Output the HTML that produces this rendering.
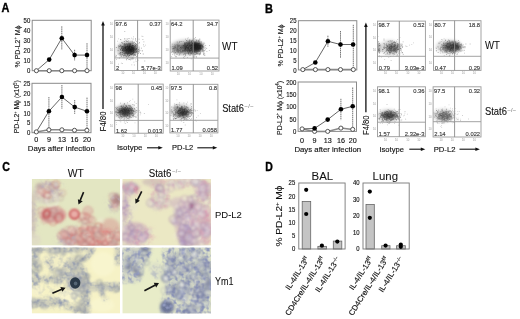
<!DOCTYPE html>
<html><head><meta charset="utf-8"><style>
html,body{margin:0;padding:0;background:#fff;width:520px;height:319px;overflow:hidden}
svg{display:block;filter:blur(0.35px)}
text{font-family:"Liberation Sans",sans-serif}
</style></head><body>
<svg width="520" height="319" viewBox="0 0 520 319" font-family="Liberation Sans, sans-serif">
<rect width="520" height="319" fill="#fff"/>
<clipPath id="m1"><rect x="31.7" y="178.9" width="88.3" height="66.69999999999999"/></clipPath><filter id="fm1" x="-20%" y="-20%" width="140%" height="140%"><feGaussianBlur stdDeviation="1.6"/></filter><filter id="gm1" x="-20%" y="-20%" width="140%" height="140%"><feGaussianBlur stdDeviation="0.85"/></filter><g clip-path="url(#m1)"><rect x="31.7" y="178.9" width="88.3" height="66.69999999999999" fill="#e3e6c2"/><g filter="url(#fm1)"><ellipse cx="40" cy="186" rx="4" ry="3" fill="#987078" fill-opacity="0.6"/><ellipse cx="53" cy="188" rx="6" ry="5" fill="#b09098" fill-opacity="0.5"/><ellipse cx="46" cy="193" rx="14" ry="11" fill="#d0c4c0" fill-opacity="0.5"/><ellipse cx="33" cy="215" rx="3" ry="22" fill="#c4acb0" fill-opacity="0.5"/><ellipse cx="53" cy="215" rx="13" ry="8" fill="#d4848a" fill-opacity="0.75"/><ellipse cx="74.4" cy="214.2" rx="5" ry="5" fill="#e0a0a0" fill-opacity="0.8"/><ellipse cx="88" cy="211" rx="5" ry="4.5" fill="#dcb0a8" fill-opacity="0.5"/><ellipse cx="116" cy="200" rx="5" ry="6.5" fill="#a07078" fill-opacity="0.8"/><ellipse cx="92" cy="237" rx="30" ry="10" fill="#d8a096" fill-opacity="0.75"/><ellipse cx="68" cy="238" rx="9" ry="8" fill="#c0a4b0" fill-opacity="0.7"/><ellipse cx="110" cy="227" rx="10" ry="9" fill="#d8a49a" fill-opacity="0.6"/><ellipse cx="100" cy="245" rx="20" ry="4" fill="#cc8a84" fill-opacity="0.8"/><ellipse cx="86" cy="219" rx="8" ry="5" fill="#dca8a0" fill-opacity="0.5"/><ellipse cx="86.9" cy="234.9" rx="3.5" ry="3.5" fill="#f4f0e0" fill-opacity="0.9"/><ellipse cx="101" cy="221" rx="3" ry="3" fill="#ece8d0" fill-opacity="0.7"/><ellipse cx="75" cy="229" rx="2.5" ry="2.5" fill="#f0ece0" fill-opacity="0.6"/><ellipse cx="35" cy="240" rx="6" ry="6" fill="#dcd0c8" fill-opacity="0.4"/><ellipse cx="70" cy="233" rx="3" ry="3" fill="#ece8d0" fill-opacity="0.6"/><ellipse cx="97" cy="241" rx="3" ry="2.5" fill="#ece8d0" fill-opacity="0.6"/><ellipse cx="108" cy="237" rx="3" ry="3" fill="#e4ecd0" fill-opacity="0.6"/><ellipse cx="116" cy="232" rx="2.5" ry="2.5" fill="#e4ecd0" fill-opacity="0.6"/></g><filter id="tm10" x="0" y="0" width="100%" height="100%" filterUnits="userSpaceOnUse"><feGaussianBlur in="SourceGraphic" stdDeviation="2.5" result="m"/><feTurbulence type="fractalNoise" baseFrequency="0.22" numOctaves="2" seed="11" result="n"/><feColorMatrix in="n" type="matrix" values="0 0 0 0 0.502 0 0 0 0 0.439 0 0 0 0 0.502 2.4 0 0 0 -0.95" result="c"/><feComposite in="c" in2="m" operator="in"/></filter><g filter="url(#tm10)"><ellipse cx="50" cy="190" rx="13" ry="10" fill="#000" fill-opacity="1"/><ellipse cx="114" cy="203" rx="7" ry="9" fill="#000" fill-opacity="1"/><ellipse cx="34" cy="215" rx="3" ry="22" fill="#000" fill-opacity="0.7"/><ellipse cx="66" cy="238" rx="9" ry="9" fill="#000" fill-opacity="1"/></g><filter id="tm11" x="0" y="0" width="100%" height="100%" filterUnits="userSpaceOnUse"><feGaussianBlur in="SourceGraphic" stdDeviation="2.5" result="m"/><feTurbulence type="fractalNoise" baseFrequency="0.2" numOctaves="2" seed="12" result="n"/><feColorMatrix in="n" type="matrix" values="0 0 0 0 0.753 0 0 0 0 0.267 0 0 0 0 0.243 2.4 0 0 0 -0.98" result="c"/><feComposite in="c" in2="m" operator="in"/></filter><g filter="url(#tm11)"><ellipse cx="52" cy="215" rx="12" ry="7" fill="#000" fill-opacity="1"/><ellipse cx="92" cy="237" rx="30" ry="10" fill="#000" fill-opacity="1"/><ellipse cx="86" cy="219" rx="7" ry="4" fill="#000" fill-opacity="0.7"/></g><g filter="url(#gm1)"><circle cx="51.1" cy="215.5" r="3.3" fill="#f4e4d8" fill-opacity="0.22" stroke="#b86868" stroke-width="0.8" stroke-opacity="0.37"/><circle cx="88.6" cy="239.0" r="3.5" fill="#f4e4d8" fill-opacity="0.13" stroke="#a08888" stroke-width="0.7" stroke-opacity="0.53"/><circle cx="84.8" cy="242.8" r="3.6" fill="#f0d4c8" fill-opacity="0.18" stroke="#a08888" stroke-width="0.9" stroke-opacity="0.58"/><circle cx="57.1" cy="212.8" r="2.8" fill="#f0d4c8" fill-opacity="0.22" stroke="#b86868" stroke-width="1.0" stroke-opacity="0.58"/><circle cx="109.9" cy="246.0" r="3.2" fill="#f4e4d8" fill-opacity="0.23" stroke="#a08888" stroke-width="0.8" stroke-opacity="0.34"/><circle cx="85.8" cy="231.3" r="3.3" fill="#f0d4c8" fill-opacity="0.20" stroke="#c04848" stroke-width="0.9" stroke-opacity="0.32"/><circle cx="113.3" cy="203.4" r="3.1" fill="#f4e4d8" fill-opacity="0.22" stroke="#a08888" stroke-width="0.8" stroke-opacity="0.49"/><circle cx="96.2" cy="244.0" r="2.7" fill="#f0d4c8" fill-opacity="0.21" stroke="#c04848" stroke-width="1.1" stroke-opacity="0.60"/><circle cx="56.9" cy="219.6" r="2.5" fill="#f0d4c8" fill-opacity="0.27" stroke="#b86868" stroke-width="0.9" stroke-opacity="0.41"/><circle cx="82.4" cy="229.3" r="2.6" fill="#f0d4c8" fill-opacity="0.15" stroke="#c04848" stroke-width="1.0" stroke-opacity="0.49"/><circle cx="82.9" cy="238.7" r="3.7" fill="#f4e4d8" fill-opacity="0.26" stroke="#b86868" stroke-width="1.0" stroke-opacity="0.43"/><circle cx="77.6" cy="237.7" r="3.3" fill="#f0d4c8" fill-opacity="0.18" stroke="#b86868" stroke-width="0.7" stroke-opacity="0.42"/><circle cx="71.8" cy="230.7" r="3.9" fill="#f0d4c8" fill-opacity="0.28" stroke="#c04848" stroke-width="1.1" stroke-opacity="0.59"/><circle cx="40.0" cy="193.7" r="3.6" fill="#f4e4d8" fill-opacity="0.28" stroke="#b86868" stroke-width="1.0" stroke-opacity="0.30"/><circle cx="73.7" cy="232.8" r="2.6" fill="#f4e4d8" fill-opacity="0.13" stroke="#b86868" stroke-width="1.2" stroke-opacity="0.54"/><circle cx="88.0" cy="238.6" r="2.7" fill="#f0d4c8" fill-opacity="0.22" stroke="#a08888" stroke-width="0.9" stroke-opacity="0.44"/><circle cx="120.6" cy="238.0" r="3.1" fill="#f0d4c8" fill-opacity="0.13" stroke="#c04848" stroke-width="0.9" stroke-opacity="0.49"/><circle cx="46.7" cy="199.8" r="3.2" fill="#f0d4c8" fill-opacity="0.26" stroke="#a08888" stroke-width="0.8" stroke-opacity="0.41"/><circle cx="85.7" cy="232.8" r="3.6" fill="#f0d4c8" fill-opacity="0.11" stroke="#a08888" stroke-width="0.9" stroke-opacity="0.51"/><circle cx="68.9" cy="239.9" r="2.9" fill="#f0d4c8" fill-opacity="0.12" stroke="#a08888" stroke-width="0.8" stroke-opacity="0.54"/><circle cx="91.2" cy="240.4" r="3.4" fill="#f0d4c8" fill-opacity="0.21" stroke="#c04848" stroke-width="1.1" stroke-opacity="0.51"/><circle cx="64.1" cy="235.5" r="3.7" fill="#f4e4d8" fill-opacity="0.27" stroke="#a08888" stroke-width="0.9" stroke-opacity="0.51"/><circle cx="55.5" cy="197.7" r="4.0" fill="#f4e4d8" fill-opacity="0.12" stroke="#a08888" stroke-width="0.7" stroke-opacity="0.47"/><circle cx="80.6" cy="239.1" r="2.3" fill="#f4e4d8" fill-opacity="0.23" stroke="#b86868" stroke-width="1.0" stroke-opacity="0.53"/><circle cx="67.6" cy="230.2" r="3.4" fill="#f0d4c8" fill-opacity="0.13" stroke="#b86868" stroke-width="1.1" stroke-opacity="0.34"/><circle cx="46.3" cy="195.3" r="3.3" fill="#f0d4c8" fill-opacity="0.29" stroke="#a08888" stroke-width="1.0" stroke-opacity="0.53"/><circle cx="92.0" cy="238.1" r="3.3" fill="#f0d4c8" fill-opacity="0.28" stroke="#b86868" stroke-width="0.7" stroke-opacity="0.44"/><circle cx="107.4" cy="235.6" r="3.1" fill="#f4e4d8" fill-opacity="0.27" stroke="#b86868" stroke-width="1.1" stroke-opacity="0.56"/><circle cx="89.5" cy="229.9" r="2.4" fill="#f0d4c8" fill-opacity="0.12" stroke="#b86868" stroke-width="0.7" stroke-opacity="0.43"/><circle cx="52.4" cy="214.3" r="3.4" fill="#f0d4c8" fill-opacity="0.25" stroke="#b86868" stroke-width="1.0" stroke-opacity="0.50"/><circle cx="117.7" cy="235.3" r="3.9" fill="#f0d4c8" fill-opacity="0.23" stroke="#a08888" stroke-width="1.0" stroke-opacity="0.50"/><circle cx="81.5" cy="242.8" r="3.4" fill="#f0d4c8" fill-opacity="0.21" stroke="#a08888" stroke-width="0.8" stroke-opacity="0.44"/><circle cx="102.5" cy="227.2" r="2.5" fill="#f0d4c8" fill-opacity="0.17" stroke="#b86868" stroke-width="0.8" stroke-opacity="0.32"/><circle cx="41.6" cy="210.7" r="3.5" fill="#f0d4c8" fill-opacity="0.28" stroke="#b86868" stroke-width="0.9" stroke-opacity="0.54"/><circle cx="81.9" cy="242.1" r="3.5" fill="#f0d4c8" fill-opacity="0.23" stroke="#b86868" stroke-width="1.1" stroke-opacity="0.52"/><circle cx="112.7" cy="244.9" r="3.2" fill="#f0d4c8" fill-opacity="0.23" stroke="#a08888" stroke-width="1.0" stroke-opacity="0.39"/><circle cx="85.4" cy="228.7" r="3.6" fill="#f4e4d8" fill-opacity="0.20" stroke="#a08888" stroke-width="1.0" stroke-opacity="0.36"/><circle cx="105.3" cy="243.2" r="2.4" fill="#f0d4c8" fill-opacity="0.29" stroke="#c04848" stroke-width="0.8" stroke-opacity="0.54"/><circle cx="62.6" cy="192.9" r="3.2" fill="#f0d4c8" fill-opacity="0.16" stroke="#b86868" stroke-width="1.0" stroke-opacity="0.34"/><circle cx="104.8" cy="243.6" r="3.0" fill="#f4e4d8" fill-opacity="0.20" stroke="#c04848" stroke-width="1.1" stroke-opacity="0.42"/><circle cx="48.4" cy="211.5" r="3.0" fill="#f0d4c8" fill-opacity="0.19" stroke="#b86868" stroke-width="1.1" stroke-opacity="0.52"/><circle cx="78.6" cy="219.3" r="2.2" fill="#f4e4d8" fill-opacity="0.15" stroke="#b86868" stroke-width="0.8" stroke-opacity="0.44"/><circle cx="47.1" cy="191.1" r="2.9" fill="#f4e4d8" fill-opacity="0.23" stroke="#c04848" stroke-width="0.8" stroke-opacity="0.35"/><circle cx="44.2" cy="221.2" r="2.4" fill="#f4e4d8" fill-opacity="0.26" stroke="#b86868" stroke-width="0.8" stroke-opacity="0.54"/><circle cx="72.6" cy="243.7" r="2.6" fill="#f0d4c8" fill-opacity="0.11" stroke="#b86868" stroke-width="1.0" stroke-opacity="0.40"/><circle cx="90.4" cy="241.4" r="4.0" fill="#f0d4c8" fill-opacity="0.17" stroke="#b86868" stroke-width="1.2" stroke-opacity="0.58"/><circle cx="85.9" cy="244.7" r="2.7" fill="#f0d4c8" fill-opacity="0.12" stroke="#b86868" stroke-width="1.0" stroke-opacity="0.46"/><circle cx="107.7" cy="238.7" r="3.9" fill="#f0d4c8" fill-opacity="0.28" stroke="#b86868" stroke-width="1.1" stroke-opacity="0.43"/><circle cx="61.2" cy="235.6" r="3.6" fill="#f0d4c8" fill-opacity="0.29" stroke="#c04848" stroke-width="0.8" stroke-opacity="0.51"/><circle cx="89.3" cy="239.8" r="3.0" fill="#f0d4c8" fill-opacity="0.30" stroke="#c04848" stroke-width="0.7" stroke-opacity="0.42"/><circle cx="49.5" cy="216.8" r="3.6" fill="#f0d4c8" fill-opacity="0.26" stroke="#a08888" stroke-width="1.1" stroke-opacity="0.44"/><circle cx="91.7" cy="226.8" r="3.4" fill="#f4e4d8" fill-opacity="0.16" stroke="#a08888" stroke-width="0.9" stroke-opacity="0.41"/><circle cx="63.1" cy="232.9" r="3.1" fill="#f4e4d8" fill-opacity="0.17" stroke="#c04848" stroke-width="0.9" stroke-opacity="0.43"/><circle cx="86.4" cy="243.6" r="3.0" fill="#f4e4d8" fill-opacity="0.28" stroke="#b86868" stroke-width="0.9" stroke-opacity="0.53"/><circle cx="56.5" cy="213.7" r="2.3" fill="#f4e4d8" fill-opacity="0.16" stroke="#b86868" stroke-width="0.7" stroke-opacity="0.44"/><circle cx="114.4" cy="208.2" r="3.1" fill="#f0d4c8" fill-opacity="0.30" stroke="#a08888" stroke-width="0.9" stroke-opacity="0.35"/><circle cx="58.1" cy="209.6" r="3.2" fill="#f0d4c8" fill-opacity="0.29" stroke="#b86868" stroke-width="0.8" stroke-opacity="0.44"/><circle cx="112.3" cy="234.6" r="2.6" fill="#f4e4d8" fill-opacity="0.10" stroke="#a08888" stroke-width="1.0" stroke-opacity="0.46"/><circle cx="102.8" cy="247.1" r="2.5" fill="#f4e4d8" fill-opacity="0.16" stroke="#b86868" stroke-width="1.1" stroke-opacity="0.48"/><circle cx="75.7" cy="228.5" r="2.3" fill="#f4e4d8" fill-opacity="0.23" stroke="#a08888" stroke-width="0.8" stroke-opacity="0.53"/><circle cx="81.9" cy="245.2" r="3.7" fill="#f0d4c8" fill-opacity="0.20" stroke="#b86868" stroke-width="1.0" stroke-opacity="0.38"/><circle cx="89.3" cy="241.1" r="3.0" fill="#f0d4c8" fill-opacity="0.17" stroke="#a08888" stroke-width="0.8" stroke-opacity="0.35"/><circle cx="58.4" cy="213.8" r="3.7" fill="#f0d4c8" fill-opacity="0.29" stroke="#a08888" stroke-width="0.8" stroke-opacity="0.39"/><circle cx="99.7" cy="236.0" r="2.8" fill="#f0d4c8" fill-opacity="0.14" stroke="#b86868" stroke-width="1.2" stroke-opacity="0.42"/><circle cx="86.3" cy="216.3" r="3.0" fill="#f0d4c8" fill-opacity="0.30" stroke="#c04848" stroke-width="0.9" stroke-opacity="0.59"/><circle cx="98.2" cy="226.7" r="3.3" fill="#f4e4d8" fill-opacity="0.23" stroke="#c04848" stroke-width="1.2" stroke-opacity="0.59"/><circle cx="56.0" cy="216.6" r="3.1" fill="#f4e4d8" fill-opacity="0.13" stroke="#a08888" stroke-width="0.8" stroke-opacity="0.60"/><circle cx="55.2" cy="185.4" r="2.4" fill="#f0d4c8" fill-opacity="0.29" stroke="#a08888" stroke-width="0.7" stroke-opacity="0.36"/><circle cx="84.7" cy="243.7" r="2.5" fill="#f4e4d8" fill-opacity="0.16" stroke="#c04848" stroke-width="0.8" stroke-opacity="0.48"/><circle cx="45.5" cy="217.6" r="2.4" fill="#f0d4c8" fill-opacity="0.30" stroke="#a08888" stroke-width="0.9" stroke-opacity="0.51"/><circle cx="54.6" cy="209.6" r="2.8" fill="#f4e4d8" fill-opacity="0.16" stroke="#a08888" stroke-width="1.0" stroke-opacity="0.49"/><circle cx="84.4" cy="227.0" r="3.5" fill="#f0d4c8" fill-opacity="0.27" stroke="#b86868" stroke-width="0.8" stroke-opacity="0.59"/><circle cx="68.8" cy="237.5" r="2.3" fill="#f0d4c8" fill-opacity="0.18" stroke="#c04848" stroke-width="0.9" stroke-opacity="0.36"/><circle cx="80.4" cy="240.2" r="3.8" fill="#f0d4c8" fill-opacity="0.10" stroke="#b86868" stroke-width="1.0" stroke-opacity="0.42"/><circle cx="42.5" cy="191.9" r="3.3" fill="#f4e4d8" fill-opacity="0.28" stroke="#c04848" stroke-width="0.9" stroke-opacity="0.38"/><circle cx="98.2" cy="236.1" r="3.8" fill="#f0d4c8" fill-opacity="0.17" stroke="#a08888" stroke-width="0.8" stroke-opacity="0.56"/><circle cx="112.7" cy="196.7" r="3.7" fill="#f4e4d8" fill-opacity="0.19" stroke="#b86868" stroke-width="0.9" stroke-opacity="0.45"/><circle cx="84.0" cy="244.9" r="2.7" fill="#f4e4d8" fill-opacity="0.11" stroke="#a08888" stroke-width="1.2" stroke-opacity="0.32"/><circle cx="68.5" cy="240.9" r="2.8" fill="#f0d4c8" fill-opacity="0.28" stroke="#c04848" stroke-width="1.1" stroke-opacity="0.36"/><circle cx="41.2" cy="214.5" r="2.8" fill="#f4e4d8" fill-opacity="0.19" stroke="#a08888" stroke-width="0.9" stroke-opacity="0.39"/><circle cx="114.9" cy="204.8" r="2.5" fill="#f4e4d8" fill-opacity="0.17" stroke="#c04848" stroke-width="0.9" stroke-opacity="0.56"/><circle cx="45.5" cy="194.1" r="3.4" fill="#f0d4c8" fill-opacity="0.25" stroke="#c04848" stroke-width="0.8" stroke-opacity="0.43"/><circle cx="92.0" cy="220.2" r="3.6" fill="#f0d4c8" fill-opacity="0.22" stroke="#b86868" stroke-width="1.0" stroke-opacity="0.49"/><circle cx="102.9" cy="238.4" r="3.2" fill="#f0d4c8" fill-opacity="0.20" stroke="#b86868" stroke-width="1.0" stroke-opacity="0.37"/><circle cx="79.6" cy="238.7" r="3.1" fill="#f0d4c8" fill-opacity="0.26" stroke="#c04848" stroke-width="1.0" stroke-opacity="0.51"/><circle cx="115.8" cy="206.6" r="3.6" fill="#f0d4c8" fill-opacity="0.20" stroke="#a08888" stroke-width="0.8" stroke-opacity="0.39"/><circle cx="72.6" cy="241.9" r="2.9" fill="#f4e4d8" fill-opacity="0.22" stroke="#a08888" stroke-width="0.8" stroke-opacity="0.45"/><circle cx="115.8" cy="239.0" r="2.9" fill="#f4e4d8" fill-opacity="0.20" stroke="#a08888" stroke-width="0.9" stroke-opacity="0.58"/><circle cx="46.2" cy="217.4" r="2.6" fill="#f4e4d8" fill-opacity="0.15" stroke="#b86868" stroke-width="1.1" stroke-opacity="0.52"/><circle cx="95.0" cy="230.5" r="3.0" fill="#f4e4d8" fill-opacity="0.17" stroke="#c04848" stroke-width="0.8" stroke-opacity="0.50"/><circle cx="54.1" cy="212.9" r="3.8" fill="#f0d4c8" fill-opacity="0.20" stroke="#a08888" stroke-width="1.0" stroke-opacity="0.59"/><circle cx="52.9" cy="221.6" r="3.9" fill="#f0d4c8" fill-opacity="0.14" stroke="#c04848" stroke-width="0.8" stroke-opacity="0.59"/><circle cx="55.9" cy="184.4" r="3.7" fill="#f4e4d8" fill-opacity="0.15" stroke="#c04848" stroke-width="1.0" stroke-opacity="0.57"/><circle cx="65.3" cy="234.5" r="3.4" fill="#f0d4c8" fill-opacity="0.23" stroke="#b86868" stroke-width="0.9" stroke-opacity="0.54"/><circle cx="82.7" cy="215.6" r="2.7" fill="#f4e4d8" fill-opacity="0.18" stroke="#a08888" stroke-width="0.9" stroke-opacity="0.36"/><circle cx="91.2" cy="229.4" r="3.0" fill="#f0d4c8" fill-opacity="0.26" stroke="#c04848" stroke-width="1.1" stroke-opacity="0.45"/><circle cx="83.6" cy="221.2" r="2.4" fill="#f4e4d8" fill-opacity="0.15" stroke="#a08888" stroke-width="1.2" stroke-opacity="0.34"/><circle cx="95.5" cy="239.1" r="2.3" fill="#f0d4c8" fill-opacity="0.16" stroke="#b86868" stroke-width="0.9" stroke-opacity="0.53"/><circle cx="99.3" cy="228.4" r="2.5" fill="#f0d4c8" fill-opacity="0.20" stroke="#a08888" stroke-width="0.7" stroke-opacity="0.32"/><circle cx="92.5" cy="243.2" r="3.5" fill="#f0d4c8" fill-opacity="0.19" stroke="#b86868" stroke-width="1.0" stroke-opacity="0.31"/><circle cx="53.0" cy="210.3" r="2.8" fill="#f0d4c8" fill-opacity="0.25" stroke="#b86868" stroke-width="0.9" stroke-opacity="0.36"/><circle cx="51.3" cy="218.4" r="2.6" fill="#f4e4d8" fill-opacity="0.16" stroke="#a08888" stroke-width="0.8" stroke-opacity="0.45"/><circle cx="97.8" cy="230.5" r="3.5" fill="#f0d4c8" fill-opacity="0.21" stroke="#c04848" stroke-width="0.8" stroke-opacity="0.36"/><circle cx="89.6" cy="227.9" r="2.5" fill="#f4e4d8" fill-opacity="0.30" stroke="#c04848" stroke-width="0.9" stroke-opacity="0.45"/><circle cx="40.1" cy="190.3" r="2.9" fill="#f4e4d8" fill-opacity="0.27" stroke="#b86868" stroke-width="0.8" stroke-opacity="0.57"/><circle cx="60.1" cy="197.9" r="3.2" fill="#f0d4c8" fill-opacity="0.10" stroke="#a08888" stroke-width="0.8" stroke-opacity="0.55"/><circle cx="116.8" cy="230.6" r="2.3" fill="#f0d4c8" fill-opacity="0.17" stroke="#b86868" stroke-width="0.8" stroke-opacity="0.59"/><circle cx="114.1" cy="242.4" r="2.4" fill="#f0d4c8" fill-opacity="0.15" stroke="#a08888" stroke-width="1.2" stroke-opacity="0.38"/><circle cx="90.4" cy="219.0" r="2.4" fill="#f4e4d8" fill-opacity="0.10" stroke="#b86868" stroke-width="0.9" stroke-opacity="0.35"/><circle cx="58.6" cy="215.4" r="2.8" fill="#f0d4c8" fill-opacity="0.10" stroke="#b86868" stroke-width="1.1" stroke-opacity="0.43"/><circle cx="77.3" cy="237.4" r="2.9" fill="#f0d4c8" fill-opacity="0.25" stroke="#a08888" stroke-width="0.9" stroke-opacity="0.47"/><circle cx="50.7" cy="214.5" r="2.5" fill="#f0d4c8" fill-opacity="0.16" stroke="#b86868" stroke-width="1.0" stroke-opacity="0.55"/><circle cx="71.3" cy="230.0" r="4.0" fill="#f0d4c8" fill-opacity="0.28" stroke="#a08888" stroke-width="1.1" stroke-opacity="0.33"/><circle cx="47.7" cy="183.5" r="2.8" fill="#f4e4d8" fill-opacity="0.11" stroke="#b86868" stroke-width="0.7" stroke-opacity="0.45"/><circle cx="95.2" cy="230.0" r="3.6" fill="#f4e4d8" fill-opacity="0.27" stroke="#a08888" stroke-width="1.0" stroke-opacity="0.59"/><circle cx="49.2" cy="218.6" r="3.7" fill="#f0d4c8" fill-opacity="0.20" stroke="#b86868" stroke-width="1.0" stroke-opacity="0.34"/><circle cx="97.4" cy="234.1" r="2.7" fill="#f4e4d8" fill-opacity="0.25" stroke="#a08888" stroke-width="1.1" stroke-opacity="0.43"/><circle cx="85.4" cy="220.8" r="3.1" fill="#f0d4c8" fill-opacity="0.26" stroke="#a08888" stroke-width="0.8" stroke-opacity="0.54"/><circle cx="47.8" cy="195.0" r="3.2" fill="#f0d4c8" fill-opacity="0.10" stroke="#c04848" stroke-width="1.2" stroke-opacity="0.49"/><circle cx="46.8" cy="213.5" r="2.8" fill="#f0d4c8" fill-opacity="0.20" stroke="#c04848" stroke-width="1.2" stroke-opacity="0.49"/><circle cx="82.5" cy="216.6" r="3.6" fill="#f0d4c8" fill-opacity="0.22" stroke="#c04848" stroke-width="0.9" stroke-opacity="0.50"/><circle cx="89.7" cy="232.1" r="3.9" fill="#f0d4c8" fill-opacity="0.16" stroke="#c04848" stroke-width="0.7" stroke-opacity="0.59"/><circle cx="85.1" cy="246.3" r="3.9" fill="#f0d4c8" fill-opacity="0.17" stroke="#b86868" stroke-width="0.8" stroke-opacity="0.35"/><circle cx="51.8" cy="187.3" r="2.4" fill="#f0d4c8" fill-opacity="0.30" stroke="#a08888" stroke-width="1.0" stroke-opacity="0.56"/><circle cx="82.9" cy="235.9" r="2.7" fill="#f0d4c8" fill-opacity="0.23" stroke="#b86868" stroke-width="0.8" stroke-opacity="0.40"/><circle cx="59.1" cy="219.7" r="3.5" fill="#f4e4d8" fill-opacity="0.25" stroke="#b86868" stroke-width="1.0" stroke-opacity="0.36"/><circle cx="99.6" cy="247.3" r="3.2" fill="#f4e4d8" fill-opacity="0.23" stroke="#a08888" stroke-width="0.9" stroke-opacity="0.55"/><circle cx="118.7" cy="236.1" r="3.9" fill="#f0d4c8" fill-opacity="0.22" stroke="#c04848" stroke-width="1.1" stroke-opacity="0.34"/><circle cx="84.0" cy="232.9" r="2.5" fill="#f0d4c8" fill-opacity="0.10" stroke="#a08888" stroke-width="1.0" stroke-opacity="0.56"/><circle cx="92.8" cy="242.2" r="2.3" fill="#f4e4d8" fill-opacity="0.29" stroke="#c04848" stroke-width="0.8" stroke-opacity="0.49"/><circle cx="46.5" cy="214.2" r="3.8" fill="none" stroke="#c04048" stroke-width="1.5" opacity="0.75"/><circle cx="58.9" cy="217.3" r="4" fill="none" stroke="#c84850" stroke-width="1.3" opacity="0.65"/><circle cx="74.4" cy="214.2" r="4.4" fill="#eaaea8" stroke="#c83840" stroke-width="1.6" opacity="0.95"/><circle cx="88" cy="211" r="4.5" fill="none" stroke="#d08080" stroke-width="1.0" opacity="0.5"/><circle cx="52" cy="200" r="6" fill="none" stroke="#f4f0e8" stroke-width="1.2" opacity="0.6"/></g></g><line x1="83.6" y1="192.1" x2="80.07" y2="200.61" stroke="#151515" stroke-width="1.6"/><path d="M78.50 204.40 L77.86 199.15 L82.66 201.15 Z" fill="#151515"/><clipPath id="m2"><rect x="122.3" y="178.9" width="88.7" height="66.69999999999999"/></clipPath><filter id="fm2" x="-20%" y="-20%" width="140%" height="140%"><feGaussianBlur stdDeviation="1.6"/></filter><filter id="gm2" x="-20%" y="-20%" width="140%" height="140%"><feGaussianBlur stdDeviation="0.85"/></filter><g clip-path="url(#m2)"><rect x="122.3" y="178.9" width="88.7" height="66.69999999999999" fill="#ebe8c4"/><g filter="url(#fm2)"><ellipse cx="130" cy="188" rx="9" ry="6" fill="#a888b0" fill-opacity="0.6"/><ellipse cx="135.5" cy="188.7" rx="2" ry="2" fill="#c03050" fill-opacity="0.9"/><ellipse cx="125" cy="208" rx="4" ry="14" fill="#b898b8" fill-opacity="0.5"/><ellipse cx="135" cy="234" rx="14" ry="12" fill="#c4a0b8" fill-opacity="0.55"/><ellipse cx="153" cy="182" rx="11" ry="4" fill="#c0a8b0" fill-opacity="0.5"/><ellipse cx="185" cy="183" rx="22" ry="4" fill="#d0c0c4" fill-opacity="0.4"/><ellipse cx="160" cy="200" rx="10" ry="10" fill="#c8b4bc" fill-opacity="0.4"/><ellipse cx="192" cy="224" rx="17" ry="24" fill="#c8a4b8" fill-opacity="0.5"/><ellipse cx="186" cy="236" rx="7" ry="12" fill="#9880b0" fill-opacity="0.55"/><ellipse cx="206" cy="225" rx="6" ry="20" fill="#d0a0b4" fill-opacity="0.55"/><ellipse cx="204" cy="190" rx="7" ry="10" fill="#c098b0" fill-opacity="0.55"/><ellipse cx="191.4" cy="205.9" rx="3" ry="3" fill="#803068" fill-opacity="0.9"/><ellipse cx="178" cy="203" rx="8" ry="6" fill="#c8a8c0" fill-opacity="0.45"/><ellipse cx="200" cy="238" rx="3.5" ry="3.5" fill="#f0ecd8" fill-opacity="0.6"/><ellipse cx="181" cy="213" rx="3" ry="3" fill="#f0ecd8" fill-opacity="0.5"/><ellipse cx="203" cy="210" rx="3.5" ry="3" fill="#f0ecd8" fill-opacity="0.5"/><ellipse cx="196" cy="197" rx="3" ry="3" fill="#f0ecd8" fill-opacity="0.4"/><ellipse cx="176" cy="236" rx="3" ry="3" fill="#f0ecd8" fill-opacity="0.4"/><ellipse cx="134" cy="205" rx="4" ry="6" fill="#e8e4d0" fill-opacity="0.5"/></g><filter id="tm20" x="0" y="0" width="100%" height="100%" filterUnits="userSpaceOnUse"><feGaussianBlur in="SourceGraphic" stdDeviation="2.5" result="m"/><feTurbulence type="fractalNoise" baseFrequency="0.2" numOctaves="2" seed="21" result="n"/><feColorMatrix in="n" type="matrix" values="0 0 0 0 0.416 0 0 0 0 0.290 0 0 0 0 0.533 2.4 0 0 0 -1.0" result="c"/><feComposite in="c" in2="m" operator="in"/></filter><g filter="url(#tm20)"><ellipse cx="126" cy="212" rx="5" ry="16" fill="#000" fill-opacity="0.8"/><ellipse cx="186" cy="232" rx="8" ry="16" fill="#000" fill-opacity="1"/><ellipse cx="190" cy="212" rx="7" ry="8" fill="#000" fill-opacity="0.7"/><ellipse cx="135" cy="236" rx="12" ry="9" fill="#000" fill-opacity="0.6"/></g><filter id="tm21" x="0" y="0" width="100%" height="100%" filterUnits="userSpaceOnUse"><feGaussianBlur in="SourceGraphic" stdDeviation="2.5" result="m"/><feTurbulence type="fractalNoise" baseFrequency="0.2" numOctaves="2" seed="22" result="n"/><feColorMatrix in="n" type="matrix" values="0 0 0 0 0.722 0 0 0 0 0.345 0 0 0 0 0.439 2.4 0 0 0 -0.98" result="c"/><feComposite in="c" in2="m" operator="in"/></filter><g filter="url(#tm21)"><ellipse cx="130" cy="189" rx="10" ry="7" fill="#000" fill-opacity="1"/><ellipse cx="204" cy="192" rx="8" ry="12" fill="#000" fill-opacity="1"/><ellipse cx="206" cy="225" rx="6" ry="20" fill="#000" fill-opacity="1"/><ellipse cx="178" cy="183" rx="30" ry="5" fill="#000" fill-opacity="0.6"/><ellipse cx="160" cy="198" rx="11" ry="11" fill="#000" fill-opacity="0.6"/><ellipse cx="140" cy="236" rx="14" ry="10" fill="#000" fill-opacity="0.8"/><ellipse cx="196" cy="222" rx="12" ry="18" fill="#000" fill-opacity="0.6"/></g><g filter="url(#gm2)"><circle cx="156.8" cy="187.2" r="2.9" fill="#e8d8e0" fill-opacity="0.26" stroke="#8a6aa0" stroke-width="0.8" stroke-opacity="0.33"/><circle cx="197.8" cy="234.5" r="2.5" fill="#e8d8e0" fill-opacity="0.16" stroke="#9080a8" stroke-width="1.2" stroke-opacity="0.41"/><circle cx="151.3" cy="204.1" r="2.6" fill="#e8d8e0" fill-opacity="0.12" stroke="#9080a8" stroke-width="1.1" stroke-opacity="0.20"/><circle cx="148.8" cy="231.5" r="3.0" fill="#e8d8e0" fill-opacity="0.19" stroke="#8a6aa0" stroke-width="0.8" stroke-opacity="0.26"/><circle cx="194.8" cy="181.8" r="4.0" fill="#e8d8e0" fill-opacity="0.24" stroke="#8a6aa0" stroke-width="1.2" stroke-opacity="0.25"/><circle cx="190.0" cy="199.2" r="3.8" fill="#f0e8e8" fill-opacity="0.27" stroke="#9080a8" stroke-width="0.8" stroke-opacity="0.39"/><circle cx="188.9" cy="245.7" r="2.7" fill="#f0e8e8" fill-opacity="0.26" stroke="#a07090" stroke-width="1.1" stroke-opacity="0.42"/><circle cx="204.0" cy="197.1" r="3.3" fill="#f0e8e8" fill-opacity="0.17" stroke="#8a6aa0" stroke-width="0.9" stroke-opacity="0.31"/><circle cx="176.7" cy="215.6" r="2.8" fill="#f0e8e8" fill-opacity="0.12" stroke="#9080a8" stroke-width="0.8" stroke-opacity="0.45"/><circle cx="165.9" cy="191.8" r="3.4" fill="#e8d8e0" fill-opacity="0.27" stroke="#a07090" stroke-width="0.8" stroke-opacity="0.21"/><circle cx="192.4" cy="206.2" r="2.8" fill="#e8d8e0" fill-opacity="0.21" stroke="#9080a8" stroke-width="0.9" stroke-opacity="0.43"/><circle cx="181.2" cy="233.4" r="3.1" fill="#f0e8e8" fill-opacity="0.19" stroke="#9080a8" stroke-width="1.1" stroke-opacity="0.43"/><circle cx="195.0" cy="222.6" r="3.2" fill="#e8d8e0" fill-opacity="0.17" stroke="#a07090" stroke-width="1.2" stroke-opacity="0.22"/><circle cx="182.5" cy="180.3" r="3.3" fill="#e8d8e0" fill-opacity="0.25" stroke="#a07090" stroke-width="0.8" stroke-opacity="0.20"/><circle cx="193.4" cy="239.7" r="3.8" fill="#f0e8e8" fill-opacity="0.13" stroke="#9080a8" stroke-width="0.9" stroke-opacity="0.42"/><circle cx="192.6" cy="210.2" r="2.2" fill="#f0e8e8" fill-opacity="0.24" stroke="#8a6aa0" stroke-width="0.9" stroke-opacity="0.42"/><circle cx="176.9" cy="186.0" r="3.6" fill="#f0e8e8" fill-opacity="0.16" stroke="#a07090" stroke-width="1.1" stroke-opacity="0.22"/><circle cx="193.9" cy="198.5" r="3.1" fill="#e8d8e0" fill-opacity="0.12" stroke="#8a6aa0" stroke-width="1.2" stroke-opacity="0.40"/><circle cx="180.7" cy="184.7" r="3.6" fill="#e8d8e0" fill-opacity="0.21" stroke="#9080a8" stroke-width="0.8" stroke-opacity="0.41"/><circle cx="183.4" cy="220.2" r="3.8" fill="#e8d8e0" fill-opacity="0.26" stroke="#9080a8" stroke-width="0.9" stroke-opacity="0.42"/><circle cx="193.8" cy="220.5" r="2.5" fill="#e8d8e0" fill-opacity="0.30" stroke="#a07090" stroke-width="0.8" stroke-opacity="0.22"/><circle cx="132.9" cy="234.7" r="3.8" fill="#e8d8e0" fill-opacity="0.14" stroke="#a07090" stroke-width="1.0" stroke-opacity="0.42"/><circle cx="150.5" cy="202.9" r="3.8" fill="#f0e8e8" fill-opacity="0.20" stroke="#8a6aa0" stroke-width="1.1" stroke-opacity="0.40"/><circle cx="209.6" cy="187.4" r="3.1" fill="#f0e8e8" fill-opacity="0.25" stroke="#8a6aa0" stroke-width="0.8" stroke-opacity="0.32"/><circle cx="203.2" cy="192.1" r="3.4" fill="#e8d8e0" fill-opacity="0.28" stroke="#8a6aa0" stroke-width="1.1" stroke-opacity="0.38"/><circle cx="120.5" cy="189.3" r="3.4" fill="#e8d8e0" fill-opacity="0.18" stroke="#a07090" stroke-width="1.0" stroke-opacity="0.24"/><circle cx="127.9" cy="194.6" r="3.9" fill="#f0e8e8" fill-opacity="0.13" stroke="#8a6aa0" stroke-width="0.7" stroke-opacity="0.23"/><circle cx="123.7" cy="204.8" r="3.3" fill="#e8d8e0" fill-opacity="0.10" stroke="#8a6aa0" stroke-width="0.8" stroke-opacity="0.22"/><circle cx="203.6" cy="226.9" r="3.4" fill="#f0e8e8" fill-opacity="0.28" stroke="#9080a8" stroke-width="0.7" stroke-opacity="0.29"/><circle cx="167.4" cy="203.2" r="3.8" fill="#e8d8e0" fill-opacity="0.21" stroke="#a07090" stroke-width="1.1" stroke-opacity="0.28"/><circle cx="155.9" cy="206.7" r="3.8" fill="#f0e8e8" fill-opacity="0.16" stroke="#8a6aa0" stroke-width="0.7" stroke-opacity="0.23"/><circle cx="201.6" cy="225.6" r="2.8" fill="#f0e8e8" fill-opacity="0.27" stroke="#9080a8" stroke-width="0.8" stroke-opacity="0.32"/><circle cx="198.1" cy="206.0" r="3.7" fill="#f0e8e8" fill-opacity="0.15" stroke="#9080a8" stroke-width="1.0" stroke-opacity="0.40"/><circle cx="195.8" cy="182.0" r="2.8" fill="#f0e8e8" fill-opacity="0.23" stroke="#9080a8" stroke-width="0.7" stroke-opacity="0.28"/><circle cx="207.2" cy="188.8" r="3.1" fill="#f0e8e8" fill-opacity="0.11" stroke="#9080a8" stroke-width="0.7" stroke-opacity="0.40"/><circle cx="205.3" cy="226.6" r="4.0" fill="#f0e8e8" fill-opacity="0.11" stroke="#8a6aa0" stroke-width="1.0" stroke-opacity="0.36"/><circle cx="122.5" cy="210.7" r="2.8" fill="#e8d8e0" fill-opacity="0.26" stroke="#a07090" stroke-width="1.1" stroke-opacity="0.36"/><circle cx="157.4" cy="188.5" r="2.3" fill="#e8d8e0" fill-opacity="0.21" stroke="#a07090" stroke-width="1.1" stroke-opacity="0.38"/><circle cx="160.7" cy="188.6" r="3.8" fill="#e8d8e0" fill-opacity="0.17" stroke="#a07090" stroke-width="1.2" stroke-opacity="0.43"/><circle cx="183.3" cy="222.5" r="2.8" fill="#f0e8e8" fill-opacity="0.22" stroke="#9080a8" stroke-width="0.8" stroke-opacity="0.43"/><circle cx="182.6" cy="240.6" r="2.4" fill="#e8d8e0" fill-opacity="0.10" stroke="#9080a8" stroke-width="1.2" stroke-opacity="0.24"/><circle cx="142.4" cy="237.2" r="3.9" fill="#e8d8e0" fill-opacity="0.27" stroke="#9080a8" stroke-width="1.0" stroke-opacity="0.43"/><circle cx="126.5" cy="237.5" r="3.5" fill="#f0e8e8" fill-opacity="0.25" stroke="#8a6aa0" stroke-width="1.0" stroke-opacity="0.27"/><circle cx="175.5" cy="221.8" r="3.6" fill="#e8d8e0" fill-opacity="0.30" stroke="#8a6aa0" stroke-width="0.8" stroke-opacity="0.25"/><circle cx="124.7" cy="241.6" r="3.4" fill="#e8d8e0" fill-opacity="0.12" stroke="#8a6aa0" stroke-width="1.1" stroke-opacity="0.30"/><circle cx="176.2" cy="212.0" r="3.0" fill="#e8d8e0" fill-opacity="0.27" stroke="#8a6aa0" stroke-width="0.8" stroke-opacity="0.29"/><circle cx="201.2" cy="244.2" r="2.9" fill="#f0e8e8" fill-opacity="0.29" stroke="#8a6aa0" stroke-width="1.2" stroke-opacity="0.25"/><circle cx="184.6" cy="199.3" r="3.9" fill="#e8d8e0" fill-opacity="0.26" stroke="#a07090" stroke-width="0.8" stroke-opacity="0.45"/><circle cx="206.7" cy="228.0" r="2.8" fill="#f0e8e8" fill-opacity="0.28" stroke="#a07090" stroke-width="0.8" stroke-opacity="0.37"/><circle cx="125.1" cy="236.6" r="2.8" fill="#f0e8e8" fill-opacity="0.24" stroke="#8a6aa0" stroke-width="0.9" stroke-opacity="0.26"/><circle cx="174.7" cy="221.1" r="3.3" fill="#f0e8e8" fill-opacity="0.19" stroke="#a07090" stroke-width="1.0" stroke-opacity="0.29"/><circle cx="188.4" cy="243.4" r="3.4" fill="#e8d8e0" fill-opacity="0.15" stroke="#a07090" stroke-width="1.2" stroke-opacity="0.21"/><circle cx="200.1" cy="211.8" r="2.3" fill="#f0e8e8" fill-opacity="0.30" stroke="#8a6aa0" stroke-width="1.0" stroke-opacity="0.23"/><circle cx="198.7" cy="215.1" r="3.9" fill="#f0e8e8" fill-opacity="0.26" stroke="#9080a8" stroke-width="0.8" stroke-opacity="0.24"/><circle cx="202.9" cy="196.3" r="3.6" fill="#f0e8e8" fill-opacity="0.28" stroke="#a07090" stroke-width="1.2" stroke-opacity="0.21"/><circle cx="206.2" cy="202.1" r="3.4" fill="#e8d8e0" fill-opacity="0.26" stroke="#8a6aa0" stroke-width="0.8" stroke-opacity="0.41"/><circle cx="179.0" cy="213.0" r="3.4" fill="#f0e8e8" fill-opacity="0.13" stroke="#8a6aa0" stroke-width="1.1" stroke-opacity="0.44"/><circle cx="174.2" cy="221.2" r="2.2" fill="#f0e8e8" fill-opacity="0.25" stroke="#9080a8" stroke-width="1.0" stroke-opacity="0.39"/><circle cx="173.6" cy="219.4" r="3.9" fill="#f0e8e8" fill-opacity="0.16" stroke="#a07090" stroke-width="1.2" stroke-opacity="0.41"/><circle cx="186.1" cy="214.7" r="2.7" fill="#f0e8e8" fill-opacity="0.16" stroke="#8a6aa0" stroke-width="1.1" stroke-opacity="0.28"/><circle cx="198.3" cy="188.7" r="4.0" fill="#f0e8e8" fill-opacity="0.20" stroke="#8a6aa0" stroke-width="1.1" stroke-opacity="0.20"/><circle cx="181.3" cy="216.3" r="2.6" fill="#e8d8e0" fill-opacity="0.18" stroke="#9080a8" stroke-width="0.9" stroke-opacity="0.38"/><circle cx="194.2" cy="182.9" r="2.2" fill="#f0e8e8" fill-opacity="0.19" stroke="#9080a8" stroke-width="0.7" stroke-opacity="0.26"/><circle cx="202.5" cy="185.5" r="2.4" fill="#e8d8e0" fill-opacity="0.21" stroke="#a07090" stroke-width="0.9" stroke-opacity="0.34"/><circle cx="171.6" cy="182.5" r="3.0" fill="#f0e8e8" fill-opacity="0.25" stroke="#8a6aa0" stroke-width="0.8" stroke-opacity="0.23"/><circle cx="191.1" cy="240.1" r="3.4" fill="#e8d8e0" fill-opacity="0.28" stroke="#9080a8" stroke-width="0.8" stroke-opacity="0.43"/><circle cx="198.0" cy="227.6" r="3.5" fill="#f0e8e8" fill-opacity="0.22" stroke="#9080a8" stroke-width="0.8" stroke-opacity="0.31"/><circle cx="196.4" cy="225.6" r="3.6" fill="#f0e8e8" fill-opacity="0.28" stroke="#a07090" stroke-width="1.2" stroke-opacity="0.31"/><circle cx="198.8" cy="207.2" r="3.8" fill="#e8d8e0" fill-opacity="0.14" stroke="#a07090" stroke-width="0.9" stroke-opacity="0.27"/><circle cx="187.2" cy="216.9" r="4.0" fill="#f0e8e8" fill-opacity="0.29" stroke="#a07090" stroke-width="1.1" stroke-opacity="0.29"/><circle cx="193.8" cy="241.3" r="3.4" fill="#e8d8e0" fill-opacity="0.22" stroke="#9080a8" stroke-width="0.8" stroke-opacity="0.36"/><circle cx="196.8" cy="232.0" r="3.7" fill="#e8d8e0" fill-opacity="0.21" stroke="#a07090" stroke-width="1.1" stroke-opacity="0.37"/><circle cx="170.9" cy="187.8" r="3.7" fill="#f0e8e8" fill-opacity="0.14" stroke="#8a6aa0" stroke-width="1.0" stroke-opacity="0.28"/><circle cx="181.8" cy="226.7" r="2.7" fill="#f0e8e8" fill-opacity="0.27" stroke="#a07090" stroke-width="1.2" stroke-opacity="0.21"/><circle cx="124.1" cy="229.2" r="3.9" fill="#f0e8e8" fill-opacity="0.27" stroke="#9080a8" stroke-width="1.2" stroke-opacity="0.31"/><circle cx="188.7" cy="213.2" r="3.5" fill="#f0e8e8" fill-opacity="0.13" stroke="#8a6aa0" stroke-width="1.0" stroke-opacity="0.33"/><circle cx="206.9" cy="210.2" r="3.9" fill="#e8d8e0" fill-opacity="0.15" stroke="#9080a8" stroke-width="0.8" stroke-opacity="0.34"/><circle cx="193.7" cy="227.1" r="3.1" fill="#f0e8e8" fill-opacity="0.29" stroke="#8a6aa0" stroke-width="1.0" stroke-opacity="0.30"/><circle cx="203.1" cy="215.2" r="2.8" fill="#f0e8e8" fill-opacity="0.20" stroke="#9080a8" stroke-width="0.7" stroke-opacity="0.33"/><circle cx="145.7" cy="236.0" r="2.5" fill="#e8d8e0" fill-opacity="0.22" stroke="#a07090" stroke-width="1.0" stroke-opacity="0.27"/><circle cx="189.0" cy="219.6" r="3.9" fill="#f0e8e8" fill-opacity="0.27" stroke="#a07090" stroke-width="1.2" stroke-opacity="0.24"/><circle cx="191.7" cy="200.2" r="2.6" fill="#e8d8e0" fill-opacity="0.29" stroke="#a07090" stroke-width="0.8" stroke-opacity="0.24"/><circle cx="197.0" cy="208.6" r="3.8" fill="#f0e8e8" fill-opacity="0.26" stroke="#a07090" stroke-width="0.8" stroke-opacity="0.24"/><circle cx="175.6" cy="223.5" r="3.0" fill="#e8d8e0" fill-opacity="0.17" stroke="#9080a8" stroke-width="0.7" stroke-opacity="0.28"/><circle cx="203.3" cy="225.0" r="2.3" fill="#f0e8e8" fill-opacity="0.23" stroke="#a07090" stroke-width="1.0" stroke-opacity="0.25"/><circle cx="187.0" cy="209.2" r="2.8" fill="#f0e8e8" fill-opacity="0.24" stroke="#8a6aa0" stroke-width="1.1" stroke-opacity="0.34"/><circle cx="193.0" cy="216.0" r="3.7" fill="#e8d8e0" fill-opacity="0.17" stroke="#8a6aa0" stroke-width="0.8" stroke-opacity="0.21"/><circle cx="188.5" cy="206.4" r="2.8" fill="#e8d8e0" fill-opacity="0.18" stroke="#8a6aa0" stroke-width="0.9" stroke-opacity="0.23"/><circle cx="129.0" cy="231.6" r="3.3" fill="#f0e8e8" fill-opacity="0.11" stroke="#9080a8" stroke-width="1.1" stroke-opacity="0.34"/><circle cx="205.0" cy="227.7" r="2.6" fill="#f0e8e8" fill-opacity="0.19" stroke="#a07090" stroke-width="0.9" stroke-opacity="0.45"/><circle cx="195.4" cy="233.3" r="3.9" fill="#f0e8e8" fill-opacity="0.23" stroke="#a07090" stroke-width="1.0" stroke-opacity="0.42"/><circle cx="202.1" cy="194.3" r="2.8" fill="#f0e8e8" fill-opacity="0.19" stroke="#a07090" stroke-width="1.0" stroke-opacity="0.26"/><circle cx="183.1" cy="210.5" r="3.7" fill="#e8d8e0" fill-opacity="0.24" stroke="#8a6aa0" stroke-width="0.9" stroke-opacity="0.33"/><circle cx="180.8" cy="238.4" r="2.7" fill="#e8d8e0" fill-opacity="0.15" stroke="#a07090" stroke-width="1.1" stroke-opacity="0.28"/><circle cx="203.8" cy="233.4" r="3.8" fill="#e8d8e0" fill-opacity="0.19" stroke="#8a6aa0" stroke-width="0.8" stroke-opacity="0.23"/><circle cx="166.2" cy="187.4" r="3.3" fill="#f0e8e8" fill-opacity="0.16" stroke="#a07090" stroke-width="0.9" stroke-opacity="0.44"/><circle cx="126.7" cy="213.0" r="2.5" fill="#e8d8e0" fill-opacity="0.25" stroke="#8a6aa0" stroke-width="0.9" stroke-opacity="0.34"/><circle cx="196.8" cy="223.1" r="3.9" fill="#f0e8e8" fill-opacity="0.24" stroke="#a07090" stroke-width="0.8" stroke-opacity="0.30"/><circle cx="206.7" cy="233.8" r="2.8" fill="#f0e8e8" fill-opacity="0.28" stroke="#9080a8" stroke-width="0.9" stroke-opacity="0.38"/><circle cx="198.4" cy="183.2" r="4.0" fill="#f0e8e8" fill-opacity="0.19" stroke="#9080a8" stroke-width="0.8" stroke-opacity="0.40"/><circle cx="178.6" cy="220.2" r="3.4" fill="#e8d8e0" fill-opacity="0.12" stroke="#8a6aa0" stroke-width="1.2" stroke-opacity="0.35"/><circle cx="200.3" cy="188.8" r="3.8" fill="#f0e8e8" fill-opacity="0.24" stroke="#a07090" stroke-width="0.9" stroke-opacity="0.27"/><circle cx="161.4" cy="194.7" r="3.1" fill="#f0e8e8" fill-opacity="0.24" stroke="#9080a8" stroke-width="1.0" stroke-opacity="0.38"/><circle cx="192.6" cy="234.6" r="3.4" fill="#e8d8e0" fill-opacity="0.18" stroke="#9080a8" stroke-width="0.9" stroke-opacity="0.42"/><circle cx="190.3" cy="199.4" r="2.6" fill="#f0e8e8" fill-opacity="0.18" stroke="#a07090" stroke-width="1.2" stroke-opacity="0.35"/><circle cx="129.2" cy="191.4" r="3.5" fill="#e8d8e0" fill-opacity="0.12" stroke="#8a6aa0" stroke-width="1.0" stroke-opacity="0.38"/><circle cx="183.1" cy="228.5" r="3.8" fill="#e8d8e0" fill-opacity="0.21" stroke="#8a6aa0" stroke-width="1.2" stroke-opacity="0.34"/><circle cx="131.2" cy="227.2" r="2.3" fill="#f0e8e8" fill-opacity="0.18" stroke="#a07090" stroke-width="1.1" stroke-opacity="0.33"/><circle cx="145.1" cy="235.4" r="3.2" fill="#e8d8e0" fill-opacity="0.16" stroke="#8a6aa0" stroke-width="1.2" stroke-opacity="0.32"/><circle cx="182.0" cy="204.7" r="3.5" fill="#e8d8e0" fill-opacity="0.15" stroke="#8a6aa0" stroke-width="1.2" stroke-opacity="0.22"/><circle cx="159.7" cy="187.8" r="3.1" fill="#e8d8e0" fill-opacity="0.13" stroke="#8a6aa0" stroke-width="1.2" stroke-opacity="0.39"/><circle cx="139.1" cy="228.1" r="2.7" fill="#f0e8e8" fill-opacity="0.17" stroke="#8a6aa0" stroke-width="1.1" stroke-opacity="0.30"/><circle cx="132.1" cy="235.2" r="2.4" fill="#f0e8e8" fill-opacity="0.15" stroke="#a07090" stroke-width="0.9" stroke-opacity="0.39"/><circle cx="188.3" cy="237.5" r="3.8" fill="#f0e8e8" fill-opacity="0.27" stroke="#a07090" stroke-width="1.0" stroke-opacity="0.29"/><circle cx="160.4" cy="200.4" r="3.5" fill="#f0e8e8" fill-opacity="0.26" stroke="#8a6aa0" stroke-width="0.7" stroke-opacity="0.32"/><circle cx="176.9" cy="206.5" r="3.1" fill="#f0e8e8" fill-opacity="0.26" stroke="#a07090" stroke-width="0.7" stroke-opacity="0.29"/><circle cx="197.7" cy="193.7" r="2.4" fill="#e8d8e0" fill-opacity="0.25" stroke="#8a6aa0" stroke-width="0.8" stroke-opacity="0.36"/><circle cx="131.6" cy="237.9" r="3.4" fill="#f0e8e8" fill-opacity="0.17" stroke="#8a6aa0" stroke-width="1.0" stroke-opacity="0.34"/><circle cx="179.1" cy="210.0" r="2.6" fill="#e8d8e0" fill-opacity="0.15" stroke="#9080a8" stroke-width="1.2" stroke-opacity="0.34"/><circle cx="206.2" cy="233.2" r="3.9" fill="#f0e8e8" fill-opacity="0.19" stroke="#9080a8" stroke-width="1.0" stroke-opacity="0.30"/><circle cx="200.5" cy="197.5" r="3.1" fill="#e8d8e0" fill-opacity="0.13" stroke="#8a6aa0" stroke-width="0.8" stroke-opacity="0.30"/><circle cx="210.8" cy="195.9" r="2.9" fill="#f0e8e8" fill-opacity="0.11" stroke="#a07090" stroke-width="1.1" stroke-opacity="0.32"/><circle cx="181.7" cy="233.3" r="3.2" fill="#f0e8e8" fill-opacity="0.28" stroke="#a07090" stroke-width="1.2" stroke-opacity="0.37"/><circle cx="193.2" cy="212.5" r="3.9" fill="#e8d8e0" fill-opacity="0.20" stroke="#a07090" stroke-width="1.0" stroke-opacity="0.39"/><circle cx="158.9" cy="187.7" r="2.6" fill="#f0e8e8" fill-opacity="0.17" stroke="#9080a8" stroke-width="1.0" stroke-opacity="0.29"/><circle cx="201.6" cy="214.1" r="3.7" fill="#f0e8e8" fill-opacity="0.22" stroke="#a07090" stroke-width="0.8" stroke-opacity="0.40"/><circle cx="180.0" cy="213.0" r="2.7" fill="#e8d8e0" fill-opacity="0.29" stroke="#8a6aa0" stroke-width="1.1" stroke-opacity="0.40"/><circle cx="195.1" cy="180.5" r="3.9" fill="#f0e8e8" fill-opacity="0.23" stroke="#9080a8" stroke-width="1.1" stroke-opacity="0.34"/><circle cx="131.4" cy="187.8" r="2.7" fill="#f0e8e8" fill-opacity="0.20" stroke="#a07090" stroke-width="0.8" stroke-opacity="0.25"/><circle cx="136.1" cy="235.3" r="3.3" fill="#f0e8e8" fill-opacity="0.10" stroke="#8a6aa0" stroke-width="0.7" stroke-opacity="0.36"/><circle cx="193.2" cy="228.3" r="2.8" fill="#f0e8e8" fill-opacity="0.23" stroke="#9080a8" stroke-width="1.0" stroke-opacity="0.40"/><circle cx="207.9" cy="229.8" r="3.8" fill="#e8d8e0" fill-opacity="0.15" stroke="#8a6aa0" stroke-width="1.0" stroke-opacity="0.39"/><circle cx="187.0" cy="205.1" r="3.6" fill="#f0e8e8" fill-opacity="0.21" stroke="#a07090" stroke-width="1.1" stroke-opacity="0.25"/><circle cx="123.5" cy="237.8" r="2.8" fill="#e8d8e0" fill-opacity="0.16" stroke="#a07090" stroke-width="1.0" stroke-opacity="0.31"/><circle cx="188.1" cy="179.9" r="3.6" fill="#f0e8e8" fill-opacity="0.27" stroke="#a07090" stroke-width="0.9" stroke-opacity="0.33"/><circle cx="202.7" cy="209.4" r="3.0" fill="#f0e8e8" fill-opacity="0.14" stroke="#8a6aa0" stroke-width="0.9" stroke-opacity="0.22"/><circle cx="201.8" cy="185.1" r="3.8" fill="#e8d8e0" fill-opacity="0.20" stroke="#9080a8" stroke-width="1.1" stroke-opacity="0.27"/><circle cx="181.5" cy="243.2" r="2.7" fill="#f0e8e8" fill-opacity="0.24" stroke="#8a6aa0" stroke-width="1.0" stroke-opacity="0.31"/><circle cx="189.5" cy="224.4" r="3.7" fill="#f0e8e8" fill-opacity="0.18" stroke="#8a6aa0" stroke-width="0.8" stroke-opacity="0.24"/><circle cx="207.8" cy="231.8" r="3.4" fill="#f0e8e8" fill-opacity="0.18" stroke="#8a6aa0" stroke-width="0.8" stroke-opacity="0.33"/><circle cx="133.7" cy="233.0" r="3.2" fill="#e8d8e0" fill-opacity="0.11" stroke="#9080a8" stroke-width="1.2" stroke-opacity="0.33"/><circle cx="186.0" cy="228.5" r="3.0" fill="#f0e8e8" fill-opacity="0.15" stroke="#9080a8" stroke-width="0.9" stroke-opacity="0.39"/><circle cx="159.1" cy="204.9" r="3.0" fill="#e8d8e0" fill-opacity="0.21" stroke="#a07090" stroke-width="1.2" stroke-opacity="0.25"/><circle cx="203.1" cy="188.5" r="3.7" fill="#f0e8e8" fill-opacity="0.26" stroke="#8a6aa0" stroke-width="1.1" stroke-opacity="0.38"/><circle cx="131.8" cy="228.6" r="2.8" fill="#e8d8e0" fill-opacity="0.16" stroke="#8a6aa0" stroke-width="1.2" stroke-opacity="0.35"/><circle cx="208.6" cy="227.5" r="4.0" fill="#f0e8e8" fill-opacity="0.21" stroke="#9080a8" stroke-width="0.8" stroke-opacity="0.28"/><circle cx="172.6" cy="219.6" r="3.5" fill="#e8d8e0" fill-opacity="0.21" stroke="#9080a8" stroke-width="1.2" stroke-opacity="0.20"/><circle cx="142.9" cy="238.8" r="3.3" fill="#e8d8e0" fill-opacity="0.29" stroke="#9080a8" stroke-width="0.8" stroke-opacity="0.25"/><circle cx="132.8" cy="187.1" r="3.6" fill="#f0e8e8" fill-opacity="0.25" stroke="#9080a8" stroke-width="0.7" stroke-opacity="0.28"/><circle cx="129.3" cy="224.3" r="2.3" fill="#f0e8e8" fill-opacity="0.11" stroke="#8a6aa0" stroke-width="0.8" stroke-opacity="0.44"/></g></g><line x1="141.7" y1="191.4" x2="137.33" y2="200.13" stroke="#151515" stroke-width="1.6"/><path d="M135.50 203.80 L135.23 198.52 L139.88 200.85 Z" fill="#151515"/><clipPath id="m3"><rect x="31.7" y="247.4" width="88.3" height="66.20000000000002"/></clipPath><filter id="fm3" x="-20%" y="-20%" width="140%" height="140%"><feGaussianBlur stdDeviation="1.6"/></filter><filter id="gm3" x="-20%" y="-20%" width="140%" height="140%"><feGaussianBlur stdDeviation="0.85"/></filter><g clip-path="url(#m3)"><rect x="31.7" y="247.4" width="88.3" height="66.20000000000002" fill="#f6f2c6"/><g filter="url(#fm3)"><path d="M28 249 L92 249" stroke="#a8aab0" stroke-opacity="0.45" stroke-width="5" stroke-linecap="round" stroke-linejoin="round" fill="none"/><path d="M35 250 L35 284" stroke="#a8aab0" stroke-opacity="0.45" stroke-width="7" stroke-linecap="round" stroke-linejoin="round" fill="none"/><path d="M40 279 L60 280 L72 272" stroke="#a8aab0" stroke-opacity="0.45" stroke-width="6" stroke-linecap="round" stroke-linejoin="round" fill="none"/><path d="M60 272 L75 262 L88 256 L92 250" stroke="#a8aab0" stroke-opacity="0.45" stroke-width="5" stroke-linecap="round" stroke-linejoin="round" fill="none"/><path d="M70 262 L82 270 L86 285 L86 316" stroke="#a8aab0" stroke-opacity="0.45" stroke-width="8" stroke-linecap="round" stroke-linejoin="round" fill="none"/><path d="M86 286 L122 287" stroke="#a8aab0" stroke-opacity="0.45" stroke-width="7" stroke-linecap="round" stroke-linejoin="round" fill="none"/><path d="M118 246 L118 262" stroke="#a8aab0" stroke-opacity="0.45" stroke-width="6" stroke-linecap="round" stroke-linejoin="round" fill="none"/><path d="M28 303 L62 302" stroke="#a8aab0" stroke-opacity="0.45" stroke-width="8" stroke-linecap="round" stroke-linejoin="round" fill="none"/><path d="M62 302 L75 310 L86 312" stroke="#a8aab0" stroke-opacity="0.45" stroke-width="5" stroke-linecap="round" stroke-linejoin="round" fill="none"/><path d="M48 262 L52 268" stroke="#a8aab0" stroke-opacity="0.45" stroke-width="5" stroke-linecap="round" stroke-linejoin="round" fill="none"/><path d="M100 290 L106 300" stroke="#a8aab0" stroke-opacity="0.45" stroke-width="4" stroke-linecap="round" stroke-linejoin="round" fill="none"/><ellipse cx="75" cy="283" rx="9" ry="9" fill="#a0a4b0" fill-opacity="0.5"/><ellipse cx="55" cy="262" rx="12" ry="8" fill="#e8e4c8" fill-opacity="0.3"/><ellipse cx="103" cy="264" rx="12" ry="12" fill="#faf6d2" fill-opacity="0.7"/><ellipse cx="68" cy="296" rx="10" ry="6" fill="#faf6d2" fill-opacity="0.8"/><ellipse cx="102" cy="305" rx="12" ry="7" fill="#faf6d2" fill-opacity="0.7"/><ellipse cx="37" cy="290" rx="6" ry="6" fill="#f8f4d0" fill-opacity="0.6"/></g><filter id="tm30" x="0" y="0" width="100%" height="100%" filterUnits="userSpaceOnUse"><feGaussianBlur in="SourceGraphic" stdDeviation="1.6" result="m"/><feTurbulence type="fractalNoise" baseFrequency="0.22" numOctaves="2" seed="31" result="n"/><feColorMatrix in="n" type="matrix" values="0 0 0 0 0.298 0 0 0 0 0.337 0 0 0 0 0.439 2.6 0 0 0 -1.05" result="c"/><feComposite in="c" in2="m" operator="in"/></filter><g filter="url(#tm30)"><path d="M28 249 L92 249" stroke="#000" stroke-opacity="1" stroke-width="5" stroke-linecap="round" stroke-linejoin="round" fill="none"/><path d="M35 250 L35 284" stroke="#000" stroke-opacity="1" stroke-width="7" stroke-linecap="round" stroke-linejoin="round" fill="none"/><path d="M40 279 L60 280 L72 272" stroke="#000" stroke-opacity="1" stroke-width="6" stroke-linecap="round" stroke-linejoin="round" fill="none"/><path d="M60 272 L75 262 L88 256 L92 250" stroke="#000" stroke-opacity="1" stroke-width="5" stroke-linecap="round" stroke-linejoin="round" fill="none"/><path d="M70 262 L82 270 L86 285 L86 316" stroke="#000" stroke-opacity="1" stroke-width="8" stroke-linecap="round" stroke-linejoin="round" fill="none"/><path d="M86 286 L122 287" stroke="#000" stroke-opacity="1" stroke-width="7" stroke-linecap="round" stroke-linejoin="round" fill="none"/><path d="M118 246 L118 262" stroke="#000" stroke-opacity="1" stroke-width="6" stroke-linecap="round" stroke-linejoin="round" fill="none"/><path d="M28 303 L62 302" stroke="#000" stroke-opacity="1" stroke-width="8" stroke-linecap="round" stroke-linejoin="round" fill="none"/><path d="M62 302 L75 310 L86 312" stroke="#000" stroke-opacity="1" stroke-width="5" stroke-linecap="round" stroke-linejoin="round" fill="none"/><path d="M48 262 L52 268" stroke="#000" stroke-opacity="1" stroke-width="5" stroke-linecap="round" stroke-linejoin="round" fill="none"/><path d="M100 290 L106 300" stroke="#000" stroke-opacity="1" stroke-width="4" stroke-linecap="round" stroke-linejoin="round" fill="none"/><ellipse cx="75" cy="283" rx="9" ry="9" fill="#000" fill-opacity="1"/><ellipse cx="55" cy="262" rx="12" ry="8" fill="#000" fill-opacity="0.4"/><ellipse cx="60" cy="290" rx="25" ry="20" fill="#000" fill-opacity="0.25"/></g><g filter="url(#gm3)"><circle cx="80.0" cy="285.8" r="1.9" fill="#e8e8d8" fill-opacity="0.14" stroke="#6a7288" stroke-width="0.8" stroke-opacity="0.45"/><circle cx="56.9" cy="270.5" r="1.8" fill="#f0f0e0" fill-opacity="0.17" stroke="#7a8298" stroke-width="1.0" stroke-opacity="0.40"/><circle cx="77.0" cy="308.9" r="2.2" fill="#e8e8d8" fill-opacity="0.27" stroke="#5a6278" stroke-width="0.9" stroke-opacity="0.49"/><circle cx="74.3" cy="296.4" r="2.4" fill="#e8e8d8" fill-opacity="0.11" stroke="#7a8298" stroke-width="1.0" stroke-opacity="0.46"/><circle cx="71.7" cy="274.9" r="2.9" fill="#f0f0e0" fill-opacity="0.26" stroke="#6a7288" stroke-width="1.1" stroke-opacity="0.28"/><circle cx="42.8" cy="305.4" r="2.2" fill="#f0f0e0" fill-opacity="0.30" stroke="#6a7288" stroke-width="1.2" stroke-opacity="0.42"/><circle cx="39.3" cy="303.8" r="1.9" fill="#e8e8d8" fill-opacity="0.27" stroke="#5a6278" stroke-width="0.7" stroke-opacity="0.32"/><circle cx="80.3" cy="262.5" r="2.2" fill="#e8e8d8" fill-opacity="0.17" stroke="#7a8298" stroke-width="0.9" stroke-opacity="0.48"/><circle cx="45.0" cy="307.0" r="2.1" fill="#e8e8d8" fill-opacity="0.20" stroke="#7a8298" stroke-width="1.2" stroke-opacity="0.30"/><circle cx="80.9" cy="307.0" r="3.0" fill="#f0f0e0" fill-opacity="0.13" stroke="#6a7288" stroke-width="1.0" stroke-opacity="0.30"/><circle cx="80.4" cy="274.4" r="2.5" fill="#f0f0e0" fill-opacity="0.22" stroke="#5a6278" stroke-width="1.1" stroke-opacity="0.34"/><circle cx="80.6" cy="266.2" r="2.3" fill="#e8e8d8" fill-opacity="0.29" stroke="#5a6278" stroke-width="0.9" stroke-opacity="0.45"/><circle cx="82.1" cy="288.8" r="2.5" fill="#e8e8d8" fill-opacity="0.19" stroke="#5a6278" stroke-width="0.9" stroke-opacity="0.37"/><circle cx="84.7" cy="297.9" r="2.0" fill="#f0f0e0" fill-opacity="0.16" stroke="#6a7288" stroke-width="0.9" stroke-opacity="0.32"/><circle cx="86.0" cy="278.7" r="2.4" fill="#f0f0e0" fill-opacity="0.10" stroke="#5a6278" stroke-width="0.9" stroke-opacity="0.38"/><circle cx="78.7" cy="277.9" r="2.6" fill="#f0f0e0" fill-opacity="0.11" stroke="#6a7288" stroke-width="1.0" stroke-opacity="0.42"/><circle cx="104.9" cy="287.4" r="2.9" fill="#e8e8d8" fill-opacity="0.27" stroke="#6a7288" stroke-width="0.9" stroke-opacity="0.42"/><circle cx="102.2" cy="286.4" r="2.3" fill="#e8e8d8" fill-opacity="0.13" stroke="#6a7288" stroke-width="1.0" stroke-opacity="0.47"/><circle cx="53.9" cy="250.6" r="2.9" fill="#e8e8d8" fill-opacity="0.24" stroke="#5a6278" stroke-width="1.2" stroke-opacity="0.43"/><circle cx="33.3" cy="305.2" r="2.5" fill="#f0f0e0" fill-opacity="0.24" stroke="#5a6278" stroke-width="1.2" stroke-opacity="0.43"/><circle cx="46.2" cy="302.3" r="1.9" fill="#f0f0e0" fill-opacity="0.23" stroke="#7a8298" stroke-width="0.7" stroke-opacity="0.26"/><circle cx="81.0" cy="289.2" r="2.4" fill="#e8e8d8" fill-opacity="0.27" stroke="#6a7288" stroke-width="1.0" stroke-opacity="0.28"/><circle cx="61.6" cy="272.3" r="2.8" fill="#e8e8d8" fill-opacity="0.26" stroke="#6a7288" stroke-width="1.2" stroke-opacity="0.34"/><circle cx="59.2" cy="277.7" r="2.5" fill="#f0f0e0" fill-opacity="0.17" stroke="#6a7288" stroke-width="1.1" stroke-opacity="0.37"/><circle cx="58.5" cy="248.7" r="2.2" fill="#f0f0e0" fill-opacity="0.12" stroke="#7a8298" stroke-width="0.9" stroke-opacity="0.36"/><circle cx="82.9" cy="291.8" r="2.9" fill="#e8e8d8" fill-opacity="0.24" stroke="#5a6278" stroke-width="0.9" stroke-opacity="0.32"/><circle cx="34.4" cy="300.7" r="1.7" fill="#e8e8d8" fill-opacity="0.29" stroke="#7a8298" stroke-width="0.7" stroke-opacity="0.47"/><circle cx="33.8" cy="262.0" r="2.2" fill="#f0f0e0" fill-opacity="0.11" stroke="#6a7288" stroke-width="0.9" stroke-opacity="0.41"/><circle cx="87.6" cy="276.3" r="2.2" fill="#e8e8d8" fill-opacity="0.20" stroke="#5a6278" stroke-width="1.1" stroke-opacity="0.48"/><circle cx="49.8" cy="252.8" r="1.7" fill="#e8e8d8" fill-opacity="0.26" stroke="#6a7288" stroke-width="0.8" stroke-opacity="0.38"/><circle cx="54.7" cy="280.0" r="2.6" fill="#e8e8d8" fill-opacity="0.28" stroke="#5a6278" stroke-width="0.7" stroke-opacity="0.44"/><circle cx="33.2" cy="275.3" r="2.7" fill="#f0f0e0" fill-opacity="0.16" stroke="#6a7288" stroke-width="0.8" stroke-opacity="0.32"/><circle cx="34.7" cy="299.5" r="1.6" fill="#f0f0e0" fill-opacity="0.29" stroke="#6a7288" stroke-width="0.9" stroke-opacity="0.31"/><circle cx="75.3" cy="269.6" r="1.9" fill="#e8e8d8" fill-opacity="0.11" stroke="#5a6278" stroke-width="0.9" stroke-opacity="0.44"/><circle cx="73.7" cy="278.3" r="1.7" fill="#f0f0e0" fill-opacity="0.18" stroke="#5a6278" stroke-width="0.8" stroke-opacity="0.40"/><circle cx="86.2" cy="281.5" r="2.4" fill="#e8e8d8" fill-opacity="0.19" stroke="#7a8298" stroke-width="1.2" stroke-opacity="0.42"/><circle cx="84.7" cy="293.5" r="2.0" fill="#f0f0e0" fill-opacity="0.11" stroke="#6a7288" stroke-width="1.0" stroke-opacity="0.47"/><circle cx="116.6" cy="288.1" r="2.3" fill="#f0f0e0" fill-opacity="0.28" stroke="#5a6278" stroke-width="0.9" stroke-opacity="0.45"/><circle cx="99.5" cy="282.5" r="2.5" fill="#e8e8d8" fill-opacity="0.18" stroke="#5a6278" stroke-width="1.1" stroke-opacity="0.47"/><circle cx="52.2" cy="251.6" r="2.7" fill="#f0f0e0" fill-opacity="0.28" stroke="#5a6278" stroke-width="0.7" stroke-opacity="0.35"/><circle cx="82.4" cy="289.6" r="2.4" fill="#e8e8d8" fill-opacity="0.18" stroke="#6a7288" stroke-width="0.9" stroke-opacity="0.40"/><circle cx="51.7" cy="274.6" r="2.8" fill="#e8e8d8" fill-opacity="0.14" stroke="#5a6278" stroke-width="0.8" stroke-opacity="0.32"/><circle cx="81.0" cy="285.1" r="2.1" fill="#f0f0e0" fill-opacity="0.23" stroke="#7a8298" stroke-width="0.9" stroke-opacity="0.27"/><circle cx="77.7" cy="249.7" r="2.3" fill="#e8e8d8" fill-opacity="0.29" stroke="#5a6278" stroke-width="1.1" stroke-opacity="0.40"/><circle cx="39.2" cy="268.6" r="2.7" fill="#e8e8d8" fill-opacity="0.25" stroke="#5a6278" stroke-width="1.1" stroke-opacity="0.48"/><circle cx="38.4" cy="249.1" r="2.1" fill="#e8e8d8" fill-opacity="0.28" stroke="#7a8298" stroke-width="1.1" stroke-opacity="0.31"/><circle cx="37.1" cy="252.3" r="2.9" fill="#f0f0e0" fill-opacity="0.20" stroke="#5a6278" stroke-width="0.8" stroke-opacity="0.50"/><circle cx="80.9" cy="275.6" r="2.8" fill="#f0f0e0" fill-opacity="0.12" stroke="#6a7288" stroke-width="0.8" stroke-opacity="0.27"/><circle cx="85.1" cy="305.0" r="1.6" fill="#f0f0e0" fill-opacity="0.18" stroke="#7a8298" stroke-width="0.9" stroke-opacity="0.40"/><circle cx="30.9" cy="300.0" r="2.8" fill="#e8e8d8" fill-opacity="0.28" stroke="#6a7288" stroke-width="0.7" stroke-opacity="0.45"/><circle cx="63.5" cy="272.8" r="1.8" fill="#e8e8d8" fill-opacity="0.16" stroke="#7a8298" stroke-width="1.0" stroke-opacity="0.44"/><circle cx="75.3" cy="267.3" r="2.3" fill="#f0f0e0" fill-opacity="0.28" stroke="#7a8298" stroke-width="0.7" stroke-opacity="0.30"/><circle cx="64.1" cy="271.0" r="2.4" fill="#f0f0e0" fill-opacity="0.29" stroke="#5a6278" stroke-width="0.8" stroke-opacity="0.39"/><circle cx="74.1" cy="295.4" r="2.7" fill="#e8e8d8" fill-opacity="0.15" stroke="#7a8298" stroke-width="1.0" stroke-opacity="0.45"/><circle cx="32.3" cy="272.2" r="1.6" fill="#e8e8d8" fill-opacity="0.19" stroke="#5a6278" stroke-width="1.0" stroke-opacity="0.48"/><circle cx="34.3" cy="250.7" r="1.8" fill="#e8e8d8" fill-opacity="0.15" stroke="#6a7288" stroke-width="0.9" stroke-opacity="0.29"/><circle cx="31.0" cy="262.6" r="2.7" fill="#e8e8d8" fill-opacity="0.22" stroke="#6a7288" stroke-width="1.2" stroke-opacity="0.46"/><circle cx="62.2" cy="253.3" r="2.6" fill="#e8e8d8" fill-opacity="0.23" stroke="#7a8298" stroke-width="0.7" stroke-opacity="0.40"/><circle cx="86.3" cy="288.6" r="2.9" fill="#f0f0e0" fill-opacity="0.24" stroke="#7a8298" stroke-width="1.0" stroke-opacity="0.27"/><circle cx="48.1" cy="250.8" r="1.7" fill="#e8e8d8" fill-opacity="0.19" stroke="#7a8298" stroke-width="1.0" stroke-opacity="0.29"/><circle cx="82.8" cy="310.3" r="2.0" fill="#e8e8d8" fill-opacity="0.20" stroke="#5a6278" stroke-width="1.0" stroke-opacity="0.42"/><circle cx="38.9" cy="263.1" r="2.8" fill="#e8e8d8" fill-opacity="0.20" stroke="#7a8298" stroke-width="1.0" stroke-opacity="0.49"/><circle cx="39.7" cy="300.0" r="1.7" fill="#e8e8d8" fill-opacity="0.27" stroke="#7a8298" stroke-width="0.8" stroke-opacity="0.44"/><circle cx="79.9" cy="256.8" r="2.7" fill="#f0f0e0" fill-opacity="0.18" stroke="#6a7288" stroke-width="1.1" stroke-opacity="0.33"/><circle cx="34.9" cy="249.4" r="1.7" fill="#e8e8d8" fill-opacity="0.12" stroke="#6a7288" stroke-width="0.7" stroke-opacity="0.36"/><circle cx="59.2" cy="270.5" r="2.1" fill="#f0f0e0" fill-opacity="0.25" stroke="#5a6278" stroke-width="1.0" stroke-opacity="0.27"/><circle cx="64.6" cy="252.7" r="2.2" fill="#e8e8d8" fill-opacity="0.11" stroke="#7a8298" stroke-width="1.2" stroke-opacity="0.28"/><circle cx="80.8" cy="302.0" r="2.0" fill="#f0f0e0" fill-opacity="0.25" stroke="#6a7288" stroke-width="0.9" stroke-opacity="0.35"/><circle cx="79.9" cy="284.5" r="1.6" fill="#e8e8d8" fill-opacity="0.23" stroke="#6a7288" stroke-width="1.1" stroke-opacity="0.38"/><circle cx="85.6" cy="288.1" r="2.0" fill="#e8e8d8" fill-opacity="0.16" stroke="#6a7288" stroke-width="1.2" stroke-opacity="0.28"/><circle cx="73.8" cy="253.0" r="3.0" fill="#f0f0e0" fill-opacity="0.23" stroke="#6a7288" stroke-width="1.0" stroke-opacity="0.35"/><circle cx="76.2" cy="275.8" r="2.6" fill="#e8e8d8" fill-opacity="0.21" stroke="#7a8298" stroke-width="1.1" stroke-opacity="0.36"/><circle cx="53.3" cy="305.1" r="1.7" fill="#f0f0e0" fill-opacity="0.14" stroke="#5a6278" stroke-width="0.8" stroke-opacity="0.36"/><circle cx="73.6" cy="282.1" r="2.7" fill="#e8e8d8" fill-opacity="0.27" stroke="#7a8298" stroke-width="1.0" stroke-opacity="0.48"/><circle cx="79.1" cy="308.5" r="2.2" fill="#f0f0e0" fill-opacity="0.19" stroke="#6a7288" stroke-width="0.8" stroke-opacity="0.47"/><circle cx="78.2" cy="258.9" r="2.8" fill="#e8e8d8" fill-opacity="0.25" stroke="#5a6278" stroke-width="1.2" stroke-opacity="0.45"/><circle cx="79.0" cy="305.1" r="1.7" fill="#e8e8d8" fill-opacity="0.17" stroke="#5a6278" stroke-width="1.0" stroke-opacity="0.30"/><circle cx="82.6" cy="308.4" r="3.0" fill="#e8e8d8" fill-opacity="0.13" stroke="#6a7288" stroke-width="1.0" stroke-opacity="0.49"/><circle cx="58.3" cy="250.3" r="1.8" fill="#e8e8d8" fill-opacity="0.27" stroke="#5a6278" stroke-width="0.9" stroke-opacity="0.42"/><circle cx="115.1" cy="290.3" r="2.3" fill="#e8e8d8" fill-opacity="0.14" stroke="#6a7288" stroke-width="0.8" stroke-opacity="0.32"/><circle cx="56.2" cy="251.3" r="2.9" fill="#f0f0e0" fill-opacity="0.30" stroke="#5a6278" stroke-width="0.9" stroke-opacity="0.28"/><circle cx="78.3" cy="281.5" r="2.3" fill="#e8e8d8" fill-opacity="0.18" stroke="#5a6278" stroke-width="1.0" stroke-opacity="0.35"/><circle cx="71.7" cy="246.7" r="1.9" fill="#e8e8d8" fill-opacity="0.12" stroke="#5a6278" stroke-width="1.0" stroke-opacity="0.44"/><circle cx="57.6" cy="272.7" r="2.9" fill="#f0f0e0" fill-opacity="0.25" stroke="#6a7288" stroke-width="1.1" stroke-opacity="0.46"/><circle cx="114.7" cy="284.6" r="2.4" fill="#e8e8d8" fill-opacity="0.20" stroke="#7a8298" stroke-width="0.8" stroke-opacity="0.36"/><circle cx="40.0" cy="250.2" r="2.1" fill="#e8e8d8" fill-opacity="0.10" stroke="#7a8298" stroke-width="1.1" stroke-opacity="0.40"/><circle cx="59.1" cy="272.8" r="2.5" fill="#e8e8d8" fill-opacity="0.19" stroke="#7a8298" stroke-width="0.7" stroke-opacity="0.40"/><circle cx="36.2" cy="257.9" r="2.4" fill="#f0f0e0" fill-opacity="0.24" stroke="#7a8298" stroke-width="0.9" stroke-opacity="0.37"/><circle cx="77.9" cy="305.0" r="2.4" fill="#f0f0e0" fill-opacity="0.23" stroke="#6a7288" stroke-width="0.9" stroke-opacity="0.46"/><circle cx="109.0" cy="288.1" r="1.9" fill="#f0f0e0" fill-opacity="0.25" stroke="#7a8298" stroke-width="1.2" stroke-opacity="0.26"/><circle cx="75.7" cy="265.7" r="2.0" fill="#f0f0e0" fill-opacity="0.16" stroke="#6a7288" stroke-width="0.7" stroke-opacity="0.34"/><circle cx="94.2" cy="289.5" r="1.9" fill="#e8e8d8" fill-opacity="0.26" stroke="#6a7288" stroke-width="0.9" stroke-opacity="0.31"/><circle cx="74.0" cy="279.4" r="2.5" fill="#e8e8d8" fill-opacity="0.29" stroke="#5a6278" stroke-width="1.1" stroke-opacity="0.49"/><circle cx="76.3" cy="292.2" r="2.6" fill="#e8e8d8" fill-opacity="0.19" stroke="#7a8298" stroke-width="1.0" stroke-opacity="0.29"/><circle cx="82.1" cy="301.1" r="2.0" fill="#f0f0e0" fill-opacity="0.18" stroke="#6a7288" stroke-width="1.0" stroke-opacity="0.43"/><circle cx="102.0" cy="291.5" r="2.7" fill="#f0f0e0" fill-opacity="0.10" stroke="#7a8298" stroke-width="1.0" stroke-opacity="0.42"/><circle cx="78.8" cy="292.6" r="2.8" fill="#f0f0e0" fill-opacity="0.29" stroke="#6a7288" stroke-width="1.0" stroke-opacity="0.46"/><circle cx="101.3" cy="286.8" r="3.0" fill="#f0f0e0" fill-opacity="0.14" stroke="#6a7288" stroke-width="0.8" stroke-opacity="0.32"/><circle cx="73.7" cy="268.1" r="2.1" fill="#f0f0e0" fill-opacity="0.16" stroke="#5a6278" stroke-width="0.8" stroke-opacity="0.32"/><circle cx="38.2" cy="266.1" r="2.9" fill="#f0f0e0" fill-opacity="0.16" stroke="#5a6278" stroke-width="0.7" stroke-opacity="0.47"/><circle cx="57.4" cy="250.4" r="2.3" fill="#e8e8d8" fill-opacity="0.20" stroke="#7a8298" stroke-width="1.2" stroke-opacity="0.37"/><circle cx="57.7" cy="300.5" r="2.2" fill="#f0f0e0" fill-opacity="0.22" stroke="#7a8298" stroke-width="1.2" stroke-opacity="0.41"/><circle cx="78.1" cy="293.0" r="2.3" fill="#e8e8d8" fill-opacity="0.14" stroke="#7a8298" stroke-width="0.7" stroke-opacity="0.28"/><circle cx="74.2" cy="249.4" r="2.8" fill="#e8e8d8" fill-opacity="0.30" stroke="#6a7288" stroke-width="0.7" stroke-opacity="0.47"/><circle cx="84.7" cy="259.5" r="1.7" fill="#e8e8d8" fill-opacity="0.14" stroke="#6a7288" stroke-width="1.2" stroke-opacity="0.49"/><circle cx="62.9" cy="252.7" r="1.7" fill="#e8e8d8" fill-opacity="0.16" stroke="#6a7288" stroke-width="1.1" stroke-opacity="0.48"/><circle cx="32.4" cy="269.5" r="1.8" fill="#f0f0e0" fill-opacity="0.18" stroke="#6a7288" stroke-width="0.9" stroke-opacity="0.32"/><circle cx="99.7" cy="288.8" r="2.6" fill="#e8e8d8" fill-opacity="0.30" stroke="#6a7288" stroke-width="0.8" stroke-opacity="0.28"/><circle cx="86.0" cy="280.7" r="2.6" fill="#e8e8d8" fill-opacity="0.14" stroke="#6a7288" stroke-width="0.9" stroke-opacity="0.45"/><circle cx="116.4" cy="289.3" r="2.7" fill="#f0f0e0" fill-opacity="0.12" stroke="#5a6278" stroke-width="1.0" stroke-opacity="0.43"/></g><ellipse cx="75.2" cy="283" rx="5.2" ry="5.7" fill="#2c3a48"/><ellipse cx="75.6" cy="283.5" rx="1.8" ry="2" fill="#607080" fill-opacity="0.8"/></g><line x1="52.4" y1="293.2" x2="61.82" y2="289.28" stroke="#151515" stroke-width="1.6"/><path d="M65.60 287.70 L62.35 291.87 L60.35 287.07 Z" fill="#151515"/><clipPath id="m4"><rect x="122.3" y="247.4" width="88.7" height="66.20000000000002"/></clipPath><filter id="fm4" x="-20%" y="-20%" width="140%" height="140%"><feGaussianBlur stdDeviation="1.6"/></filter><filter id="gm4" x="-20%" y="-20%" width="140%" height="140%"><feGaussianBlur stdDeviation="0.85"/></filter><g clip-path="url(#m4)"><rect x="122.3" y="247.4" width="88.7" height="66.20000000000002" fill="#e8ecc8"/><g filter="url(#fm4)"><path d="M162 247 L213 246 L213 315 L162 315 L160 302 L167 290 L165 276 L163 262 Z" fill="#b8bcc8" fill-opacity="0.25"/><path d="M120 245 L150 245 L152 252 L144 264 L140 282 L120 283 Z" fill="#a4a8bc" fill-opacity="0.3"/><ellipse cx="128.3" cy="266" rx="3" ry="4" fill="#4a5080" fill-opacity="0.6"/><ellipse cx="135" cy="270" rx="3" ry="3" fill="#4a5080" fill-opacity="0.5"/><ellipse cx="139" cy="274" rx="3" ry="3" fill="#4a5080" fill-opacity="0.5"/><ellipse cx="145" cy="249" rx="5" ry="3" fill="#4a5080" fill-opacity="0.6"/><ellipse cx="167" cy="307" rx="7" ry="7" fill="#4a5488" fill-opacity="0.75"/><ellipse cx="209" cy="284" rx="4" ry="6" fill="#4a5488" fill-opacity="0.5"/><ellipse cx="156" cy="270" rx="6" ry="8" fill="#c8ccc8" fill-opacity="0.35"/><ellipse cx="195" cy="295" rx="4" ry="4" fill="#dcdcd8" fill-opacity="0.45"/><ellipse cx="205" cy="262" rx="4" ry="4" fill="#dcdcd8" fill-opacity="0.45"/><ellipse cx="186" cy="300" rx="3" ry="3" fill="#dcdcd8" fill-opacity="0.4"/><ellipse cx="196" cy="282" rx="3" ry="3" fill="#dcdcd8" fill-opacity="0.4"/></g><filter id="tm40" x="0" y="0" width="100%" height="100%" filterUnits="userSpaceOnUse"><feGaussianBlur in="SourceGraphic" stdDeviation="1.8" result="m"/><feTurbulence type="fractalNoise" baseFrequency="0.21" numOctaves="2" seed="41" result="n"/><feColorMatrix in="n" type="matrix" values="0 0 0 0 0.275 0 0 0 0 0.314 0 0 0 0 0.502 3.2 0 0 0 -1.4" result="c"/><feComposite in="c" in2="m" operator="in"/></filter><g filter="url(#tm40)"><path d="M162 247 L213 246 L213 315 L162 315 L160 302 L167 290 L165 276 L163 262 Z" fill="#000"/><path d="M120 245 L150 245 L152 252 L144 264 L140 282 L120 283 Z" fill="#000"/><ellipse cx="156" cy="270" rx="6" ry="10" fill="#000" fill-opacity="0.4"/></g><g filter="url(#gm4)"><circle cx="194.4" cy="303.7" r="2.3" fill="#e8ecf0" fill-opacity="0.13" stroke="#6a7098" stroke-width="0.9" stroke-opacity="0.53"/><circle cx="188.4" cy="274.3" r="3.0" fill="#e8ecf0" fill-opacity="0.21" stroke="#6a7098" stroke-width="1.1" stroke-opacity="0.38"/><circle cx="195.4" cy="293.9" r="2.4" fill="#e8ecf0" fill-opacity="0.17" stroke="#5a6490" stroke-width="1.1" stroke-opacity="0.43"/><circle cx="128.2" cy="258.6" r="2.3" fill="#e8ecf0" fill-opacity="0.22" stroke="#4a5488" stroke-width="1.1" stroke-opacity="0.57"/><circle cx="179.3" cy="262.1" r="2.4" fill="#e8ecf0" fill-opacity="0.12" stroke="#6a7098" stroke-width="1.0" stroke-opacity="0.34"/><circle cx="182.1" cy="266.9" r="2.7" fill="#e8ecf0" fill-opacity="0.22" stroke="#6a7098" stroke-width="1.0" stroke-opacity="0.36"/><circle cx="172.1" cy="292.9" r="2.5" fill="#dce0e8" fill-opacity="0.16" stroke="#6a7098" stroke-width="1.2" stroke-opacity="0.32"/><circle cx="203.8" cy="292.8" r="2.6" fill="#dce0e8" fill-opacity="0.26" stroke="#6a7098" stroke-width="0.9" stroke-opacity="0.39"/><circle cx="196.6" cy="312.3" r="3.0" fill="#dce0e8" fill-opacity="0.20" stroke="#4a5488" stroke-width="0.7" stroke-opacity="0.46"/><circle cx="176.4" cy="291.8" r="3.1" fill="#dce0e8" fill-opacity="0.16" stroke="#5a6490" stroke-width="0.9" stroke-opacity="0.50"/><circle cx="208.0" cy="265.4" r="2.6" fill="#e8ecf0" fill-opacity="0.14" stroke="#6a7098" stroke-width="1.1" stroke-opacity="0.33"/><circle cx="177.4" cy="274.9" r="3.3" fill="#dce0e8" fill-opacity="0.12" stroke="#4a5488" stroke-width="0.8" stroke-opacity="0.41"/><circle cx="176.7" cy="254.8" r="2.0" fill="#e8ecf0" fill-opacity="0.11" stroke="#5a6490" stroke-width="0.9" stroke-opacity="0.57"/><circle cx="178.9" cy="295.0" r="3.3" fill="#e8ecf0" fill-opacity="0.13" stroke="#6a7098" stroke-width="1.2" stroke-opacity="0.57"/><circle cx="203.9" cy="277.0" r="3.2" fill="#e8ecf0" fill-opacity="0.26" stroke="#4a5488" stroke-width="1.2" stroke-opacity="0.43"/><circle cx="193.0" cy="276.7" r="3.1" fill="#e8ecf0" fill-opacity="0.27" stroke="#5a6490" stroke-width="1.2" stroke-opacity="0.39"/><circle cx="196.6" cy="290.5" r="1.9" fill="#e8ecf0" fill-opacity="0.17" stroke="#4a5488" stroke-width="0.7" stroke-opacity="0.60"/><circle cx="191.8" cy="313.0" r="2.4" fill="#e8ecf0" fill-opacity="0.13" stroke="#6a7098" stroke-width="0.8" stroke-opacity="0.46"/><circle cx="163.2" cy="280.1" r="1.9" fill="#e8ecf0" fill-opacity="0.14" stroke="#6a7098" stroke-width="0.8" stroke-opacity="0.38"/><circle cx="205.5" cy="274.7" r="2.4" fill="#e8ecf0" fill-opacity="0.21" stroke="#4a5488" stroke-width="1.1" stroke-opacity="0.47"/><circle cx="137.1" cy="267.9" r="2.6" fill="#dce0e8" fill-opacity="0.27" stroke="#6a7098" stroke-width="1.0" stroke-opacity="0.50"/><circle cx="187.1" cy="291.0" r="2.5" fill="#e8ecf0" fill-opacity="0.29" stroke="#4a5488" stroke-width="1.0" stroke-opacity="0.34"/><circle cx="180.9" cy="283.4" r="2.9" fill="#e8ecf0" fill-opacity="0.21" stroke="#5a6490" stroke-width="0.8" stroke-opacity="0.47"/><circle cx="206.6" cy="265.6" r="3.1" fill="#e8ecf0" fill-opacity="0.13" stroke="#6a7098" stroke-width="0.9" stroke-opacity="0.59"/><circle cx="185.8" cy="257.2" r="1.9" fill="#dce0e8" fill-opacity="0.23" stroke="#5a6490" stroke-width="0.8" stroke-opacity="0.37"/><circle cx="196.6" cy="291.6" r="3.0" fill="#dce0e8" fill-opacity="0.22" stroke="#5a6490" stroke-width="1.0" stroke-opacity="0.52"/><circle cx="201.8" cy="268.3" r="2.9" fill="#e8ecf0" fill-opacity="0.17" stroke="#6a7098" stroke-width="0.8" stroke-opacity="0.58"/><circle cx="209.1" cy="275.9" r="1.9" fill="#e8ecf0" fill-opacity="0.11" stroke="#5a6490" stroke-width="0.7" stroke-opacity="0.30"/><circle cx="197.7" cy="250.7" r="2.3" fill="#e8ecf0" fill-opacity="0.13" stroke="#6a7098" stroke-width="0.8" stroke-opacity="0.59"/><circle cx="172.7" cy="289.7" r="2.3" fill="#e8ecf0" fill-opacity="0.16" stroke="#4a5488" stroke-width="0.8" stroke-opacity="0.43"/><circle cx="196.0" cy="281.5" r="2.9" fill="#dce0e8" fill-opacity="0.20" stroke="#6a7098" stroke-width="1.1" stroke-opacity="0.46"/><circle cx="194.6" cy="260.0" r="2.5" fill="#dce0e8" fill-opacity="0.27" stroke="#4a5488" stroke-width="0.9" stroke-opacity="0.38"/><circle cx="168.6" cy="300.5" r="2.5" fill="#dce0e8" fill-opacity="0.27" stroke="#6a7098" stroke-width="0.9" stroke-opacity="0.38"/><circle cx="182.2" cy="314.2" r="1.9" fill="#e8ecf0" fill-opacity="0.26" stroke="#6a7098" stroke-width="0.8" stroke-opacity="0.51"/><circle cx="182.3" cy="253.4" r="2.1" fill="#e8ecf0" fill-opacity="0.14" stroke="#4a5488" stroke-width="0.8" stroke-opacity="0.34"/><circle cx="178.2" cy="296.8" r="3.5" fill="#e8ecf0" fill-opacity="0.21" stroke="#6a7098" stroke-width="0.8" stroke-opacity="0.40"/><circle cx="190.6" cy="248.8" r="2.7" fill="#dce0e8" fill-opacity="0.16" stroke="#4a5488" stroke-width="0.8" stroke-opacity="0.52"/><circle cx="198.7" cy="251.9" r="1.8" fill="#e8ecf0" fill-opacity="0.24" stroke="#5a6490" stroke-width="0.8" stroke-opacity="0.44"/><circle cx="192.7" cy="265.6" r="2.3" fill="#e8ecf0" fill-opacity="0.20" stroke="#4a5488" stroke-width="1.0" stroke-opacity="0.49"/><circle cx="166.2" cy="283.2" r="1.9" fill="#e8ecf0" fill-opacity="0.27" stroke="#6a7098" stroke-width="0.9" stroke-opacity="0.35"/><circle cx="185.8" cy="308.1" r="3.1" fill="#e8ecf0" fill-opacity="0.12" stroke="#5a6490" stroke-width="1.0" stroke-opacity="0.40"/><circle cx="164.5" cy="290.6" r="3.4" fill="#dce0e8" fill-opacity="0.12" stroke="#6a7098" stroke-width="0.7" stroke-opacity="0.43"/><circle cx="174.7" cy="289.1" r="2.3" fill="#e8ecf0" fill-opacity="0.20" stroke="#6a7098" stroke-width="1.0" stroke-opacity="0.46"/><circle cx="168.6" cy="290.6" r="3.2" fill="#dce0e8" fill-opacity="0.12" stroke="#6a7098" stroke-width="0.9" stroke-opacity="0.49"/><circle cx="184.3" cy="269.8" r="3.1" fill="#dce0e8" fill-opacity="0.18" stroke="#6a7098" stroke-width="1.1" stroke-opacity="0.55"/><circle cx="195.2" cy="276.7" r="2.4" fill="#e8ecf0" fill-opacity="0.28" stroke="#6a7098" stroke-width="1.0" stroke-opacity="0.41"/><circle cx="140.1" cy="265.7" r="3.1" fill="#e8ecf0" fill-opacity="0.12" stroke="#4a5488" stroke-width="1.0" stroke-opacity="0.31"/><circle cx="191.7" cy="308.7" r="3.3" fill="#e8ecf0" fill-opacity="0.22" stroke="#5a6490" stroke-width="1.1" stroke-opacity="0.44"/><circle cx="169.7" cy="260.4" r="2.5" fill="#dce0e8" fill-opacity="0.19" stroke="#6a7098" stroke-width="0.8" stroke-opacity="0.55"/><circle cx="200.2" cy="285.5" r="1.8" fill="#e8ecf0" fill-opacity="0.18" stroke="#6a7098" stroke-width="1.1" stroke-opacity="0.58"/><circle cx="169.0" cy="286.8" r="1.9" fill="#e8ecf0" fill-opacity="0.16" stroke="#6a7098" stroke-width="1.0" stroke-opacity="0.37"/><circle cx="134.5" cy="257.4" r="2.5" fill="#e8ecf0" fill-opacity="0.11" stroke="#6a7098" stroke-width="0.8" stroke-opacity="0.52"/><circle cx="206.7" cy="304.5" r="3.1" fill="#e8ecf0" fill-opacity="0.22" stroke="#5a6490" stroke-width="0.8" stroke-opacity="0.45"/><circle cx="170.7" cy="259.2" r="3.3" fill="#dce0e8" fill-opacity="0.23" stroke="#6a7098" stroke-width="0.9" stroke-opacity="0.40"/><circle cx="202.3" cy="259.0" r="2.1" fill="#e8ecf0" fill-opacity="0.11" stroke="#4a5488" stroke-width="1.1" stroke-opacity="0.38"/><circle cx="203.5" cy="296.7" r="3.1" fill="#e8ecf0" fill-opacity="0.20" stroke="#4a5488" stroke-width="0.9" stroke-opacity="0.57"/><circle cx="179.8" cy="297.3" r="2.9" fill="#e8ecf0" fill-opacity="0.20" stroke="#4a5488" stroke-width="1.0" stroke-opacity="0.47"/><circle cx="202.7" cy="292.4" r="2.8" fill="#dce0e8" fill-opacity="0.12" stroke="#6a7098" stroke-width="1.1" stroke-opacity="0.57"/><circle cx="208.6" cy="292.9" r="3.1" fill="#dce0e8" fill-opacity="0.18" stroke="#6a7098" stroke-width="0.9" stroke-opacity="0.31"/><circle cx="190.9" cy="291.5" r="3.1" fill="#dce0e8" fill-opacity="0.19" stroke="#6a7098" stroke-width="0.9" stroke-opacity="0.39"/><circle cx="175.7" cy="291.8" r="2.7" fill="#e8ecf0" fill-opacity="0.13" stroke="#4a5488" stroke-width="1.0" stroke-opacity="0.44"/><circle cx="206.2" cy="263.9" r="2.0" fill="#dce0e8" fill-opacity="0.12" stroke="#6a7098" stroke-width="1.0" stroke-opacity="0.41"/><circle cx="206.9" cy="286.0" r="3.2" fill="#e8ecf0" fill-opacity="0.11" stroke="#6a7098" stroke-width="1.0" stroke-opacity="0.60"/><circle cx="146.9" cy="262.9" r="2.4" fill="#e8ecf0" fill-opacity="0.13" stroke="#4a5488" stroke-width="1.0" stroke-opacity="0.47"/><circle cx="171.8" cy="270.2" r="2.3" fill="#e8ecf0" fill-opacity="0.18" stroke="#6a7098" stroke-width="1.0" stroke-opacity="0.40"/><circle cx="179.8" cy="271.9" r="2.9" fill="#e8ecf0" fill-opacity="0.11" stroke="#6a7098" stroke-width="0.7" stroke-opacity="0.58"/><circle cx="184.3" cy="251.7" r="3.4" fill="#e8ecf0" fill-opacity="0.20" stroke="#6a7098" stroke-width="0.8" stroke-opacity="0.46"/><circle cx="172.2" cy="268.1" r="2.2" fill="#e8ecf0" fill-opacity="0.29" stroke="#6a7098" stroke-width="0.9" stroke-opacity="0.52"/><circle cx="172.9" cy="264.1" r="2.0" fill="#dce0e8" fill-opacity="0.15" stroke="#5a6490" stroke-width="1.1" stroke-opacity="0.48"/><circle cx="200.8" cy="264.2" r="3.4" fill="#dce0e8" fill-opacity="0.30" stroke="#4a5488" stroke-width="0.8" stroke-opacity="0.42"/><circle cx="196.0" cy="250.3" r="3.3" fill="#e8ecf0" fill-opacity="0.12" stroke="#4a5488" stroke-width="0.8" stroke-opacity="0.30"/><circle cx="140.4" cy="252.0" r="3.0" fill="#dce0e8" fill-opacity="0.23" stroke="#5a6490" stroke-width="0.7" stroke-opacity="0.31"/><circle cx="177.3" cy="275.8" r="2.8" fill="#dce0e8" fill-opacity="0.26" stroke="#5a6490" stroke-width="1.0" stroke-opacity="0.48"/><circle cx="193.5" cy="301.6" r="2.9" fill="#e8ecf0" fill-opacity="0.23" stroke="#5a6490" stroke-width="0.8" stroke-opacity="0.30"/><circle cx="187.7" cy="258.9" r="2.5" fill="#dce0e8" fill-opacity="0.25" stroke="#4a5488" stroke-width="0.8" stroke-opacity="0.54"/><circle cx="144.1" cy="253.2" r="3.0" fill="#e8ecf0" fill-opacity="0.16" stroke="#5a6490" stroke-width="1.2" stroke-opacity="0.60"/><circle cx="133.8" cy="264.4" r="2.2" fill="#dce0e8" fill-opacity="0.21" stroke="#5a6490" stroke-width="1.2" stroke-opacity="0.59"/><circle cx="192.2" cy="312.4" r="2.6" fill="#dce0e8" fill-opacity="0.21" stroke="#5a6490" stroke-width="0.9" stroke-opacity="0.46"/><circle cx="126.3" cy="264.3" r="3.1" fill="#dce0e8" fill-opacity="0.29" stroke="#5a6490" stroke-width="0.9" stroke-opacity="0.40"/><circle cx="136.0" cy="259.7" r="3.3" fill="#e8ecf0" fill-opacity="0.24" stroke="#4a5488" stroke-width="0.8" stroke-opacity="0.35"/><circle cx="201.6" cy="298.2" r="3.6" fill="#e8ecf0" fill-opacity="0.27" stroke="#6a7098" stroke-width="0.8" stroke-opacity="0.58"/><circle cx="171.4" cy="278.5" r="1.9" fill="#dce0e8" fill-opacity="0.10" stroke="#4a5488" stroke-width="0.7" stroke-opacity="0.32"/><circle cx="130.5" cy="251.0" r="2.2" fill="#e8ecf0" fill-opacity="0.20" stroke="#4a5488" stroke-width="0.7" stroke-opacity="0.33"/><circle cx="196.0" cy="299.1" r="3.0" fill="#dce0e8" fill-opacity="0.12" stroke="#4a5488" stroke-width="1.0" stroke-opacity="0.31"/><circle cx="185.4" cy="295.0" r="3.1" fill="#dce0e8" fill-opacity="0.15" stroke="#6a7098" stroke-width="0.8" stroke-opacity="0.48"/><circle cx="200.7" cy="305.7" r="1.9" fill="#e8ecf0" fill-opacity="0.27" stroke="#4a5488" stroke-width="0.8" stroke-opacity="0.34"/><circle cx="202.4" cy="289.2" r="2.8" fill="#dce0e8" fill-opacity="0.23" stroke="#6a7098" stroke-width="1.1" stroke-opacity="0.57"/><circle cx="198.0" cy="290.2" r="2.9" fill="#dce0e8" fill-opacity="0.12" stroke="#5a6490" stroke-width="1.2" stroke-opacity="0.38"/><circle cx="177.6" cy="265.8" r="2.3" fill="#e8ecf0" fill-opacity="0.14" stroke="#5a6490" stroke-width="1.2" stroke-opacity="0.30"/><circle cx="200.6" cy="294.8" r="2.9" fill="#e8ecf0" fill-opacity="0.14" stroke="#4a5488" stroke-width="1.2" stroke-opacity="0.55"/><circle cx="199.6" cy="293.9" r="2.7" fill="#dce0e8" fill-opacity="0.27" stroke="#4a5488" stroke-width="1.0" stroke-opacity="0.52"/><circle cx="198.2" cy="304.6" r="3.4" fill="#dce0e8" fill-opacity="0.29" stroke="#5a6490" stroke-width="1.0" stroke-opacity="0.58"/><circle cx="177.3" cy="307.5" r="2.6" fill="#dce0e8" fill-opacity="0.21" stroke="#6a7098" stroke-width="1.0" stroke-opacity="0.33"/><circle cx="163.9" cy="277.0" r="3.2" fill="#dce0e8" fill-opacity="0.17" stroke="#4a5488" stroke-width="0.8" stroke-opacity="0.36"/><circle cx="171.5" cy="256.7" r="3.6" fill="#e8ecf0" fill-opacity="0.15" stroke="#4a5488" stroke-width="0.9" stroke-opacity="0.51"/><circle cx="199.6" cy="264.7" r="2.0" fill="#e8ecf0" fill-opacity="0.23" stroke="#6a7098" stroke-width="0.9" stroke-opacity="0.57"/><circle cx="180.3" cy="294.0" r="3.0" fill="#dce0e8" fill-opacity="0.24" stroke="#4a5488" stroke-width="1.1" stroke-opacity="0.30"/><circle cx="186.1" cy="312.5" r="2.7" fill="#dce0e8" fill-opacity="0.11" stroke="#5a6490" stroke-width="1.1" stroke-opacity="0.58"/><circle cx="172.5" cy="257.7" r="1.8" fill="#e8ecf0" fill-opacity="0.19" stroke="#4a5488" stroke-width="0.8" stroke-opacity="0.34"/><circle cx="181.4" cy="290.2" r="2.1" fill="#e8ecf0" fill-opacity="0.21" stroke="#4a5488" stroke-width="1.0" stroke-opacity="0.58"/><circle cx="134.4" cy="252.7" r="2.1" fill="#e8ecf0" fill-opacity="0.21" stroke="#6a7098" stroke-width="0.8" stroke-opacity="0.56"/><circle cx="194.4" cy="307.6" r="2.2" fill="#dce0e8" fill-opacity="0.15" stroke="#6a7098" stroke-width="0.8" stroke-opacity="0.34"/><circle cx="203.9" cy="298.2" r="2.0" fill="#dce0e8" fill-opacity="0.15" stroke="#4a5488" stroke-width="1.2" stroke-opacity="0.51"/><circle cx="198.4" cy="275.0" r="3.3" fill="#dce0e8" fill-opacity="0.11" stroke="#6a7098" stroke-width="1.0" stroke-opacity="0.47"/><circle cx="165.0" cy="276.9" r="3.2" fill="#e8ecf0" fill-opacity="0.28" stroke="#5a6490" stroke-width="1.0" stroke-opacity="0.41"/><circle cx="191.3" cy="291.6" r="3.1" fill="#dce0e8" fill-opacity="0.12" stroke="#4a5488" stroke-width="1.1" stroke-opacity="0.44"/><circle cx="139.9" cy="271.8" r="3.6" fill="#dce0e8" fill-opacity="0.10" stroke="#5a6490" stroke-width="1.1" stroke-opacity="0.34"/><circle cx="186.4" cy="286.1" r="2.7" fill="#e8ecf0" fill-opacity="0.13" stroke="#4a5488" stroke-width="1.2" stroke-opacity="0.54"/><circle cx="189.5" cy="258.0" r="3.1" fill="#e8ecf0" fill-opacity="0.19" stroke="#6a7098" stroke-width="0.8" stroke-opacity="0.44"/><circle cx="198.8" cy="273.2" r="2.0" fill="#dce0e8" fill-opacity="0.13" stroke="#5a6490" stroke-width="0.7" stroke-opacity="0.50"/><circle cx="183.7" cy="259.6" r="2.0" fill="#dce0e8" fill-opacity="0.14" stroke="#6a7098" stroke-width="1.1" stroke-opacity="0.33"/><circle cx="195.8" cy="271.1" r="3.3" fill="#dce0e8" fill-opacity="0.20" stroke="#5a6490" stroke-width="0.7" stroke-opacity="0.54"/><circle cx="190.5" cy="250.8" r="2.7" fill="#dce0e8" fill-opacity="0.19" stroke="#4a5488" stroke-width="0.9" stroke-opacity="0.53"/><circle cx="189.7" cy="307.4" r="3.0" fill="#e8ecf0" fill-opacity="0.11" stroke="#6a7098" stroke-width="1.0" stroke-opacity="0.53"/><circle cx="180.6" cy="314.3" r="1.8" fill="#e8ecf0" fill-opacity="0.17" stroke="#6a7098" stroke-width="0.7" stroke-opacity="0.50"/><circle cx="199.6" cy="256.2" r="3.5" fill="#e8ecf0" fill-opacity="0.30" stroke="#4a5488" stroke-width="0.8" stroke-opacity="0.56"/><circle cx="179.1" cy="296.7" r="2.3" fill="#e8ecf0" fill-opacity="0.16" stroke="#5a6490" stroke-width="0.9" stroke-opacity="0.52"/><circle cx="181.3" cy="289.4" r="3.3" fill="#dce0e8" fill-opacity="0.24" stroke="#4a5488" stroke-width="1.0" stroke-opacity="0.33"/><circle cx="167.0" cy="270.1" r="2.3" fill="#e8ecf0" fill-opacity="0.26" stroke="#5a6490" stroke-width="0.9" stroke-opacity="0.59"/><circle cx="181.7" cy="268.7" r="2.8" fill="#dce0e8" fill-opacity="0.24" stroke="#6a7098" stroke-width="0.8" stroke-opacity="0.34"/><circle cx="186.7" cy="284.8" r="2.7" fill="#e8ecf0" fill-opacity="0.29" stroke="#6a7098" stroke-width="0.7" stroke-opacity="0.48"/><circle cx="126.6" cy="269.8" r="2.1" fill="#e8ecf0" fill-opacity="0.17" stroke="#6a7098" stroke-width="1.2" stroke-opacity="0.34"/><circle cx="200.5" cy="304.6" r="2.5" fill="#e8ecf0" fill-opacity="0.19" stroke="#6a7098" stroke-width="1.0" stroke-opacity="0.37"/><circle cx="206.9" cy="264.0" r="2.5" fill="#dce0e8" fill-opacity="0.25" stroke="#4a5488" stroke-width="1.2" stroke-opacity="0.49"/><circle cx="204.9" cy="260.8" r="3.3" fill="#dce0e8" fill-opacity="0.10" stroke="#4a5488" stroke-width="0.9" stroke-opacity="0.33"/><circle cx="204.4" cy="303.4" r="2.8" fill="#e8ecf0" fill-opacity="0.18" stroke="#5a6490" stroke-width="0.7" stroke-opacity="0.57"/><circle cx="167.7" cy="274.0" r="2.6" fill="#dce0e8" fill-opacity="0.16" stroke="#4a5488" stroke-width="0.9" stroke-opacity="0.54"/><circle cx="186.3" cy="268.4" r="2.8" fill="#dce0e8" fill-opacity="0.21" stroke="#6a7098" stroke-width="1.0" stroke-opacity="0.42"/><circle cx="206.1" cy="292.8" r="3.1" fill="#dce0e8" fill-opacity="0.24" stroke="#6a7098" stroke-width="1.0" stroke-opacity="0.52"/><circle cx="198.3" cy="266.2" r="2.6" fill="#dce0e8" fill-opacity="0.27" stroke="#6a7098" stroke-width="1.0" stroke-opacity="0.54"/><circle cx="211.2" cy="269.4" r="2.5" fill="#e8ecf0" fill-opacity="0.17" stroke="#5a6490" stroke-width="0.9" stroke-opacity="0.53"/><circle cx="196.1" cy="313.9" r="2.2" fill="#e8ecf0" fill-opacity="0.15" stroke="#5a6490" stroke-width="0.8" stroke-opacity="0.43"/><circle cx="172.2" cy="268.4" r="1.8" fill="#e8ecf0" fill-opacity="0.30" stroke="#4a5488" stroke-width="1.0" stroke-opacity="0.47"/><circle cx="172.2" cy="260.1" r="2.0" fill="#dce0e8" fill-opacity="0.14" stroke="#5a6490" stroke-width="1.1" stroke-opacity="0.41"/><circle cx="188.3" cy="269.0" r="1.9" fill="#dce0e8" fill-opacity="0.29" stroke="#5a6490" stroke-width="1.0" stroke-opacity="0.59"/><circle cx="188.6" cy="287.5" r="3.4" fill="#e8ecf0" fill-opacity="0.13" stroke="#4a5488" stroke-width="0.7" stroke-opacity="0.47"/><circle cx="198.2" cy="289.8" r="2.9" fill="#e8ecf0" fill-opacity="0.15" stroke="#6a7098" stroke-width="0.9" stroke-opacity="0.42"/><circle cx="183.6" cy="306.0" r="2.7" fill="#dce0e8" fill-opacity="0.22" stroke="#6a7098" stroke-width="0.8" stroke-opacity="0.51"/><circle cx="145.1" cy="257.2" r="2.6" fill="#e8ecf0" fill-opacity="0.23" stroke="#4a5488" stroke-width="1.2" stroke-opacity="0.45"/><circle cx="166.0" cy="268.1" r="3.6" fill="#e8ecf0" fill-opacity="0.22" stroke="#5a6490" stroke-width="1.2" stroke-opacity="0.49"/><circle cx="130.7" cy="259.5" r="2.3" fill="#e8ecf0" fill-opacity="0.14" stroke="#5a6490" stroke-width="0.7" stroke-opacity="0.33"/><circle cx="181.0" cy="258.1" r="3.5" fill="#e8ecf0" fill-opacity="0.22" stroke="#4a5488" stroke-width="0.9" stroke-opacity="0.47"/><circle cx="190.3" cy="267.1" r="3.3" fill="#dce0e8" fill-opacity="0.29" stroke="#4a5488" stroke-width="1.2" stroke-opacity="0.52"/><circle cx="204.7" cy="281.9" r="3.3" fill="#dce0e8" fill-opacity="0.18" stroke="#5a6490" stroke-width="0.9" stroke-opacity="0.47"/><circle cx="208.0" cy="270.7" r="3.1" fill="#e8ecf0" fill-opacity="0.12" stroke="#4a5488" stroke-width="0.8" stroke-opacity="0.37"/><circle cx="185.6" cy="258.1" r="1.9" fill="#dce0e8" fill-opacity="0.22" stroke="#4a5488" stroke-width="1.0" stroke-opacity="0.40"/><circle cx="170.6" cy="288.9" r="2.5" fill="#e8ecf0" fill-opacity="0.25" stroke="#6a7098" stroke-width="0.7" stroke-opacity="0.54"/><circle cx="204.9" cy="286.1" r="2.2" fill="#dce0e8" fill-opacity="0.11" stroke="#4a5488" stroke-width="1.0" stroke-opacity="0.48"/><circle cx="210.1" cy="287.3" r="2.3" fill="#e8ecf0" fill-opacity="0.23" stroke="#5a6490" stroke-width="0.8" stroke-opacity="0.32"/><circle cx="183.6" cy="299.4" r="2.4" fill="#e8ecf0" fill-opacity="0.15" stroke="#5a6490" stroke-width="0.7" stroke-opacity="0.40"/><circle cx="183.9" cy="285.0" r="3.2" fill="#e8ecf0" fill-opacity="0.22" stroke="#4a5488" stroke-width="0.8" stroke-opacity="0.40"/><circle cx="182.1" cy="289.8" r="3.4" fill="#e8ecf0" fill-opacity="0.30" stroke="#4a5488" stroke-width="0.7" stroke-opacity="0.35"/><circle cx="171.1" cy="262.5" r="3.2" fill="#dce0e8" fill-opacity="0.12" stroke="#6a7098" stroke-width="0.9" stroke-opacity="0.51"/><circle cx="186.3" cy="266.3" r="2.3" fill="#e8ecf0" fill-opacity="0.14" stroke="#4a5488" stroke-width="0.9" stroke-opacity="0.45"/><circle cx="175.0" cy="282.6" r="2.1" fill="#e8ecf0" fill-opacity="0.29" stroke="#5a6490" stroke-width="0.8" stroke-opacity="0.47"/><circle cx="186.7" cy="312.7" r="2.2" fill="#dce0e8" fill-opacity="0.21" stroke="#5a6490" stroke-width="1.2" stroke-opacity="0.41"/><circle cx="191.0" cy="310.4" r="2.9" fill="#e8ecf0" fill-opacity="0.23" stroke="#6a7098" stroke-width="1.2" stroke-opacity="0.54"/><circle cx="210.9" cy="276.6" r="1.9" fill="#e8ecf0" fill-opacity="0.22" stroke="#6a7098" stroke-width="0.9" stroke-opacity="0.55"/><circle cx="182.5" cy="293.3" r="3.2" fill="#dce0e8" fill-opacity="0.23" stroke="#5a6490" stroke-width="0.7" stroke-opacity="0.53"/><circle cx="201.1" cy="284.9" r="2.0" fill="#e8ecf0" fill-opacity="0.19" stroke="#6a7098" stroke-width="0.8" stroke-opacity="0.51"/><circle cx="169.2" cy="274.5" r="2.8" fill="#e8ecf0" fill-opacity="0.28" stroke="#5a6490" stroke-width="0.9" stroke-opacity="0.51"/><circle cx="169.2" cy="289.8" r="3.6" fill="#dce0e8" fill-opacity="0.17" stroke="#4a5488" stroke-width="0.8" stroke-opacity="0.48"/><circle cx="194.6" cy="298.9" r="2.5" fill="#dce0e8" fill-opacity="0.29" stroke="#4a5488" stroke-width="0.8" stroke-opacity="0.38"/><circle cx="174.4" cy="286.2" r="2.0" fill="#dce0e8" fill-opacity="0.15" stroke="#4a5488" stroke-width="1.2" stroke-opacity="0.54"/><circle cx="193.4" cy="311.9" r="2.6" fill="#dce0e8" fill-opacity="0.27" stroke="#4a5488" stroke-width="1.1" stroke-opacity="0.31"/><circle cx="177.1" cy="262.1" r="2.1" fill="#e8ecf0" fill-opacity="0.22" stroke="#6a7098" stroke-width="1.1" stroke-opacity="0.53"/><circle cx="184.3" cy="298.6" r="3.2" fill="#e8ecf0" fill-opacity="0.29" stroke="#5a6490" stroke-width="0.8" stroke-opacity="0.51"/><circle cx="182.9" cy="252.4" r="3.5" fill="#e8ecf0" fill-opacity="0.14" stroke="#6a7098" stroke-width="0.8" stroke-opacity="0.51"/><circle cx="170.7" cy="267.9" r="2.3" fill="#e8ecf0" fill-opacity="0.30" stroke="#6a7098" stroke-width="1.1" stroke-opacity="0.32"/><circle cx="205.9" cy="270.3" r="3.1" fill="#dce0e8" fill-opacity="0.22" stroke="#6a7098" stroke-width="0.7" stroke-opacity="0.41"/><circle cx="166" cy="278.5" r="3.3" fill="#e4e6e0" stroke="#4a5488" stroke-width="1.0" opacity="0.8"/><circle cx="181.8" cy="284.8" r="3.3" fill="#e4e6e0" stroke="#4a5488" stroke-width="1.0" opacity="0.8"/><circle cx="174.4" cy="272.2" r="3" fill="#e0e2e0" stroke="#4a5488" stroke-width="0.9" opacity="0.7"/><circle cx="194.4" cy="254.3" r="3.8" fill="#e0e2e0" stroke="#4a5488" stroke-width="0.9" opacity="0.7"/><circle cx="189" cy="278.5" r="3" fill="none" stroke="#4a5488" stroke-width="0.9" opacity="0.6"/><circle cx="203.8" cy="272.2" r="3" fill="none" stroke="#4a5488" stroke-width="0.9" opacity="0.6"/></g></g><line x1="144.4" y1="290.8" x2="155.38" y2="284.93" stroke="#151515" stroke-width="1.6"/><path d="M159.00 283.00 L156.17 287.46 L153.72 282.87 Z" fill="#151515"/>
<g font-weight="bold" font-size="12" fill="#000" stroke="#000" stroke-width="0.35"><text x="1.4" y="12.2" textLength="7.9" lengthAdjust="spacingAndGlyphs">A</text><text x="265" y="12.9" textLength="7.9" lengthAdjust="spacingAndGlyphs">B</text><text x="2.3" y="170.6" textLength="7.7" lengthAdjust="spacingAndGlyphs">C</text><text x="265.3" y="170.9" textLength="7.6" lengthAdjust="spacingAndGlyphs">D</text></g><rect x="32.2" y="20.3" width="59.0" height="50.400000000000006" fill="none" stroke="#8a8a8a" stroke-width="1"/><text x="30.30" y="73.30" font-size="7.4" text-anchor="end" font-weight="normal" fill="#111" stroke="#111" stroke-width="0.14" textLength="3.35" lengthAdjust="spacingAndGlyphs" >0</text><text x="30.30" y="63.22" font-size="7.4" text-anchor="end" font-weight="normal" fill="#111" stroke="#111" stroke-width="0.14" textLength="6.7" lengthAdjust="spacingAndGlyphs" >10</text><text x="30.30" y="53.14" font-size="7.4" text-anchor="end" font-weight="normal" fill="#111" stroke="#111" stroke-width="0.14" textLength="6.7" lengthAdjust="spacingAndGlyphs" >20</text><text x="30.30" y="43.06" font-size="7.4" text-anchor="end" font-weight="normal" fill="#111" stroke="#111" stroke-width="0.14" textLength="6.7" lengthAdjust="spacingAndGlyphs" >30</text><text x="30.30" y="32.98" font-size="7.4" text-anchor="end" font-weight="normal" fill="#111" stroke="#111" stroke-width="0.14" textLength="6.7" lengthAdjust="spacingAndGlyphs" >40</text><text x="30.30" y="22.90" font-size="7.4" text-anchor="end" font-weight="normal" fill="#111" stroke="#111" stroke-width="0.14" textLength="6.7" lengthAdjust="spacingAndGlyphs" >50</text><line x1="61.8" y1="26.3" x2="61.8" y2="49.8" stroke="#666" stroke-width="0.9" stroke-dasharray="1.5,0.6"/><line x1="74.6" y1="49.8" x2="74.6" y2="60.7" stroke="#666" stroke-width="0.9" stroke-dasharray="1.5,0.6"/><line x1="87" y1="43.2" x2="87" y2="70.7" stroke="#666" stroke-width="0.9" stroke-dasharray="1.5,0.6"/><polyline points="36.4,70.7 49.2,70.7 61.8,70.7 74.6,70.7 87,70.7" fill="none" stroke="#888" stroke-width="1.5"/><polyline points="36.4,70.7 49.2,59.6 61.8,38.2 74.6,55.1 87,55.1" fill="none" stroke="#555" stroke-width="0.9"/><circle cx="36.4" cy="70.7" r="2.05" fill="#fff" stroke="#444" stroke-width="0.9"/><circle cx="49.2" cy="70.7" r="2.05" fill="#fff" stroke="#444" stroke-width="0.9"/><circle cx="61.8" cy="70.7" r="2.05" fill="#fff" stroke="#444" stroke-width="0.9"/><circle cx="74.6" cy="70.7" r="2.05" fill="#fff" stroke="#444" stroke-width="0.9"/><circle cx="87" cy="70.7" r="2.05" fill="#fff" stroke="#444" stroke-width="0.9"/><circle cx="49.2" cy="59.6" r="2.3" fill="#000"/><circle cx="61.8" cy="38.2" r="2.3" fill="#000"/><circle cx="74.6" cy="55.1" r="2.3" fill="#000"/><circle cx="87" cy="55.1" r="2.3" fill="#000"/><text transform="translate(19.6,46.5) rotate(-90)" x="0" y="0" font-size="8" text-anchor="middle" fill="#111" stroke="#111" stroke-width="0.1" textLength="42" lengthAdjust="spacingAndGlyphs">% PD-L2<tspan font-size="4.5" dy="-2.5">+</tspan><tspan dy="2.5"> M&#981;</tspan></text><rect x="32" y="83.3" width="59" height="49.39999999999999" fill="none" stroke="#8a8a8a" stroke-width="1"/><text x="30.30" y="135.30" font-size="7.4" text-anchor="end" font-weight="normal" fill="#111" stroke="#111" stroke-width="0.14" textLength="3.35" lengthAdjust="spacingAndGlyphs" >0</text><text x="30.30" y="125.42" font-size="7.4" text-anchor="end" font-weight="normal" fill="#111" stroke="#111" stroke-width="0.14" textLength="3.35" lengthAdjust="spacingAndGlyphs" >5</text><text x="30.30" y="115.54" font-size="7.4" text-anchor="end" font-weight="normal" fill="#111" stroke="#111" stroke-width="0.14" textLength="6.7" lengthAdjust="spacingAndGlyphs" >10</text><text x="30.30" y="105.66" font-size="7.4" text-anchor="end" font-weight="normal" fill="#111" stroke="#111" stroke-width="0.14" textLength="6.7" lengthAdjust="spacingAndGlyphs" >15</text><text x="30.30" y="95.78" font-size="7.4" text-anchor="end" font-weight="normal" fill="#111" stroke="#111" stroke-width="0.14" textLength="6.7" lengthAdjust="spacingAndGlyphs" >20</text><text x="30.30" y="85.90" font-size="7.4" text-anchor="end" font-weight="normal" fill="#111" stroke="#111" stroke-width="0.14" textLength="6.7" lengthAdjust="spacingAndGlyphs" >25</text><line x1="48.9" y1="97" x2="48.9" y2="128.9" stroke="#666" stroke-width="0.9" stroke-dasharray="1.5,0.6"/><line x1="61.9" y1="85" x2="61.9" y2="108.8" stroke="#666" stroke-width="0.9" stroke-dasharray="1.5,0.6"/><line x1="74.7" y1="100" x2="74.7" y2="113.9" stroke="#666" stroke-width="0.9" stroke-dasharray="1.5,0.6"/><line x1="87" y1="97.6" x2="87" y2="131.4" stroke="#666" stroke-width="0.9" stroke-dasharray="1.5,0.6"/><polyline points="36.3,131.9 48.9,129.8 61.9,129.8 74.5,130.3 86.9,130.3" fill="none" stroke="#888" stroke-width="1.5"/><polyline points="36.3,131.9 48.9,111.3 61.9,97 74.7,107.1 87,111.3" fill="none" stroke="#555" stroke-width="0.9"/><circle cx="36.3" cy="131.9" r="2.05" fill="#fff" stroke="#444" stroke-width="0.9"/><circle cx="48.9" cy="129.8" r="2.05" fill="#fff" stroke="#444" stroke-width="0.9"/><circle cx="61.9" cy="129.8" r="2.05" fill="#fff" stroke="#444" stroke-width="0.9"/><circle cx="74.5" cy="130.3" r="2.05" fill="#fff" stroke="#444" stroke-width="0.9"/><circle cx="86.9" cy="130.3" r="2.05" fill="#fff" stroke="#444" stroke-width="0.9"/><circle cx="48.9" cy="111.3" r="2.3" fill="#000"/><circle cx="61.9" cy="97" r="2.3" fill="#000"/><circle cx="74.7" cy="107.1" r="2.3" fill="#000"/><circle cx="87" cy="111.3" r="2.3" fill="#000"/><text x="36.30" y="141.90" font-size="8" text-anchor="middle" font-weight="normal" fill="#111" stroke="#111" stroke-width="0.14" textLength="4.0" lengthAdjust="spacingAndGlyphs" >0</text><text x="48.90" y="141.90" font-size="8" text-anchor="middle" font-weight="normal" fill="#111" stroke="#111" stroke-width="0.14" textLength="4.0" lengthAdjust="spacingAndGlyphs" >9</text><text x="61.90" y="141.90" font-size="8" text-anchor="middle" font-weight="normal" fill="#111" stroke="#111" stroke-width="0.14" textLength="8.0" lengthAdjust="spacingAndGlyphs" >13</text><text x="74.50" y="141.90" font-size="8" text-anchor="middle" font-weight="normal" fill="#111" stroke="#111" stroke-width="0.14" textLength="8.0" lengthAdjust="spacingAndGlyphs" >16</text><text x="86.90" y="141.90" font-size="8" text-anchor="middle" font-weight="normal" fill="#111" stroke="#111" stroke-width="0.14" textLength="8.0" lengthAdjust="spacingAndGlyphs" >20</text><text x="27.80" y="150.90" font-size="8" text-anchor="start" font-weight="normal" fill="#111" stroke="#111" stroke-width="0.14" textLength="67" lengthAdjust="spacingAndGlyphs" >Days after infection</text><text transform="translate(19.4,106.8) rotate(-90)" x="0" y="0" font-size="8" text-anchor="middle" fill="#111" stroke="#111" stroke-width="0.1" textLength="53" lengthAdjust="spacingAndGlyphs">PD-L2<tspan font-size="4.5" dy="-2.5">+</tspan><tspan dy="2.5"> M&#981; (x10</tspan><tspan font-size="4.5" dy="-2.5">5</tspan><tspan dy="2.5">)</tspan></text><rect x="298.4" y="20.7" width="58.400000000000034" height="49.2" fill="none" stroke="#8a8a8a" stroke-width="1"/><text x="296.50" y="72.50" font-size="7.4" text-anchor="end" font-weight="normal" fill="#111" stroke="#111" stroke-width="0.14" textLength="3.35" lengthAdjust="spacingAndGlyphs" >0</text><text x="296.50" y="62.66" font-size="7.4" text-anchor="end" font-weight="normal" fill="#111" stroke="#111" stroke-width="0.14" textLength="3.35" lengthAdjust="spacingAndGlyphs" >5</text><text x="296.50" y="52.82" font-size="7.4" text-anchor="end" font-weight="normal" fill="#111" stroke="#111" stroke-width="0.14" textLength="6.7" lengthAdjust="spacingAndGlyphs" >10</text><text x="296.50" y="42.98" font-size="7.4" text-anchor="end" font-weight="normal" fill="#111" stroke="#111" stroke-width="0.14" textLength="6.7" lengthAdjust="spacingAndGlyphs" >15</text><text x="296.50" y="33.14" font-size="7.4" text-anchor="end" font-weight="normal" fill="#111" stroke="#111" stroke-width="0.14" textLength="6.7" lengthAdjust="spacingAndGlyphs" >20</text><text x="296.50" y="23.30" font-size="7.4" text-anchor="end" font-weight="normal" fill="#111" stroke="#111" stroke-width="0.14" textLength="6.7" lengthAdjust="spacingAndGlyphs" >25</text><line x1="327.9" y1="35.7" x2="327.9" y2="47" stroke="#666" stroke-width="0.9" stroke-dasharray="1.5,0.6"/><line x1="340.5" y1="31" x2="340.5" y2="57.9" stroke="#666" stroke-width="0.9" stroke-dasharray="1.5,0.6"/><line x1="353.3" y1="24.8" x2="353.3" y2="69.6" stroke="#666" stroke-width="0.9" stroke-dasharray="1.5,0.6"/><polyline points="302.8,69.6 315.4,69.6 327.9,69.6 340.5,69.6 353.3,69.6" fill="none" stroke="#888" stroke-width="1.5"/><polyline points="302.8,69.6 315.3,62.5 327.9,41.3 340.5,44.5 353.1,44.5" fill="none" stroke="#555" stroke-width="0.9"/><circle cx="302.8" cy="69.6" r="2.05" fill="#fff" stroke="#444" stroke-width="0.9"/><circle cx="315.4" cy="69.6" r="2.05" fill="#fff" stroke="#444" stroke-width="0.9"/><circle cx="327.9" cy="69.6" r="2.05" fill="#fff" stroke="#444" stroke-width="0.9"/><circle cx="340.5" cy="69.6" r="2.05" fill="#fff" stroke="#444" stroke-width="0.9"/><circle cx="353.3" cy="69.6" r="2.05" fill="#fff" stroke="#444" stroke-width="0.9"/><circle cx="315.3" cy="62.5" r="2.3" fill="#000"/><circle cx="327.9" cy="41.3" r="2.3" fill="#000"/><circle cx="340.5" cy="44.5" r="2.3" fill="#000"/><circle cx="353.1" cy="44.5" r="2.3" fill="#000"/><text transform="translate(283.0,45.5) rotate(-90)" x="0" y="0" font-size="8" text-anchor="middle" fill="#111" stroke="#111" stroke-width="0.1" textLength="42" lengthAdjust="spacingAndGlyphs">% PD-L2<tspan font-size="4.5" dy="-2.5">+</tspan><tspan dy="2.5"> M&#981;</tspan></text><rect x="298.1" y="82" width="58.39999999999998" height="49.400000000000006" fill="none" stroke="#8a8a8a" stroke-width="1"/><text x="296.30" y="134.00" font-size="7.4" text-anchor="end" font-weight="normal" fill="#111" stroke="#111" stroke-width="0.14" textLength="3.35" lengthAdjust="spacingAndGlyphs" >0</text><text x="296.30" y="121.65" font-size="7.4" text-anchor="end" font-weight="normal" fill="#111" stroke="#111" stroke-width="0.14" textLength="6.7" lengthAdjust="spacingAndGlyphs" >50</text><text x="296.30" y="109.30" font-size="7.4" text-anchor="end" font-weight="normal" fill="#111" stroke="#111" stroke-width="0.14" textLength="10.05" lengthAdjust="spacingAndGlyphs" >100</text><text x="296.30" y="96.95" font-size="7.4" text-anchor="end" font-weight="normal" fill="#111" stroke="#111" stroke-width="0.14" textLength="10.05" lengthAdjust="spacingAndGlyphs" >150</text><text x="296.30" y="84.60" font-size="7.4" text-anchor="end" font-weight="normal" fill="#111" stroke="#111" stroke-width="0.14" textLength="10.05" lengthAdjust="spacingAndGlyphs" >200</text><line x1="340.9" y1="98.8" x2="340.9" y2="120.1" stroke="#666" stroke-width="0.9" stroke-dasharray="1.5,0.6"/><line x1="352.7" y1="87.5" x2="352.7" y2="131.4" stroke="#666" stroke-width="0.9" stroke-dasharray="1.5,0.6"/><polyline points="302.1,128.9 314.6,131.4 327.7,131.4 340.9,128.1 352.7,129.4" fill="none" stroke="#888" stroke-width="1.5"/><polyline points="302.1,128.9 314.6,128.4 327.7,119.6 340.9,109.3 352.7,106.3" fill="none" stroke="#555" stroke-width="0.9"/><circle cx="302.1" cy="128.9" r="2.05" fill="#fff" stroke="#444" stroke-width="0.9"/><circle cx="314.6" cy="131.4" r="2.05" fill="#fff" stroke="#444" stroke-width="0.9"/><circle cx="327.7" cy="131.4" r="2.05" fill="#fff" stroke="#444" stroke-width="0.9"/><circle cx="340.9" cy="128.1" r="2.05" fill="#fff" stroke="#444" stroke-width="0.9"/><circle cx="352.7" cy="129.4" r="2.05" fill="#fff" stroke="#444" stroke-width="0.9"/><circle cx="314.6" cy="128.4" r="2.3" fill="#000"/><circle cx="327.7" cy="119.6" r="2.3" fill="#000"/><circle cx="340.9" cy="109.3" r="2.3" fill="#000"/><circle cx="352.7" cy="106.3" r="2.3" fill="#000"/><text x="302.10" y="142.50" font-size="8" text-anchor="middle" font-weight="normal" fill="#111" stroke="#111" stroke-width="0.14" textLength="4.0" lengthAdjust="spacingAndGlyphs" >0</text><text x="314.60" y="142.50" font-size="8" text-anchor="middle" font-weight="normal" fill="#111" stroke="#111" stroke-width="0.14" textLength="4.0" lengthAdjust="spacingAndGlyphs" >9</text><text x="327.70" y="142.50" font-size="8" text-anchor="middle" font-weight="normal" fill="#111" stroke="#111" stroke-width="0.14" textLength="8.0" lengthAdjust="spacingAndGlyphs" >13</text><text x="340.90" y="142.50" font-size="8" text-anchor="middle" font-weight="normal" fill="#111" stroke="#111" stroke-width="0.14" textLength="8.0" lengthAdjust="spacingAndGlyphs" >16</text><text x="352.70" y="142.50" font-size="8" text-anchor="middle" font-weight="normal" fill="#111" stroke="#111" stroke-width="0.14" textLength="8.0" lengthAdjust="spacingAndGlyphs" >20</text><text x="294.40" y="151.80" font-size="8" text-anchor="start" font-weight="normal" fill="#111" stroke="#111" stroke-width="0.14" textLength="66.8" lengthAdjust="spacingAndGlyphs" >Days after infection</text><text transform="translate(281.5,108) rotate(-90)" x="0" y="0" font-size="8" text-anchor="middle" fill="#111" stroke="#111" stroke-width="0.1" textLength="54" lengthAdjust="spacingAndGlyphs">PD-L2<tspan font-size="4.5" dy="-2.5">+</tspan><tspan dy="2.5"> M&#981; (x10</tspan><tspan font-size="4.5" dy="-2.5">4</tspan><tspan dy="2.5">)</tspan></text><defs><filter id="fb" x="-50%" y="-50%" width="200%" height="200%"><feGaussianBlur stdDeviation="1.6"/></filter></defs><g><clipPath id="c107"><rect x="114.7" y="20.3" width="46.999999999999986" height="50.2"/></clipPath><g clip-path="url(#c107)"><g filter="url(#fb)"><ellipse cx="127.5" cy="49.5" rx="11" ry="8.5" fill="#000" fill-opacity="0.22"/><ellipse cx="129" cy="49" rx="7.5" ry="5.5" fill="#000" fill-opacity="0.55"/><ellipse cx="130" cy="48.8" rx="4" ry="3" fill="#000" fill-opacity="0.45"/></g><path d="M128.2 51.0h.8v.8h-.8zM128.4 47.7h.8v.8h-.8zM124.8 48.1h.8v.8h-.8zM135.1 50.7h.8v.8h-.8zM134.7 50.0h.8v.8h-.8zM131.5 49.7h.8v.8h-.8zM121.2 52.4h.8v.8h-.8zM132.0 51.0h.8v.8h-.8zM121.0 42.0h.8v.8h-.8zM125.1 47.1h.8v.8h-.8zM131.0 48.8h.8v.8h-.8zM132.1 46.4h.8v.8h-.8zM131.0 50.6h.8v.8h-.8zM126.2 55.9h.8v.8h-.8zM132.3 53.8h.8v.8h-.8zM126.4 46.0h.8v.8h-.8zM127.8 48.6h.8v.8h-.8zM132.7 50.0h.8v.8h-.8zM127.3 45.2h.8v.8h-.8zM126.9 53.9h.8v.8h-.8zM125.5 50.0h.8v.8h-.8zM131.6 43.0h.8v.8h-.8zM129.7 54.2h.8v.8h-.8zM119.4 47.7h.8v.8h-.8zM129.0 45.7h.8v.8h-.8zM132.0 48.8h.8v.8h-.8zM122.2 52.3h.8v.8h-.8zM132.8 52.8h.8v.8h-.8zM136.7 50.4h.8v.8h-.8zM130.1 43.8h.8v.8h-.8zM132.6 46.6h.8v.8h-.8zM127.2 43.9h.8v.8h-.8zM124.7 46.9h.8v.8h-.8zM135.9 40.9h.8v.8h-.8zM122.2 50.0h.8v.8h-.8zM136.7 51.3h.8v.8h-.8zM120.0 38.9h.8v.8h-.8zM131.3 46.1h.8v.8h-.8zM123.9 52.9h.8v.8h-.8zM135.0 49.6h.8v.8h-.8zM130.7 50.7h.8v.8h-.8zM137.5 51.5h.8v.8h-.8zM132.1 51.2h.8v.8h-.8zM121.7 54.1h.8v.8h-.8zM134.3 51.1h.8v.8h-.8zM119.6 46.5h.8v.8h-.8zM133.7 41.8h.8v.8h-.8zM128.6 53.1h.8v.8h-.8zM122.9 55.4h.8v.8h-.8zM132.3 48.4h.8v.8h-.8zM131.1 51.6h.8v.8h-.8zM130.1 53.6h.8v.8h-.8zM126.2 47.3h.8v.8h-.8zM134.7 49.1h.8v.8h-.8zM125.1 52.8h.8v.8h-.8zM136.8 47.2h.8v.8h-.8zM122.6 48.5h.8v.8h-.8zM128.8 47.8h.8v.8h-.8zM136.5 44.9h.8v.8h-.8zM135.8 43.9h.8v.8h-.8zM125.6 51.5h.8v.8h-.8zM135.1 52.4h.8v.8h-.8zM131.2 49.6h.8v.8h-.8zM130.3 51.3h.8v.8h-.8zM128.6 50.1h.8v.8h-.8zM132.4 49.0h.8v.8h-.8zM133.3 51.3h.8v.8h-.8zM139.6 50.3h.8v.8h-.8zM127.4 47.5h.8v.8h-.8zM129.4 52.7h.8v.8h-.8zM127.8 50.5h.8v.8h-.8zM138.7 38.7h.8v.8h-.8zM123.9 50.0h.8v.8h-.8zM131.5 50.0h.8v.8h-.8zM127.3 51.6h.8v.8h-.8zM130.9 46.9h.8v.8h-.8zM141.7 50.4h.8v.8h-.8zM126.7 48.6h.8v.8h-.8zM128.4 48.7h.8v.8h-.8zM115.9 47.1h.8v.8h-.8zM134.5 44.3h.8v.8h-.8zM129.2 52.8h.8v.8h-.8zM133.8 55.0h.8v.8h-.8zM121.0 47.6h.8v.8h-.8zM127.8 51.5h.8v.8h-.8zM135.0 38.3h.8v.8h-.8zM134.9 43.2h.8v.8h-.8zM132.9 43.0h.8v.8h-.8zM130.4 53.8h.8v.8h-.8zM128.8 49.8h.8v.8h-.8zM133.5 49.6h.8v.8h-.8zM129.1 55.1h.8v.8h-.8zM134.7 47.8h.8v.8h-.8zM143.2 44.4h.8v.8h-.8zM134.1 47.9h.8v.8h-.8zM130.2 51.8h.8v.8h-.8zM130.6 51.6h.8v.8h-.8zM121.9 43.0h.8v.8h-.8zM132.6 45.1h.8v.8h-.8zM124.4 43.1h.8v.8h-.8zM135.8 52.0h.8v.8h-.8zM136.9 45.2h.8v.8h-.8zM129.5 44.4h.8v.8h-.8zM133.3 55.4h.8v.8h-.8zM125.0 55.2h.8v.8h-.8zM134.4 48.3h.8v.8h-.8zM119.6 54.6h.8v.8h-.8zM129.0 46.6h.8v.8h-.8zM131.5 50.6h.8v.8h-.8zM137.0 44.9h.8v.8h-.8zM135.2 54.9h.8v.8h-.8zM136.8 48.3h.8v.8h-.8zM125.8 53.1h.8v.8h-.8zM130.1 49.5h.8v.8h-.8zM136.6 47.9h.8v.8h-.8zM118.0 47.5h.8v.8h-.8zM120.2 52.3h.8v.8h-.8zM131.1 46.6h.8v.8h-.8zM129.5 52.3h.8v.8h-.8zM129.9 54.3h.8v.8h-.8zM129.2 53.2h.8v.8h-.8zM137.0 55.4h.8v.8h-.8zM126.1 52.5h.8v.8h-.8zM120.1 44.7h.8v.8h-.8zM119.7 53.3h.8v.8h-.8zM123.3 48.9h.8v.8h-.8zM128.5 48.9h.8v.8h-.8zM126.5 49.9h.8v.8h-.8zM138.5 49.2h.8v.8h-.8zM132.2 53.0h.8v.8h-.8zM128.5 44.0h.8v.8h-.8zM126.7 53.3h.8v.8h-.8zM121.3 46.6h.8v.8h-.8zM134.5 52.2h.8v.8h-.8zM129.5 52.2h.8v.8h-.8zM130.3 44.3h.8v.8h-.8zM121.7 46.4h.8v.8h-.8zM134.1 46.7h.8v.8h-.8zM125.0 45.9h.8v.8h-.8zM121.8 48.5h.8v.8h-.8zM123.6 50.5h.8v.8h-.8zM117.7 50.3h.8v.8h-.8zM126.3 41.2h.8v.8h-.8zM133.1 47.9h.8v.8h-.8zM118.3 45.5h.8v.8h-.8zM131.0 47.2h.8v.8h-.8zM133.4 52.0h.8v.8h-.8zM132.8 50.3h.8v.8h-.8zM136.2 51.6h.8v.8h-.8zM131.8 40.7h.8v.8h-.8zM134.0 54.2h.8v.8h-.8zM128.0 47.1h.8v.8h-.8zM139.2 42.0h.8v.8h-.8zM131.8 58.7h.8v.8h-.8zM124.9 51.8h.8v.8h-.8zM138.9 48.5h.8v.8h-.8zM132.3 52.6h.8v.8h-.8zM125.0 48.6h.8v.8h-.8zM131.0 52.3h.8v.8h-.8zM129.3 48.2h.8v.8h-.8zM124.4 47.6h.8v.8h-.8zM134.0 49.4h.8v.8h-.8zM125.2 45.6h.8v.8h-.8zM142.8 53.6h.8v.8h-.8zM132.7 38.6h.8v.8h-.8zM132.6 50.9h.8v.8h-.8zM137.9 50.7h.8v.8h-.8zM129.2 51.1h.8v.8h-.8zM119.8 53.1h.8v.8h-.8zM131.1 46.2h.8v.8h-.8zM136.1 56.2h.8v.8h-.8zM122.5 46.3h.8v.8h-.8zM131.0 49.7h.8v.8h-.8zM127.5 45.1h.8v.8h-.8zM140.1 53.1h.8v.8h-.8zM123.5 43.6h.8v.8h-.8zM138.0 53.0h.8v.8h-.8zM138.6 52.2h.8v.8h-.8zM125.1 50.0h.8v.8h-.8zM118.7 46.0h.8v.8h-.8zM129.2 51.1h.8v.8h-.8zM125.9 48.5h.8v.8h-.8zM131.8 50.5h.8v.8h-.8zM132.7 49.8h.8v.8h-.8zM127.9 52.2h.8v.8h-.8zM129.7 45.7h.8v.8h-.8zM126.4 49.0h.8v.8h-.8zM129.0 49.6h.8v.8h-.8zM129.5 49.7h.8v.8h-.8zM128.8 44.0h.8v.8h-.8zM131.6 53.2h.8v.8h-.8zM131.7 48.2h.8v.8h-.8zM131.7 45.1h.8v.8h-.8zM120.0 49.2h.8v.8h-.8zM124.8 52.0h.8v.8h-.8zM124.1 38.5h.8v.8h-.8zM124.3 55.3h.8v.8h-.8zM127.6 43.5h.8v.8h-.8zM125.7 51.1h.8v.8h-.8zM132.0 49.7h.8v.8h-.8zM136.9 51.8h.8v.8h-.8zM129.4 51.4h.8v.8h-.8zM137.8 52.9h.8v.8h-.8zM134.6 44.7h.8v.8h-.8zM128.8 51.9h.8v.8h-.8zM128.0 53.3h.8v.8h-.8zM132.5 52.6h.8v.8h-.8zM128.4 59.2h.8v.8h-.8zM135.7 48.1h.8v.8h-.8zM130.0 59.4h.8v.8h-.8zM127.8 52.5h.8v.8h-.8zM134.4 49.0h.8v.8h-.8zM123.7 49.8h.8v.8h-.8zM131.3 53.5h.8v.8h-.8zM133.4 49.1h.8v.8h-.8zM133.8 51.2h.8v.8h-.8zM130.5 49.2h.8v.8h-.8zM128.3 51.7h.8v.8h-.8zM124.2 46.5h.8v.8h-.8zM129.5 43.1h.8v.8h-.8zM127.3 41.0h.8v.8h-.8zM126.1 51.3h.8v.8h-.8zM132.3 48.8h.8v.8h-.8zM128.3 43.3h.8v.8h-.8zM138.6 51.1h.8v.8h-.8zM135.0 45.5h.8v.8h-.8zM128.6 41.7h.8v.8h-.8zM133.4 52.7h.8v.8h-.8zM120.0 48.8h.8v.8h-.8zM132.7 42.0h.8v.8h-.8zM120.4 44.7h.8v.8h-.8zM126.4 43.4h.8v.8h-.8zM129.7 50.0h.8v.8h-.8zM132.7 51.8h.8v.8h-.8zM137.0 53.7h.8v.8h-.8zM122.9 47.0h.8v.8h-.8zM124.2 44.7h.8v.8h-.8zM129.1 49.0h.8v.8h-.8zM132.0 42.7h.8v.8h-.8zM123.3 48.9h.8v.8h-.8zM128.5 47.8h.8v.8h-.8zM129.2 46.0h.8v.8h-.8zM133.0 50.4h.8v.8h-.8zM129.1 46.3h.8v.8h-.8zM128.6 38.1h.8v.8h-.8zM124.6 49.1h.8v.8h-.8zM122.0 49.8h.8v.8h-.8zM130.2 43.5h.8v.8h-.8zM128.2 47.7h.8v.8h-.8zM131.8 51.4h.8v.8h-.8zM129.3 45.6h.8v.8h-.8zM128.8 48.7h.8v.8h-.8zM133.2 50.2h.8v.8h-.8zM125.9 43.6h.8v.8h-.8zM127.6 46.0h.8v.8h-.8zM123.9 48.5h.8v.8h-.8zM127.0 49.4h.8v.8h-.8zM132.1 47.3h.8v.8h-.8zM141.1 47.7h.8v.8h-.8zM135.0 49.5h.8v.8h-.8zM135.1 39.5h.8v.8h-.8zM125.7 50.0h.8v.8h-.8zM132.5 58.3h.8v.8h-.8zM131.1 54.1h.8v.8h-.8zM133.3 52.8h.8v.8h-.8zM132.1 48.4h.8v.8h-.8zM132.0 44.7h.8v.8h-.8zM135.4 44.9h.8v.8h-.8zM130.7 57.5h.8v.8h-.8zM128.4 49.1h.8v.8h-.8zM135.3 49.1h.8v.8h-.8zM125.5 50.0h.8v.8h-.8zM132.4 51.8h.8v.8h-.8zM125.6 56.0h.8v.8h-.8zM137.8 49.1h.8v.8h-.8zM130.8 47.3h.8v.8h-.8zM136.6 46.2h.8v.8h-.8zM132.9 47.1h.8v.8h-.8zM126.0 51.9h.8v.8h-.8zM136.2 49.0h.8v.8h-.8zM126.1 52.2h.8v.8h-.8zM129.3 50.2h.8v.8h-.8zM137.1 53.5h.8v.8h-.8zM126.9 58.1h.8v.8h-.8zM129.5 52.1h.8v.8h-.8zM126.3 48.8h.8v.8h-.8zM120.8 56.1h.8v.8h-.8zM136.3 44.1h.8v.8h-.8zM122.0 42.5h.8v.8h-.8zM135.4 47.2h.8v.8h-.8zM129.2 47.7h.8v.8h-.8zM128.9 44.6h.8v.8h-.8zM129.6 43.2h.8v.8h-.8zM129.1 50.2h.8v.8h-.8zM131.8 48.1h.8v.8h-.8zM125.0 49.6h.8v.8h-.8zM127.1 55.3h.8v.8h-.8zM133.3 48.5h.8v.8h-.8zM127.1 46.2h.8v.8h-.8zM124.8 47.6h.8v.8h-.8zM131.0 51.1h.8v.8h-.8zM132.3 57.4h.8v.8h-.8zM126.0 49.1h.8v.8h-.8zM143.5 41.5h.8v.8h-.8zM126.9 49.7h.8v.8h-.8zM130.3 50.6h.8v.8h-.8zM128.3 50.5h.8v.8h-.8zM129.8 52.1h.8v.8h-.8zM120.0 45.5h.8v.8h-.8zM129.5 44.9h.8v.8h-.8zM124.3 51.5h.8v.8h-.8zM126.3 51.5h.8v.8h-.8zM133.2 50.2h.8v.8h-.8zM132.0 48.6h.8v.8h-.8zM122.5 48.9h.8v.8h-.8zM131.8 46.9h.8v.8h-.8zM129.0 52.0h.8v.8h-.8zM125.1 51.6h.8v.8h-.8zM138.8 46.8h.8v.8h-.8zM130.2 48.4h.8v.8h-.8zM137.2 50.3h.8v.8h-.8zM134.0 46.2h.8v.8h-.8zM129.4 49.0h.8v.8h-.8zM120.6 54.8h.8v.8h-.8zM134.0 42.0h.8v.8h-.8zM133.2 48.5h.8v.8h-.8zM131.7 50.5h.8v.8h-.8zM122.0 48.2h.8v.8h-.8zM137.0 46.7h.8v.8h-.8zM124.4 43.6h.8v.8h-.8zM123.4 50.3h.8v.8h-.8zM138.0 50.7h.8v.8h-.8zM130.7 57.9h.8v.8h-.8zM126.9 46.3h.8v.8h-.8zM132.1 51.2h.8v.8h-.8zM124.4 44.3h.8v.8h-.8zM131.0 50.0h.8v.8h-.8zM123.0 48.2h.8v.8h-.8zM126.8 50.8h.8v.8h-.8zM128.9 48.7h.8v.8h-.8zM127.7 53.2h.8v.8h-.8zM136.5 47.5h.8v.8h-.8zM133.7 46.0h.8v.8h-.8zM129.9 52.0h.8v.8h-.8zM137.1 47.5h.8v.8h-.8zM129.1 49.8h.8v.8h-.8zM122.0 49.1h.8v.8h-.8zM126.1 50.5h.8v.8h-.8zM123.9 41.1h.8v.8h-.8zM129.7 50.0h.8v.8h-.8z" fill="#000" fill-opacity="0.4"/><path d="M123.2 54.9h.8v.8h-.8zM125.1 46.7h.8v.8h-.8zM130.3 41.4h.8v.8h-.8zM122.3 49.9h.8v.8h-.8zM132.9 49.1h.8v.8h-.8zM129.2 46.4h.8v.8h-.8zM129.1 59.1h.8v.8h-.8zM122.2 63.0h.8v.8h-.8zM122.5 50.1h.8v.8h-.8zM128.2 55.6h.8v.8h-.8zM118.3 38.4h.8v.8h-.8zM131.2 54.4h.8v.8h-.8zM131.4 64.5h.8v.8h-.8zM128.4 51.4h.8v.8h-.8zM133.5 52.0h.8v.8h-.8zM138.6 43.2h.8v.8h-.8zM124.4 31.1h.8v.8h-.8zM132.7 48.0h.8v.8h-.8zM133.5 61.8h.8v.8h-.8zM127.0 48.6h.8v.8h-.8zM123.5 45.4h.8v.8h-.8zM122.6 53.5h.8v.8h-.8zM127.3 50.4h.8v.8h-.8zM125.8 55.0h.8v.8h-.8zM130.5 49.2h.8v.8h-.8zM131.7 49.2h.8v.8h-.8zM118.9 58.0h.8v.8h-.8zM130.3 44.7h.8v.8h-.8zM134.6 51.9h.8v.8h-.8zM116.0 58.9h.8v.8h-.8zM129.3 54.9h.8v.8h-.8zM128.4 49.2h.8v.8h-.8zM116.2 55.3h.8v.8h-.8zM127.2 48.4h.8v.8h-.8zM129.5 50.4h.8v.8h-.8zM131.7 48.0h.8v.8h-.8zM126.7 38.2h.8v.8h-.8zM124.0 53.7h.8v.8h-.8zM136.4 48.0h.8v.8h-.8zM126.2 58.7h.8v.8h-.8zM124.7 54.0h.8v.8h-.8zM138.7 50.2h.8v.8h-.8zM135.6 46.1h.8v.8h-.8zM128.5 49.6h.8v.8h-.8zM127.8 56.2h.8v.8h-.8zM143.7 46.3h.8v.8h-.8zM123.0 52.7h.8v.8h-.8zM119.6 52.7h.8v.8h-.8zM131.0 48.5h.8v.8h-.8zM130.7 41.5h.8v.8h-.8zM132.3 41.5h.8v.8h-.8zM122.1 46.9h.8v.8h-.8zM124.2 54.7h.8v.8h-.8zM127.6 47.8h.8v.8h-.8zM130.8 58.7h.8v.8h-.8zM127.0 52.0h.8v.8h-.8zM135.7 51.5h.8v.8h-.8zM118.0 63.7h.8v.8h-.8zM142.5 39.1h.8v.8h-.8zM126.7 52.3h.8v.8h-.8zM133.8 53.7h.8v.8h-.8zM125.1 44.2h.8v.8h-.8zM127.7 55.7h.8v.8h-.8zM119.4 44.4h.8v.8h-.8zM126.8 39.3h.8v.8h-.8zM125.2 47.6h.8v.8h-.8zM130.2 46.1h.8v.8h-.8zM120.8 47.8h.8v.8h-.8zM126.7 46.3h.8v.8h-.8zM127.1 54.1h.8v.8h-.8zM135.3 59.4h.8v.8h-.8zM121.5 47.7h.8v.8h-.8zM121.9 49.8h.8v.8h-.8zM130.7 42.5h.8v.8h-.8zM130.2 49.9h.8v.8h-.8zM135.4 39.7h.8v.8h-.8zM132.7 51.2h.8v.8h-.8zM130.3 52.4h.8v.8h-.8zM136.1 48.8h.8v.8h-.8zM133.1 47.7h.8v.8h-.8zM132.1 45.5h.8v.8h-.8zM126.2 59.5h.8v.8h-.8zM130.1 49.1h.8v.8h-.8zM119.0 45.7h.8v.8h-.8zM128.4 55.2h.8v.8h-.8zM130.0 52.9h.8v.8h-.8zM126.7 57.4h.8v.8h-.8zM124.3 47.0h.8v.8h-.8zM133.2 50.3h.8v.8h-.8zM125.1 46.8h.8v.8h-.8zM125.2 53.4h.8v.8h-.8zM129.5 43.3h.8v.8h-.8zM130.0 51.0h.8v.8h-.8zM120.0 54.3h.8v.8h-.8zM125.0 48.2h.8v.8h-.8zM132.6 57.3h.8v.8h-.8zM122.2 52.4h.8v.8h-.8zM120.9 62.7h.8v.8h-.8zM123.5 56.6h.8v.8h-.8zM122.5 54.5h.8v.8h-.8zM142.5 36.0h.8v.8h-.8zM124.0 52.8h.8v.8h-.8zM126.3 46.3h.8v.8h-.8zM142.1 50.4h.8v.8h-.8zM115.5 54.7h.8v.8h-.8zM114.9 56.3h.8v.8h-.8zM123.0 50.8h.8v.8h-.8zM135.8 50.6h.8v.8h-.8zM117.3 40.7h.8v.8h-.8zM135.3 54.1h.8v.8h-.8zM121.3 54.7h.8v.8h-.8zM130.5 53.6h.8v.8h-.8zM133.3 54.0h.8v.8h-.8zM133.2 36.5h.8v.8h-.8zM128.2 52.7h.8v.8h-.8zM144.9 44.8h.8v.8h-.8zM124.7 50.2h.8v.8h-.8zM133.2 47.6h.8v.8h-.8zM135.0 45.7h.8v.8h-.8zM128.9 47.1h.8v.8h-.8zM128.1 46.2h.8v.8h-.8zM115.8 56.0h.8v.8h-.8zM129.1 46.9h.8v.8h-.8zM128.4 55.4h.8v.8h-.8zM120.2 49.4h.8v.8h-.8zM130.8 52.9h.8v.8h-.8zM124.7 38.4h.8v.8h-.8zM135.7 51.8h.8v.8h-.8zM127.1 48.5h.8v.8h-.8zM128.8 47.7h.8v.8h-.8zM119.8 45.9h.8v.8h-.8zM122.8 46.6h.8v.8h-.8zM118.9 53.5h.8v.8h-.8zM117.8 53.6h.8v.8h-.8zM119.9 51.9h.8v.8h-.8zM136.6 51.1h.8v.8h-.8zM121.9 50.3h.8v.8h-.8zM128.0 40.5h.8v.8h-.8zM122.7 50.9h.8v.8h-.8zM123.7 50.4h.8v.8h-.8zM132.1 54.2h.8v.8h-.8zM133.3 53.2h.8v.8h-.8zM125.0 49.9h.8v.8h-.8zM125.1 48.3h.8v.8h-.8zM125.7 40.5h.8v.8h-.8zM124.7 49.9h.8v.8h-.8zM120.2 49.9h.8v.8h-.8zM130.6 49.1h.8v.8h-.8zM141.5 35.7h.8v.8h-.8zM125.6 40.0h.8v.8h-.8zM133.9 64.6h.8v.8h-.8zM130.6 48.3h.8v.8h-.8zM130.9 37.7h.8v.8h-.8zM133.0 52.0h.8v.8h-.8zM127.2 46.8h.8v.8h-.8zM131.5 47.3h.8v.8h-.8zM128.6 47.2h.8v.8h-.8zM128.4 54.1h.8v.8h-.8zM120.9 49.8h.8v.8h-.8zM131.3 50.8h.8v.8h-.8zM135.7 61.0h.8v.8h-.8zM120.6 39.4h.8v.8h-.8zM133.0 58.4h.8v.8h-.8zM133.5 54.5h.8v.8h-.8zM122.7 46.1h.8v.8h-.8zM133.2 45.0h.8v.8h-.8zM144.4 60.6h.8v.8h-.8zM122.2 46.0h.8v.8h-.8zM128.6 45.9h.8v.8h-.8zM136.2 49.6h.8v.8h-.8zM119.4 57.2h.8v.8h-.8zM122.9 51.2h.8v.8h-.8zM126.9 48.3h.8v.8h-.8zM129.3 46.2h.8v.8h-.8zM118.1 45.8h.8v.8h-.8zM126.8 50.3h.8v.8h-.8zM130.9 50.7h.8v.8h-.8zM121.4 46.1h.8v.8h-.8zM130.4 52.9h.8v.8h-.8zM126.2 49.0h.8v.8h-.8zM133.6 50.1h.8v.8h-.8zM132.2 53.2h.8v.8h-.8zM128.5 57.2h.8v.8h-.8zM123.0 48.0h.8v.8h-.8zM121.3 45.6h.8v.8h-.8zM137.9 59.7h.8v.8h-.8zM127.2 53.1h.8v.8h-.8zM135.2 54.4h.8v.8h-.8zM135.4 43.1h.8v.8h-.8zM122.5 52.5h.8v.8h-.8zM137.0 50.6h.8v.8h-.8zM121.0 48.1h.8v.8h-.8z" fill="#000" fill-opacity="0.3"/></g><rect x="114.7" y="20.3" width="46.999999999999986" height="50.2" fill="none" stroke="#999" stroke-width="0.9"/><line x1="137.6" y1="20.3" x2="137.6" y2="70.5" stroke="#8a8a8a" stroke-width="0.9"/><line x1="114.7" y1="57.9" x2="161.7" y2="57.9" stroke="#999" stroke-width="0.9"/><text x="115.60" y="26.20" font-size="5.8" text-anchor="start" font-weight="normal" fill="#3a3a3a" stroke="#3a3a3a" stroke-width="0.14" >97.6</text><text x="160.80" y="26.20" font-size="5.8" text-anchor="end" font-weight="normal" fill="#3a3a3a" stroke="#3a3a3a" stroke-width="0.14" >0.37</text><text x="115.90" y="69.80" font-size="5.8" text-anchor="start" font-weight="normal" fill="#3a3a3a" stroke="#3a3a3a" stroke-width="0.14" >2</text><text x="160.80" y="69.80" font-size="5.8" text-anchor="end" font-weight="normal" fill="#3a3a3a" stroke="#3a3a3a" stroke-width="0.14" >5.77e-3</text><text x="113.2" y="25.3" font-size="2.8" text-anchor="end" fill="#999">10</text><text x="113.2" y="38.1" font-size="2.8" text-anchor="end" fill="#999">10</text><text x="113.2" y="51.0" font-size="2.8" text-anchor="end" fill="#999">10</text><text x="113.2" y="63.8" font-size="2.8" text-anchor="end" fill="#999">10</text><text x="122.7" y="74.3" font-size="2.8" text-anchor="middle" fill="#999">10</text><text x="133.5" y="74.3" font-size="2.8" text-anchor="middle" fill="#999">10</text><text x="144.4" y="74.3" font-size="2.8" text-anchor="middle" fill="#999">10</text><text x="155.2" y="74.3" font-size="2.8" text-anchor="middle" fill="#999">10</text></g><g><clipPath id="c134"><rect x="170.2" y="20.1" width="48.80000000000001" height="50.9"/></clipPath><g clip-path="url(#c134)"><g filter="url(#fb)"><ellipse cx="186" cy="47.5" rx="16" ry="8" fill="#000" fill-opacity="0.2"/><ellipse cx="193" cy="47" rx="10.5" ry="6" fill="#000" fill-opacity="0.55"/><ellipse cx="197.5" cy="46.5" rx="5.5" ry="4.5" fill="#000" fill-opacity="0.55"/><ellipse cx="180" cy="48.5" rx="8" ry="5" fill="#000" fill-opacity="0.3"/></g><path d="M190.7 44.2h.8v.8h-.8zM201.5 45.1h.8v.8h-.8zM194.1 55.7h.8v.8h-.8zM199.9 48.8h.8v.8h-.8zM190.9 49.1h.8v.8h-.8zM202.1 49.9h.8v.8h-.8zM200.3 47.9h.8v.8h-.8zM196.6 46.7h.8v.8h-.8zM196.1 52.4h.8v.8h-.8zM186.8 47.3h.8v.8h-.8zM195.2 45.3h.8v.8h-.8zM192.5 50.5h.8v.8h-.8zM204.0 49.9h.8v.8h-.8zM195.6 41.6h.8v.8h-.8zM203.6 47.8h.8v.8h-.8zM193.8 43.3h.8v.8h-.8zM193.7 43.3h.8v.8h-.8zM194.4 49.3h.8v.8h-.8zM194.2 48.6h.8v.8h-.8zM189.7 52.9h.8v.8h-.8zM190.7 40.6h.8v.8h-.8zM193.1 44.6h.8v.8h-.8zM189.0 46.2h.8v.8h-.8zM195.5 43.0h.8v.8h-.8zM193.3 52.9h.8v.8h-.8zM197.4 46.9h.8v.8h-.8zM194.6 47.0h.8v.8h-.8zM193.8 50.3h.8v.8h-.8zM193.5 38.4h.8v.8h-.8zM193.9 44.1h.8v.8h-.8zM197.3 45.2h.8v.8h-.8zM194.7 55.8h.8v.8h-.8zM188.8 43.2h.8v.8h-.8zM186.9 38.4h.8v.8h-.8zM184.6 48.9h.8v.8h-.8zM190.8 40.4h.8v.8h-.8zM186.6 49.8h.8v.8h-.8zM190.1 46.1h.8v.8h-.8zM195.7 52.7h.8v.8h-.8zM203.7 51.4h.8v.8h-.8zM194.7 48.2h.8v.8h-.8zM203.0 52.9h.8v.8h-.8zM192.4 49.2h.8v.8h-.8zM195.4 47.7h.8v.8h-.8zM191.5 42.5h.8v.8h-.8zM191.3 41.6h.8v.8h-.8zM200.1 49.5h.8v.8h-.8zM188.0 52.8h.8v.8h-.8zM198.5 40.2h.8v.8h-.8zM203.2 50.6h.8v.8h-.8zM204.3 42.8h.8v.8h-.8zM196.7 49.1h.8v.8h-.8zM195.0 48.2h.8v.8h-.8zM199.3 41.8h.8v.8h-.8zM187.8 42.2h.8v.8h-.8zM191.2 45.2h.8v.8h-.8zM195.8 48.5h.8v.8h-.8zM194.2 44.9h.8v.8h-.8zM191.8 51.1h.8v.8h-.8zM197.8 47.9h.8v.8h-.8zM192.4 53.4h.8v.8h-.8zM191.0 50.0h.8v.8h-.8zM199.8 46.5h.8v.8h-.8zM198.1 43.3h.8v.8h-.8zM199.1 48.3h.8v.8h-.8zM186.1 50.0h.8v.8h-.8zM189.5 52.4h.8v.8h-.8zM190.6 46.9h.8v.8h-.8zM195.4 46.2h.8v.8h-.8zM195.3 45.4h.8v.8h-.8zM197.4 47.5h.8v.8h-.8zM195.1 37.0h.8v.8h-.8zM199.8 47.6h.8v.8h-.8zM185.1 47.9h.8v.8h-.8zM196.3 51.6h.8v.8h-.8zM188.6 53.4h.8v.8h-.8zM193.2 56.6h.8v.8h-.8zM193.3 50.1h.8v.8h-.8zM192.2 43.3h.8v.8h-.8zM199.5 50.9h.8v.8h-.8zM201.7 50.8h.8v.8h-.8zM191.1 41.2h.8v.8h-.8zM190.7 44.9h.8v.8h-.8zM189.9 49.7h.8v.8h-.8zM195.6 46.5h.8v.8h-.8zM194.9 46.9h.8v.8h-.8zM195.1 50.4h.8v.8h-.8zM198.8 44.9h.8v.8h-.8zM186.5 52.9h.8v.8h-.8zM194.6 51.7h.8v.8h-.8zM185.8 46.2h.8v.8h-.8zM194.1 42.0h.8v.8h-.8zM191.4 50.3h.8v.8h-.8zM199.4 53.6h.8v.8h-.8zM189.7 42.2h.8v.8h-.8zM196.6 51.1h.8v.8h-.8zM195.0 42.6h.8v.8h-.8zM197.9 50.5h.8v.8h-.8zM196.8 45.6h.8v.8h-.8zM195.5 50.5h.8v.8h-.8zM191.2 40.5h.8v.8h-.8zM195.6 49.3h.8v.8h-.8zM194.1 50.9h.8v.8h-.8zM191.1 47.2h.8v.8h-.8zM192.5 49.7h.8v.8h-.8zM202.0 46.5h.8v.8h-.8zM204.3 53.3h.8v.8h-.8zM198.0 49.7h.8v.8h-.8zM202.9 46.8h.8v.8h-.8zM193.4 43.5h.8v.8h-.8zM196.4 52.6h.8v.8h-.8zM196.7 49.1h.8v.8h-.8zM193.0 48.1h.8v.8h-.8zM186.9 51.5h.8v.8h-.8zM192.0 43.3h.8v.8h-.8zM190.2 44.4h.8v.8h-.8zM198.3 51.5h.8v.8h-.8zM187.2 51.0h.8v.8h-.8zM198.4 45.3h.8v.8h-.8zM186.6 44.7h.8v.8h-.8zM190.8 48.8h.8v.8h-.8zM192.2 39.8h.8v.8h-.8zM195.2 41.7h.8v.8h-.8zM198.5 42.9h.8v.8h-.8zM190.5 44.3h.8v.8h-.8zM191.3 52.4h.8v.8h-.8zM198.3 49.8h.8v.8h-.8zM195.6 41.6h.8v.8h-.8zM191.4 45.4h.8v.8h-.8zM189.1 49.4h.8v.8h-.8zM190.3 44.8h.8v.8h-.8zM188.8 39.7h.8v.8h-.8zM197.0 52.6h.8v.8h-.8zM194.9 43.8h.8v.8h-.8zM180.5 48.2h.8v.8h-.8zM200.1 48.6h.8v.8h-.8zM198.6 53.1h.8v.8h-.8zM199.6 45.8h.8v.8h-.8zM199.3 50.4h.8v.8h-.8zM186.3 46.0h.8v.8h-.8zM186.9 47.1h.8v.8h-.8zM196.9 43.4h.8v.8h-.8zM183.7 52.4h.8v.8h-.8zM195.9 53.1h.8v.8h-.8zM187.4 51.5h.8v.8h-.8zM204.4 55.1h.8v.8h-.8zM192.9 48.5h.8v.8h-.8zM193.2 51.3h.8v.8h-.8zM199.2 47.8h.8v.8h-.8zM187.2 50.3h.8v.8h-.8zM191.7 49.9h.8v.8h-.8zM195.3 53.7h.8v.8h-.8zM199.7 45.8h.8v.8h-.8zM195.7 54.2h.8v.8h-.8zM191.3 49.1h.8v.8h-.8zM200.0 52.3h.8v.8h-.8zM196.6 42.5h.8v.8h-.8zM187.7 48.4h.8v.8h-.8zM195.9 57.2h.8v.8h-.8zM189.7 51.8h.8v.8h-.8zM197.9 41.1h.8v.8h-.8zM189.9 48.1h.8v.8h-.8zM191.5 46.9h.8v.8h-.8zM196.4 44.4h.8v.8h-.8zM196.3 45.1h.8v.8h-.8zM191.3 49.5h.8v.8h-.8zM191.1 48.6h.8v.8h-.8zM202.0 47.6h.8v.8h-.8zM193.3 50.3h.8v.8h-.8zM192.2 51.6h.8v.8h-.8zM187.6 49.9h.8v.8h-.8zM191.4 44.5h.8v.8h-.8zM202.8 44.3h.8v.8h-.8zM202.8 50.0h.8v.8h-.8zM201.3 43.8h.8v.8h-.8zM200.0 53.0h.8v.8h-.8zM193.4 47.0h.8v.8h-.8zM206.3 48.2h.8v.8h-.8zM191.9 45.1h.8v.8h-.8zM196.2 48.8h.8v.8h-.8zM194.9 54.0h.8v.8h-.8zM192.4 49.3h.8v.8h-.8zM201.3 43.7h.8v.8h-.8zM199.2 54.5h.8v.8h-.8zM187.2 43.3h.8v.8h-.8zM188.8 40.5h.8v.8h-.8zM196.3 40.4h.8v.8h-.8zM196.5 53.0h.8v.8h-.8zM185.9 46.3h.8v.8h-.8zM184.4 50.5h.8v.8h-.8zM190.3 46.5h.8v.8h-.8zM194.3 49.6h.8v.8h-.8zM192.3 47.6h.8v.8h-.8zM191.3 47.9h.8v.8h-.8zM188.1 47.7h.8v.8h-.8zM184.3 45.6h.8v.8h-.8zM203.6 47.8h.8v.8h-.8zM187.7 48.5h.8v.8h-.8zM189.1 41.2h.8v.8h-.8zM190.3 50.3h.8v.8h-.8zM195.9 47.1h.8v.8h-.8zM189.4 43.4h.8v.8h-.8zM200.7 48.4h.8v.8h-.8zM189.2 39.5h.8v.8h-.8zM187.2 56.9h.8v.8h-.8zM188.3 47.2h.8v.8h-.8zM195.1 46.9h.8v.8h-.8zM192.6 42.3h.8v.8h-.8zM188.7 53.9h.8v.8h-.8zM190.2 50.7h.8v.8h-.8zM185.5 46.5h.8v.8h-.8zM195.3 51.4h.8v.8h-.8zM188.4 49.8h.8v.8h-.8zM195.9 44.7h.8v.8h-.8zM196.4 44.1h.8v.8h-.8zM190.0 47.4h.8v.8h-.8zM180.4 47.1h.8v.8h-.8zM189.0 41.9h.8v.8h-.8zM191.9 50.4h.8v.8h-.8zM192.0 52.3h.8v.8h-.8zM188.2 42.5h.8v.8h-.8zM201.8 49.0h.8v.8h-.8zM198.7 44.4h.8v.8h-.8zM198.0 48.5h.8v.8h-.8zM197.2 47.6h.8v.8h-.8zM200.0 45.0h.8v.8h-.8zM189.2 41.9h.8v.8h-.8zM199.8 44.7h.8v.8h-.8zM188.8 43.9h.8v.8h-.8zM191.8 42.7h.8v.8h-.8zM192.5 45.1h.8v.8h-.8zM191.2 43.9h.8v.8h-.8zM194.2 45.7h.8v.8h-.8zM194.6 48.4h.8v.8h-.8zM195.7 39.2h.8v.8h-.8zM191.3 44.5h.8v.8h-.8zM197.9 41.5h.8v.8h-.8zM190.4 46.4h.8v.8h-.8zM192.3 51.3h.8v.8h-.8zM191.8 51.2h.8v.8h-.8zM186.7 40.6h.8v.8h-.8zM200.1 49.2h.8v.8h-.8zM196.4 48.0h.8v.8h-.8zM196.4 42.9h.8v.8h-.8zM198.7 45.5h.8v.8h-.8zM198.9 47.8h.8v.8h-.8zM184.1 42.6h.8v.8h-.8zM199.6 47.0h.8v.8h-.8zM192.0 48.4h.8v.8h-.8zM191.9 45.4h.8v.8h-.8zM194.5 48.0h.8v.8h-.8zM201.6 47.7h.8v.8h-.8zM203.4 54.4h.8v.8h-.8zM202.6 51.5h.8v.8h-.8zM194.7 48.0h.8v.8h-.8zM193.3 44.7h.8v.8h-.8zM193.7 45.1h.8v.8h-.8zM202.2 49.5h.8v.8h-.8zM191.8 40.2h.8v.8h-.8zM193.7 45.9h.8v.8h-.8zM188.6 43.2h.8v.8h-.8zM182.7 49.7h.8v.8h-.8zM193.7 57.3h.8v.8h-.8zM193.8 46.9h.8v.8h-.8zM201.2 48.0h.8v.8h-.8zM194.8 46.1h.8v.8h-.8zM191.0 53.2h.8v.8h-.8zM199.0 54.0h.8v.8h-.8zM192.3 47.6h.8v.8h-.8zM189.6 51.2h.8v.8h-.8zM187.0 49.6h.8v.8h-.8zM199.5 52.9h.8v.8h-.8zM189.3 51.6h.8v.8h-.8zM190.4 44.6h.8v.8h-.8zM187.4 51.9h.8v.8h-.8zM202.2 45.2h.8v.8h-.8zM190.2 46.2h.8v.8h-.8zM206.5 51.3h.8v.8h-.8zM191.3 40.7h.8v.8h-.8zM190.6 52.0h.8v.8h-.8zM203.3 46.5h.8v.8h-.8zM190.5 45.6h.8v.8h-.8zM184.6 51.0h.8v.8h-.8zM188.6 51.5h.8v.8h-.8zM185.5 42.7h.8v.8h-.8zM195.4 44.6h.8v.8h-.8zM197.9 47.5h.8v.8h-.8zM188.1 49.9h.8v.8h-.8zM198.2 40.2h.8v.8h-.8zM203.1 49.4h.8v.8h-.8zM197.8 40.4h.8v.8h-.8zM190.4 46.2h.8v.8h-.8zM199.4 42.0h.8v.8h-.8zM189.6 39.8h.8v.8h-.8zM192.8 48.8h.8v.8h-.8zM185.6 45.3h.8v.8h-.8zM196.6 53.5h.8v.8h-.8zM197.3 46.3h.8v.8h-.8zM188.1 43.9h.8v.8h-.8zM190.7 48.1h.8v.8h-.8zM193.8 53.8h.8v.8h-.8zM195.4 43.4h.8v.8h-.8zM201.7 51.1h.8v.8h-.8zM194.5 44.8h.8v.8h-.8zM184.6 43.6h.8v.8h-.8zM198.6 44.4h.8v.8h-.8zM187.4 48.2h.8v.8h-.8zM195.2 49.8h.8v.8h-.8zM197.3 52.9h.8v.8h-.8zM189.8 51.2h.8v.8h-.8zM189.1 50.1h.8v.8h-.8zM194.9 48.4h.8v.8h-.8zM198.8 47.4h.8v.8h-.8zM199.6 50.8h.8v.8h-.8zM194.7 45.3h.8v.8h-.8zM190.2 45.5h.8v.8h-.8zM193.0 47.4h.8v.8h-.8zM208.9 49.9h.8v.8h-.8zM197.8 44.2h.8v.8h-.8zM190.4 46.3h.8v.8h-.8zM195.0 43.6h.8v.8h-.8zM202.1 45.4h.8v.8h-.8zM199.4 38.6h.8v.8h-.8zM194.0 48.6h.8v.8h-.8zM195.0 49.8h.8v.8h-.8zM195.4 48.1h.8v.8h-.8zM184.5 44.8h.8v.8h-.8zM182.3 49.9h.8v.8h-.8zM195.5 46.8h.8v.8h-.8zM189.9 45.3h.8v.8h-.8zM203.2 54.1h.8v.8h-.8zM193.7 52.4h.8v.8h-.8zM186.1 40.1h.8v.8h-.8zM191.6 44.2h.8v.8h-.8zM191.2 48.2h.8v.8h-.8zM209.1 45.0h.8v.8h-.8zM194.2 48.5h.8v.8h-.8zM193.8 51.0h.8v.8h-.8zM202.9 42.8h.8v.8h-.8zM194.8 46.5h.8v.8h-.8zM195.8 41.7h.8v.8h-.8zM185.2 38.7h.8v.8h-.8zM196.6 48.2h.8v.8h-.8zM194.4 38.5h.8v.8h-.8zM192.1 44.6h.8v.8h-.8zM186.9 44.0h.8v.8h-.8zM197.5 49.6h.8v.8h-.8zM193.9 49.5h.8v.8h-.8zM191.0 47.8h.8v.8h-.8zM194.2 49.6h.8v.8h-.8zM193.7 47.0h.8v.8h-.8zM193.3 45.0h.8v.8h-.8zM205.2 49.5h.8v.8h-.8zM196.1 56.2h.8v.8h-.8zM201.0 41.6h.8v.8h-.8zM197.5 50.7h.8v.8h-.8zM203.4 52.5h.8v.8h-.8zM197.9 43.0h.8v.8h-.8zM189.6 48.5h.8v.8h-.8zM196.5 43.6h.8v.8h-.8zM192.1 46.0h.8v.8h-.8zM194.3 48.8h.8v.8h-.8zM192.6 42.8h.8v.8h-.8zM200.2 53.6h.8v.8h-.8zM193.5 51.4h.8v.8h-.8zM196.2 50.0h.8v.8h-.8zM196.4 44.6h.8v.8h-.8zM196.9 51.3h.8v.8h-.8zM189.5 55.0h.8v.8h-.8zM204.4 54.4h.8v.8h-.8zM203.9 50.3h.8v.8h-.8zM192.3 45.2h.8v.8h-.8zM189.9 47.9h.8v.8h-.8zM193.8 50.0h.8v.8h-.8zM183.9 56.3h.8v.8h-.8zM205.4 47.4h.8v.8h-.8zM197.4 49.3h.8v.8h-.8zM195.4 46.7h.8v.8h-.8zM193.4 44.4h.8v.8h-.8zM194.9 47.4h.8v.8h-.8zM195.6 44.3h.8v.8h-.8zM194.2 47.7h.8v.8h-.8zM197.0 43.5h.8v.8h-.8zM196.1 51.2h.8v.8h-.8zM197.0 46.1h.8v.8h-.8zM191.5 46.6h.8v.8h-.8zM197.6 53.4h.8v.8h-.8zM193.2 45.1h.8v.8h-.8zM195.9 48.3h.8v.8h-.8zM189.5 44.7h.8v.8h-.8zM193.5 50.1h.8v.8h-.8zM188.0 43.6h.8v.8h-.8zM196.5 42.8h.8v.8h-.8zM194.5 48.8h.8v.8h-.8zM193.4 43.6h.8v.8h-.8zM193.7 46.2h.8v.8h-.8zM195.7 44.3h.8v.8h-.8zM199.5 41.1h.8v.8h-.8zM193.1 47.5h.8v.8h-.8zM198.8 45.2h.8v.8h-.8zM196.7 45.3h.8v.8h-.8zM197.7 54.1h.8v.8h-.8zM192.0 49.2h.8v.8h-.8zM189.4 51.2h.8v.8h-.8zM200.1 47.6h.8v.8h-.8zM188.3 49.0h.8v.8h-.8zM199.7 51.6h.8v.8h-.8zM198.1 40.5h.8v.8h-.8zM190.6 52.9h.8v.8h-.8zM187.9 51.8h.8v.8h-.8zM203.4 50.4h.8v.8h-.8zM199.6 46.2h.8v.8h-.8zM187.9 47.1h.8v.8h-.8zM193.0 47.3h.8v.8h-.8zM197.5 47.0h.8v.8h-.8zM195.0 49.1h.8v.8h-.8zM194.0 54.5h.8v.8h-.8zM196.2 47.8h.8v.8h-.8zM193.0 45.1h.8v.8h-.8zM200.7 48.1h.8v.8h-.8zM188.6 45.4h.8v.8h-.8zM193.3 45.8h.8v.8h-.8zM199.4 43.1h.8v.8h-.8zM196.5 48.0h.8v.8h-.8zM188.1 47.7h.8v.8h-.8zM193.5 49.4h.8v.8h-.8zM191.7 48.7h.8v.8h-.8zM185.7 43.4h.8v.8h-.8zM197.9 51.5h.8v.8h-.8zM193.9 45.2h.8v.8h-.8zM199.4 39.6h.8v.8h-.8zM190.0 50.1h.8v.8h-.8zM197.3 43.6h.8v.8h-.8zM184.6 53.0h.8v.8h-.8zM194.8 44.1h.8v.8h-.8zM194.3 50.9h.8v.8h-.8zM181.0 51.7h.8v.8h-.8zM197.7 39.6h.8v.8h-.8zM197.9 40.7h.8v.8h-.8zM199.7 49.0h.8v.8h-.8zM205.3 45.2h.8v.8h-.8zM194.0 51.5h.8v.8h-.8zM190.8 44.8h.8v.8h-.8zM192.1 47.2h.8v.8h-.8zM188.6 49.3h.8v.8h-.8zM196.7 47.8h.8v.8h-.8zM202.5 46.3h.8v.8h-.8zM200.5 45.4h.8v.8h-.8zM197.8 40.1h.8v.8h-.8zM195.0 46.8h.8v.8h-.8zM191.5 45.2h.8v.8h-.8zM192.3 44.8h.8v.8h-.8zM183.0 45.2h.8v.8h-.8zM191.3 45.5h.8v.8h-.8zM188.7 47.0h.8v.8h-.8zM197.9 46.5h.8v.8h-.8zM191.5 52.7h.8v.8h-.8zM198.9 51.0h.8v.8h-.8zM199.8 46.3h.8v.8h-.8zM193.4 51.7h.8v.8h-.8zM191.2 47.0h.8v.8h-.8zM195.9 48.9h.8v.8h-.8zM192.6 51.2h.8v.8h-.8zM193.1 50.3h.8v.8h-.8zM199.4 50.0h.8v.8h-.8zM197.7 43.1h.8v.8h-.8zM187.4 45.1h.8v.8h-.8zM196.4 53.2h.8v.8h-.8zM187.9 48.7h.8v.8h-.8zM189.7 44.7h.8v.8h-.8zM192.6 50.1h.8v.8h-.8zM195.1 52.0h.8v.8h-.8zM189.1 50.9h.8v.8h-.8zM198.7 47.8h.8v.8h-.8zM196.4 45.4h.8v.8h-.8zM188.6 46.0h.8v.8h-.8zM190.8 58.5h.8v.8h-.8zM191.6 53.8h.8v.8h-.8zM195.0 48.7h.8v.8h-.8zM197.7 44.5h.8v.8h-.8zM198.6 48.9h.8v.8h-.8zM186.4 49.8h.8v.8h-.8zM196.8 49.2h.8v.8h-.8zM201.9 45.9h.8v.8h-.8zM196.6 50.3h.8v.8h-.8zM189.5 52.1h.8v.8h-.8zM186.7 42.6h.8v.8h-.8zM196.6 43.4h.8v.8h-.8zM193.4 41.2h.8v.8h-.8zM194.3 43.2h.8v.8h-.8zM195.7 41.7h.8v.8h-.8zM196.2 46.5h.8v.8h-.8zM194.3 47.2h.8v.8h-.8zM194.7 42.5h.8v.8h-.8zM181.2 47.6h.8v.8h-.8zM189.3 45.8h.8v.8h-.8zM196.1 40.0h.8v.8h-.8zM190.2 45.2h.8v.8h-.8zM188.7 48.7h.8v.8h-.8zM193.3 44.4h.8v.8h-.8z" fill="#000" fill-opacity="0.35"/><path d="M174.1 51.7h.8v.8h-.8zM176.0 50.8h.8v.8h-.8zM182.7 40.9h.8v.8h-.8zM173.5 48.5h.8v.8h-.8zM182.1 51.6h.8v.8h-.8zM184.8 52.6h.8v.8h-.8zM177.8 47.7h.8v.8h-.8zM184.7 46.8h.8v.8h-.8zM186.3 42.1h.8v.8h-.8zM183.9 47.8h.8v.8h-.8zM181.9 48.6h.8v.8h-.8zM173.5 46.6h.8v.8h-.8zM189.1 45.2h.8v.8h-.8zM172.8 48.0h.8v.8h-.8zM177.6 44.9h.8v.8h-.8zM174.9 52.7h.8v.8h-.8zM171.3 56.3h.8v.8h-.8zM176.7 44.1h.8v.8h-.8zM184.7 50.8h.8v.8h-.8zM173.7 51.5h.8v.8h-.8zM186.8 47.5h.8v.8h-.8zM172.2 50.6h.8v.8h-.8zM185.5 48.4h.8v.8h-.8zM182.5 51.6h.8v.8h-.8zM191.1 47.5h.8v.8h-.8zM177.1 48.3h.8v.8h-.8zM187.2 44.7h.8v.8h-.8zM187.8 37.5h.8v.8h-.8zM184.8 45.8h.8v.8h-.8zM182.8 51.3h.8v.8h-.8zM172.9 48.2h.8v.8h-.8zM181.4 50.8h.8v.8h-.8zM174.4 44.5h.8v.8h-.8zM178.8 47.6h.8v.8h-.8zM171.0 52.2h.8v.8h-.8zM176.8 54.2h.8v.8h-.8zM185.1 48.6h.8v.8h-.8zM184.4 44.1h.8v.8h-.8zM178.0 46.2h.8v.8h-.8zM172.4 48.6h.8v.8h-.8zM179.1 54.2h.8v.8h-.8zM174.5 46.6h.8v.8h-.8zM182.5 50.1h.8v.8h-.8zM180.2 46.6h.8v.8h-.8zM183.0 49.9h.8v.8h-.8zM171.8 43.8h.8v.8h-.8zM180.9 48.7h.8v.8h-.8zM180.7 45.0h.8v.8h-.8zM178.8 44.8h.8v.8h-.8zM182.3 51.3h.8v.8h-.8zM190.5 53.6h.8v.8h-.8zM175.2 46.7h.8v.8h-.8zM174.4 49.7h.8v.8h-.8zM191.9 51.3h.8v.8h-.8zM172.2 50.6h.8v.8h-.8zM180.0 49.7h.8v.8h-.8zM190.7 45.2h.8v.8h-.8zM174.9 56.4h.8v.8h-.8zM182.1 45.4h.8v.8h-.8zM180.3 52.5h.8v.8h-.8zM179.2 45.7h.8v.8h-.8zM175.6 56.1h.8v.8h-.8zM180.2 51.0h.8v.8h-.8zM177.6 50.5h.8v.8h-.8zM184.9 47.9h.8v.8h-.8zM177.3 47.8h.8v.8h-.8zM174.2 47.7h.8v.8h-.8zM178.2 49.3h.8v.8h-.8zM188.0 53.7h.8v.8h-.8zM177.3 50.9h.8v.8h-.8zM181.8 51.5h.8v.8h-.8zM180.1 49.6h.8v.8h-.8zM177.2 45.4h.8v.8h-.8zM185.2 53.7h.8v.8h-.8zM184.0 50.2h.8v.8h-.8zM181.6 46.7h.8v.8h-.8zM181.2 46.3h.8v.8h-.8zM174.2 53.6h.8v.8h-.8zM183.8 58.0h.8v.8h-.8zM175.7 48.4h.8v.8h-.8zM177.0 49.1h.8v.8h-.8zM178.7 45.5h.8v.8h-.8zM186.4 45.4h.8v.8h-.8zM177.0 50.7h.8v.8h-.8zM176.8 46.8h.8v.8h-.8zM182.1 47.0h.8v.8h-.8zM172.5 48.1h.8v.8h-.8zM178.7 55.3h.8v.8h-.8zM173.4 52.4h.8v.8h-.8zM175.3 47.1h.8v.8h-.8zM178.0 49.6h.8v.8h-.8zM185.2 55.5h.8v.8h-.8zM176.2 53.8h.8v.8h-.8zM186.0 51.8h.8v.8h-.8zM175.4 52.1h.8v.8h-.8zM179.4 49.9h.8v.8h-.8zM178.4 51.2h.8v.8h-.8zM186.7 53.0h.8v.8h-.8zM178.8 52.5h.8v.8h-.8zM188.7 44.8h.8v.8h-.8zM188.8 43.2h.8v.8h-.8zM183.3 50.9h.8v.8h-.8zM188.9 49.6h.8v.8h-.8zM177.1 45.3h.8v.8h-.8zM172.5 51.6h.8v.8h-.8zM178.6 45.6h.8v.8h-.8zM183.2 45.4h.8v.8h-.8zM177.4 46.7h.8v.8h-.8zM189.9 54.4h.8v.8h-.8zM179.1 42.2h.8v.8h-.8zM181.7 48.8h.8v.8h-.8zM182.1 50.8h.8v.8h-.8zM178.1 52.2h.8v.8h-.8zM185.0 49.3h.8v.8h-.8zM177.6 46.6h.8v.8h-.8zM184.2 44.1h.8v.8h-.8zM179.0 45.5h.8v.8h-.8zM171.6 50.9h.8v.8h-.8zM179.8 48.6h.8v.8h-.8zM185.2 42.5h.8v.8h-.8zM179.6 49.7h.8v.8h-.8zM185.0 44.2h.8v.8h-.8zM184.3 49.4h.8v.8h-.8zM188.1 53.1h.8v.8h-.8zM183.3 57.1h.8v.8h-.8zM180.0 46.8h.8v.8h-.8zM178.0 44.7h.8v.8h-.8zM179.8 41.0h.8v.8h-.8zM179.5 50.2h.8v.8h-.8zM185.9 47.1h.8v.8h-.8zM188.3 45.9h.8v.8h-.8zM179.2 41.0h.8v.8h-.8zM175.4 45.3h.8v.8h-.8zM188.8 50.6h.8v.8h-.8zM173.5 50.6h.8v.8h-.8zM182.8 47.6h.8v.8h-.8zM180.1 47.3h.8v.8h-.8zM176.8 41.6h.8v.8h-.8zM179.5 53.5h.8v.8h-.8zM188.4 47.4h.8v.8h-.8zM175.6 47.7h.8v.8h-.8zM185.3 49.9h.8v.8h-.8zM176.6 49.9h.8v.8h-.8zM178.8 50.5h.8v.8h-.8zM177.6 42.8h.8v.8h-.8zM180.3 51.5h.8v.8h-.8zM173.5 48.1h.8v.8h-.8zM185.1 47.0h.8v.8h-.8zM176.2 56.4h.8v.8h-.8zM184.9 52.5h.8v.8h-.8zM174.5 54.9h.8v.8h-.8zM170.3 46.5h.8v.8h-.8zM184.3 53.7h.8v.8h-.8zM174.6 45.9h.8v.8h-.8zM181.1 41.0h.8v.8h-.8zM183.7 50.7h.8v.8h-.8zM177.4 50.6h.8v.8h-.8zM184.5 49.7h.8v.8h-.8zM183.0 54.4h.8v.8h-.8zM177.2 49.1h.8v.8h-.8zM177.0 52.5h.8v.8h-.8zM177.6 50.3h.8v.8h-.8zM180.8 48.8h.8v.8h-.8zM190.0 48.2h.8v.8h-.8zM188.2 51.7h.8v.8h-.8zM187.7 47.9h.8v.8h-.8zM185.4 51.4h.8v.8h-.8zM176.4 49.5h.8v.8h-.8zM179.3 48.4h.8v.8h-.8zM187.6 45.7h.8v.8h-.8zM170.2 41.8h.8v.8h-.8zM177.4 46.0h.8v.8h-.8zM180.1 50.7h.8v.8h-.8zM190.2 49.7h.8v.8h-.8zM182.7 45.7h.8v.8h-.8zM183.4 53.7h.8v.8h-.8zM187.8 41.0h.8v.8h-.8zM185.2 54.6h.8v.8h-.8zM184.8 42.7h.8v.8h-.8zM178.2 50.8h.8v.8h-.8zM182.4 45.4h.8v.8h-.8zM174.9 52.2h.8v.8h-.8zM172.3 54.0h.8v.8h-.8zM180.1 49.7h.8v.8h-.8zM172.3 46.2h.8v.8h-.8zM184.0 42.8h.8v.8h-.8zM192.0 43.1h.8v.8h-.8z" fill="#000" fill-opacity="0.3"/></g><rect x="170.2" y="20.1" width="48.80000000000001" height="50.9" fill="none" stroke="#999" stroke-width="0.9"/><line x1="193.2" y1="20.1" x2="193.2" y2="71" stroke="#8a8a8a" stroke-width="0.9"/><line x1="170.2" y1="58.1" x2="219" y2="58.1" stroke="#999" stroke-width="0.9"/><text x="171.10" y="26.00" font-size="5.8" text-anchor="start" font-weight="normal" fill="#3a3a3a" stroke="#3a3a3a" stroke-width="0.14" >64.2</text><text x="218.10" y="26.00" font-size="5.8" text-anchor="end" font-weight="normal" fill="#3a3a3a" stroke="#3a3a3a" stroke-width="0.14" >34.7</text><text x="171.40" y="70.30" font-size="5.8" text-anchor="start" font-weight="normal" fill="#3a3a3a" stroke="#3a3a3a" stroke-width="0.14" >1.09</text><text x="218.10" y="70.30" font-size="5.8" text-anchor="end" font-weight="normal" fill="#3a3a3a" stroke="#3a3a3a" stroke-width="0.14" >0.52</text><text x="168.7" y="25.1" font-size="2.8" text-anchor="end" fill="#999">10</text><text x="168.7" y="38.1" font-size="2.8" text-anchor="end" fill="#999">10</text><text x="168.7" y="51.2" font-size="2.8" text-anchor="end" fill="#999">10</text><text x="168.7" y="64.2" font-size="2.8" text-anchor="end" fill="#999">10</text><text x="178.2" y="74.8" font-size="2.8" text-anchor="middle" fill="#999">10</text><text x="189.5" y="74.8" font-size="2.8" text-anchor="middle" fill="#999">10</text><text x="200.9" y="74.8" font-size="2.8" text-anchor="middle" fill="#999">10</text><text x="212.2" y="74.8" font-size="2.8" text-anchor="middle" fill="#999">10</text></g><g><clipPath id="c162"><rect x="114.7" y="84.1" width="48.499999999999986" height="49.099999999999994"/></clipPath><g clip-path="url(#c162)"><g filter="url(#fb)"><ellipse cx="125" cy="111.5" rx="11" ry="7.5" fill="#000" fill-opacity="0.2"/><ellipse cx="125.5" cy="111.4" rx="8" ry="4.8" fill="#000" fill-opacity="0.45"/><ellipse cx="125" cy="111.4" rx="4" ry="3" fill="#000" fill-opacity="0.3"/></g><path d="M119.3 111.5h.8v.8h-.8zM127.5 113.7h.8v.8h-.8zM123.4 110.7h.8v.8h-.8zM124.1 109.6h.8v.8h-.8zM126.4 111.9h.8v.8h-.8zM122.2 112.2h.8v.8h-.8zM125.1 111.2h.8v.8h-.8zM130.5 105.9h.8v.8h-.8zM126.4 108.0h.8v.8h-.8zM123.7 116.2h.8v.8h-.8zM120.0 111.1h.8v.8h-.8zM122.4 114.4h.8v.8h-.8zM120.5 106.1h.8v.8h-.8zM127.7 110.3h.8v.8h-.8zM123.7 114.8h.8v.8h-.8zM120.9 110.2h.8v.8h-.8zM125.9 112.7h.8v.8h-.8zM122.7 114.7h.8v.8h-.8zM136.0 110.1h.8v.8h-.8zM134.2 104.7h.8v.8h-.8zM132.0 110.3h.8v.8h-.8zM125.9 110.3h.8v.8h-.8zM122.1 107.4h.8v.8h-.8zM123.3 115.5h.8v.8h-.8zM130.7 110.3h.8v.8h-.8zM122.7 109.2h.8v.8h-.8zM119.4 117.1h.8v.8h-.8zM128.4 111.8h.8v.8h-.8zM122.8 108.2h.8v.8h-.8zM131.5 113.9h.8v.8h-.8zM120.6 114.5h.8v.8h-.8zM119.9 113.4h.8v.8h-.8zM120.6 110.1h.8v.8h-.8zM127.6 112.8h.8v.8h-.8zM130.1 108.7h.8v.8h-.8zM132.8 115.7h.8v.8h-.8zM125.2 112.9h.8v.8h-.8zM121.5 110.9h.8v.8h-.8zM118.9 111.7h.8v.8h-.8zM126.2 115.7h.8v.8h-.8zM129.7 114.0h.8v.8h-.8zM123.5 110.7h.8v.8h-.8zM123.6 112.1h.8v.8h-.8zM115.9 113.8h.8v.8h-.8zM117.7 109.8h.8v.8h-.8zM125.3 109.8h.8v.8h-.8zM133.2 111.1h.8v.8h-.8zM132.7 115.1h.8v.8h-.8zM122.8 112.7h.8v.8h-.8zM131.4 110.3h.8v.8h-.8zM125.6 109.6h.8v.8h-.8zM125.5 110.3h.8v.8h-.8zM125.6 114.6h.8v.8h-.8zM131.9 111.8h.8v.8h-.8zM126.2 114.1h.8v.8h-.8zM123.8 108.0h.8v.8h-.8zM130.5 108.4h.8v.8h-.8zM129.7 108.3h.8v.8h-.8zM134.0 108.1h.8v.8h-.8zM129.3 116.2h.8v.8h-.8zM120.6 116.1h.8v.8h-.8zM121.2 105.8h.8v.8h-.8zM128.7 113.6h.8v.8h-.8zM124.2 103.4h.8v.8h-.8zM124.9 110.4h.8v.8h-.8zM123.4 110.5h.8v.8h-.8zM116.6 109.6h.8v.8h-.8zM133.8 116.3h.8v.8h-.8zM123.5 109.1h.8v.8h-.8zM127.1 114.8h.8v.8h-.8zM128.7 107.7h.8v.8h-.8zM126.0 111.8h.8v.8h-.8zM132.1 115.2h.8v.8h-.8zM127.7 115.3h.8v.8h-.8zM123.3 116.3h.8v.8h-.8zM123.2 112.7h.8v.8h-.8zM129.6 108.5h.8v.8h-.8zM121.8 105.8h.8v.8h-.8zM126.0 111.2h.8v.8h-.8zM123.6 113.0h.8v.8h-.8zM115.0 111.3h.8v.8h-.8zM125.6 110.6h.8v.8h-.8zM129.0 117.0h.8v.8h-.8zM123.1 108.4h.8v.8h-.8zM122.3 111.7h.8v.8h-.8zM128.0 108.7h.8v.8h-.8zM130.0 108.2h.8v.8h-.8zM129.2 112.8h.8v.8h-.8zM127.4 118.2h.8v.8h-.8zM123.9 110.9h.8v.8h-.8zM127.5 114.1h.8v.8h-.8zM118.8 112.3h.8v.8h-.8zM121.6 113.4h.8v.8h-.8zM131.8 111.6h.8v.8h-.8zM124.7 112.0h.8v.8h-.8zM127.9 111.9h.8v.8h-.8zM123.3 109.1h.8v.8h-.8zM124.3 115.2h.8v.8h-.8zM124.7 115.7h.8v.8h-.8zM126.5 111.4h.8v.8h-.8zM117.2 109.3h.8v.8h-.8zM131.2 107.3h.8v.8h-.8zM120.4 107.9h.8v.8h-.8zM122.6 113.4h.8v.8h-.8zM128.1 105.0h.8v.8h-.8zM132.2 109.5h.8v.8h-.8zM122.4 116.7h.8v.8h-.8zM124.8 107.5h.8v.8h-.8zM122.1 109.1h.8v.8h-.8zM120.4 110.3h.8v.8h-.8zM129.4 112.5h.8v.8h-.8zM118.6 120.2h.8v.8h-.8zM120.4 111.8h.8v.8h-.8zM125.4 113.8h.8v.8h-.8zM123.6 112.8h.8v.8h-.8zM135.3 111.7h.8v.8h-.8zM120.0 112.4h.8v.8h-.8zM121.3 110.2h.8v.8h-.8zM126.1 112.5h.8v.8h-.8zM123.8 114.1h.8v.8h-.8zM124.3 107.3h.8v.8h-.8zM129.4 110.2h.8v.8h-.8zM131.0 109.3h.8v.8h-.8zM127.9 112.4h.8v.8h-.8zM119.8 115.9h.8v.8h-.8zM116.1 114.3h.8v.8h-.8zM130.4 113.0h.8v.8h-.8zM128.4 109.8h.8v.8h-.8zM125.1 112.1h.8v.8h-.8zM127.2 113.6h.8v.8h-.8zM124.2 109.2h.8v.8h-.8zM122.5 112.7h.8v.8h-.8zM117.2 107.4h.8v.8h-.8zM123.2 109.6h.8v.8h-.8zM123.9 103.0h.8v.8h-.8zM123.6 110.6h.8v.8h-.8zM128.9 105.1h.8v.8h-.8zM123.7 112.9h.8v.8h-.8zM127.5 115.2h.8v.8h-.8zM130.3 108.1h.8v.8h-.8zM128.3 110.3h.8v.8h-.8zM121.3 116.3h.8v.8h-.8zM122.2 108.7h.8v.8h-.8zM123.2 108.7h.8v.8h-.8zM130.0 112.6h.8v.8h-.8zM131.9 112.7h.8v.8h-.8zM122.2 114.7h.8v.8h-.8zM122.1 109.9h.8v.8h-.8zM124.4 111.5h.8v.8h-.8zM130.9 109.5h.8v.8h-.8zM126.9 111.3h.8v.8h-.8zM119.1 107.9h.8v.8h-.8zM124.1 112.7h.8v.8h-.8zM126.7 112.9h.8v.8h-.8zM125.4 110.0h.8v.8h-.8zM127.3 108.2h.8v.8h-.8zM118.7 110.3h.8v.8h-.8zM118.3 109.8h.8v.8h-.8zM121.6 109.6h.8v.8h-.8zM125.0 108.9h.8v.8h-.8zM123.2 106.0h.8v.8h-.8zM125.9 108.6h.8v.8h-.8zM127.1 102.4h.8v.8h-.8zM121.3 112.2h.8v.8h-.8zM125.7 111.7h.8v.8h-.8zM118.0 112.1h.8v.8h-.8zM125.9 108.3h.8v.8h-.8zM128.8 111.2h.8v.8h-.8zM125.3 110.0h.8v.8h-.8zM127.8 111.7h.8v.8h-.8zM130.7 112.8h.8v.8h-.8zM122.2 110.7h.8v.8h-.8zM129.6 110.2h.8v.8h-.8zM127.0 113.1h.8v.8h-.8zM124.3 104.0h.8v.8h-.8zM125.8 112.1h.8v.8h-.8zM125.9 109.0h.8v.8h-.8zM131.0 111.0h.8v.8h-.8zM122.2 109.1h.8v.8h-.8zM126.9 107.9h.8v.8h-.8zM120.4 117.8h.8v.8h-.8zM131.5 114.8h.8v.8h-.8zM131.8 113.3h.8v.8h-.8zM117.1 115.2h.8v.8h-.8zM131.2 113.0h.8v.8h-.8zM115.7 115.4h.8v.8h-.8zM131.8 109.8h.8v.8h-.8zM125.8 113.9h.8v.8h-.8zM124.8 114.9h.8v.8h-.8zM125.6 113.6h.8v.8h-.8zM125.6 106.7h.8v.8h-.8zM120.4 121.5h.8v.8h-.8zM126.6 115.6h.8v.8h-.8zM130.7 116.9h.8v.8h-.8zM127.9 109.5h.8v.8h-.8zM125.3 105.3h.8v.8h-.8zM124.3 114.3h.8v.8h-.8zM114.7 112.0h.8v.8h-.8zM129.2 115.6h.8v.8h-.8zM120.7 109.3h.8v.8h-.8zM116.1 108.1h.8v.8h-.8zM127.8 118.0h.8v.8h-.8zM119.6 115.8h.8v.8h-.8zM127.3 109.8h.8v.8h-.8zM135.8 103.3h.8v.8h-.8zM124.9 112.1h.8v.8h-.8zM135.5 117.2h.8v.8h-.8zM136.2 111.8h.8v.8h-.8zM130.0 115.8h.8v.8h-.8zM127.7 112.6h.8v.8h-.8zM124.3 110.1h.8v.8h-.8zM119.2 117.7h.8v.8h-.8zM123.0 104.7h.8v.8h-.8zM126.5 111.3h.8v.8h-.8zM126.1 117.2h.8v.8h-.8zM124.7 110.5h.8v.8h-.8zM121.6 111.3h.8v.8h-.8zM123.1 112.1h.8v.8h-.8zM140.4 112.7h.8v.8h-.8zM121.0 117.6h.8v.8h-.8zM129.4 114.0h.8v.8h-.8zM128.7 114.0h.8v.8h-.8zM128.5 115.9h.8v.8h-.8zM130.1 115.7h.8v.8h-.8zM122.8 111.4h.8v.8h-.8zM121.7 114.5h.8v.8h-.8zM129.2 109.9h.8v.8h-.8zM128.0 119.8h.8v.8h-.8zM131.2 107.8h.8v.8h-.8zM124.8 113.4h.8v.8h-.8zM125.0 112.6h.8v.8h-.8zM130.9 112.5h.8v.8h-.8zM119.9 113.7h.8v.8h-.8zM124.7 111.8h.8v.8h-.8zM122.4 107.0h.8v.8h-.8zM119.1 110.3h.8v.8h-.8zM120.0 102.7h.8v.8h-.8zM130.8 107.7h.8v.8h-.8zM121.7 113.1h.8v.8h-.8zM121.5 113.5h.8v.8h-.8zM122.9 112.4h.8v.8h-.8zM125.7 111.4h.8v.8h-.8zM116.3 106.7h.8v.8h-.8zM125.0 115.9h.8v.8h-.8zM122.5 113.1h.8v.8h-.8zM126.0 113.0h.8v.8h-.8zM130.0 106.6h.8v.8h-.8zM126.5 110.8h.8v.8h-.8zM123.7 108.7h.8v.8h-.8zM121.4 108.1h.8v.8h-.8zM119.9 119.5h.8v.8h-.8zM133.5 111.4h.8v.8h-.8zM128.8 108.3h.8v.8h-.8zM125.9 116.0h.8v.8h-.8zM125.0 108.2h.8v.8h-.8zM124.0 108.2h.8v.8h-.8zM118.4 110.7h.8v.8h-.8zM123.3 108.8h.8v.8h-.8zM120.9 108.4h.8v.8h-.8zM126.4 115.9h.8v.8h-.8zM124.2 118.6h.8v.8h-.8zM117.3 112.3h.8v.8h-.8zM119.6 110.9h.8v.8h-.8zM125.7 113.2h.8v.8h-.8zM130.7 109.6h.8v.8h-.8zM119.1 110.8h.8v.8h-.8zM126.6 109.2h.8v.8h-.8zM129.6 116.8h.8v.8h-.8zM118.3 112.6h.8v.8h-.8zM130.2 105.2h.8v.8h-.8zM126.2 110.7h.8v.8h-.8zM118.3 115.6h.8v.8h-.8zM126.3 109.9h.8v.8h-.8zM127.4 113.5h.8v.8h-.8zM128.9 113.3h.8v.8h-.8zM127.2 107.6h.8v.8h-.8zM123.1 111.8h.8v.8h-.8zM123.4 108.0h.8v.8h-.8zM116.3 112.2h.8v.8h-.8zM125.4 109.5h.8v.8h-.8zM123.2 108.5h.8v.8h-.8zM121.5 111.1h.8v.8h-.8zM122.1 113.6h.8v.8h-.8zM124.5 111.8h.8v.8h-.8zM127.2 115.5h.8v.8h-.8zM128.1 112.1h.8v.8h-.8zM124.4 108.8h.8v.8h-.8zM123.5 113.6h.8v.8h-.8zM126.3 110.2h.8v.8h-.8zM118.7 106.5h.8v.8h-.8zM126.8 114.7h.8v.8h-.8zM127.0 107.0h.8v.8h-.8zM124.2 112.1h.8v.8h-.8zM120.7 112.5h.8v.8h-.8zM124.2 108.7h.8v.8h-.8zM119.1 114.0h.8v.8h-.8zM126.9 108.5h.8v.8h-.8zM120.3 114.3h.8v.8h-.8zM128.1 110.4h.8v.8h-.8zM133.0 110.5h.8v.8h-.8zM120.1 114.9h.8v.8h-.8zM124.3 112.5h.8v.8h-.8zM125.4 108.2h.8v.8h-.8zM119.4 110.8h.8v.8h-.8zM132.0 108.2h.8v.8h-.8zM131.8 112.1h.8v.8h-.8zM119.8 112.3h.8v.8h-.8zM128.0 108.5h.8v.8h-.8zM114.8 112.5h.8v.8h-.8zM119.8 112.8h.8v.8h-.8zM115.9 110.9h.8v.8h-.8zM121.3 106.6h.8v.8h-.8zM124.0 112.0h.8v.8h-.8zM122.5 107.6h.8v.8h-.8zM126.2 105.8h.8v.8h-.8zM127.8 113.0h.8v.8h-.8zM133.4 114.2h.8v.8h-.8zM126.9 112.2h.8v.8h-.8zM125.3 107.1h.8v.8h-.8zM132.3 113.1h.8v.8h-.8zM123.8 107.7h.8v.8h-.8zM132.4 113.1h.8v.8h-.8zM119.4 113.6h.8v.8h-.8zM134.4 111.3h.8v.8h-.8zM127.1 110.1h.8v.8h-.8zM122.1 114.8h.8v.8h-.8zM140.2 111.8h.8v.8h-.8zM124.6 113.9h.8v.8h-.8zM123.7 113.7h.8v.8h-.8zM129.2 108.1h.8v.8h-.8zM120.0 111.2h.8v.8h-.8zM129.2 112.3h.8v.8h-.8zM131.2 107.0h.8v.8h-.8zM127.6 109.4h.8v.8h-.8zM125.7 112.4h.8v.8h-.8zM120.5 110.7h.8v.8h-.8zM119.6 112.3h.8v.8h-.8zM121.1 109.8h.8v.8h-.8zM126.3 109.3h.8v.8h-.8zM130.8 109.4h.8v.8h-.8zM129.3 112.3h.8v.8h-.8zM120.2 110.7h.8v.8h-.8z" fill="#000" fill-opacity="0.35"/><path d="M119.9 110.2h.8v.8h-.8zM124.0 120.8h.8v.8h-.8zM123.0 119.6h.8v.8h-.8zM129.3 105.7h.8v.8h-.8zM133.5 113.9h.8v.8h-.8zM124.5 110.8h.8v.8h-.8zM127.9 110.5h.8v.8h-.8zM122.1 110.2h.8v.8h-.8zM134.5 109.0h.8v.8h-.8zM128.8 106.4h.8v.8h-.8zM120.8 105.3h.8v.8h-.8zM124.6 115.3h.8v.8h-.8zM128.2 109.6h.8v.8h-.8zM130.4 110.3h.8v.8h-.8zM128.7 113.3h.8v.8h-.8zM129.9 100.0h.8v.8h-.8zM116.5 115.7h.8v.8h-.8zM125.2 122.9h.8v.8h-.8zM124.3 109.3h.8v.8h-.8zM136.8 114.7h.8v.8h-.8zM139.8 114.5h.8v.8h-.8zM124.5 115.5h.8v.8h-.8zM120.3 109.8h.8v.8h-.8zM122.0 110.9h.8v.8h-.8zM131.7 109.7h.8v.8h-.8zM128.3 109.6h.8v.8h-.8zM132.4 98.7h.8v.8h-.8zM124.5 112.8h.8v.8h-.8zM118.2 116.9h.8v.8h-.8zM127.6 118.2h.8v.8h-.8zM133.0 115.1h.8v.8h-.8zM124.9 106.7h.8v.8h-.8zM124.4 109.8h.8v.8h-.8zM127.8 109.8h.8v.8h-.8zM148.2 104.3h.8v.8h-.8zM134.5 109.7h.8v.8h-.8zM124.2 116.5h.8v.8h-.8zM126.0 106.1h.8v.8h-.8zM129.0 111.1h.8v.8h-.8zM118.4 108.4h.8v.8h-.8zM129.5 113.4h.8v.8h-.8zM123.9 122.5h.8v.8h-.8zM129.0 109.0h.8v.8h-.8zM127.7 111.4h.8v.8h-.8zM115.9 122.0h.8v.8h-.8zM124.7 110.7h.8v.8h-.8zM121.9 116.7h.8v.8h-.8zM126.2 120.2h.8v.8h-.8zM131.7 119.9h.8v.8h-.8zM125.2 113.8h.8v.8h-.8zM122.9 111.2h.8v.8h-.8zM119.1 108.9h.8v.8h-.8zM134.8 113.3h.8v.8h-.8zM134.9 116.1h.8v.8h-.8zM132.7 116.8h.8v.8h-.8zM121.6 115.9h.8v.8h-.8zM123.7 109.4h.8v.8h-.8zM134.6 122.4h.8v.8h-.8zM118.9 120.4h.8v.8h-.8zM132.0 107.9h.8v.8h-.8zM128.0 113.8h.8v.8h-.8zM128.7 110.3h.8v.8h-.8zM116.7 112.2h.8v.8h-.8zM132.2 115.8h.8v.8h-.8zM130.8 117.3h.8v.8h-.8zM118.8 111.8h.8v.8h-.8zM128.5 116.8h.8v.8h-.8zM127.1 114.5h.8v.8h-.8zM127.0 122.1h.8v.8h-.8zM143.9 113.1h.8v.8h-.8zM115.6 108.7h.8v.8h-.8zM127.6 120.3h.8v.8h-.8zM129.3 115.2h.8v.8h-.8zM133.4 113.0h.8v.8h-.8zM119.8 111.5h.8v.8h-.8zM128.4 110.7h.8v.8h-.8zM121.2 110.3h.8v.8h-.8zM115.2 107.1h.8v.8h-.8zM125.3 110.3h.8v.8h-.8zM126.3 118.8h.8v.8h-.8zM128.2 111.8h.8v.8h-.8zM117.5 106.8h.8v.8h-.8zM128.7 107.8h.8v.8h-.8zM129.1 106.8h.8v.8h-.8zM127.0 111.6h.8v.8h-.8zM133.2 110.1h.8v.8h-.8zM123.3 113.2h.8v.8h-.8zM126.4 120.1h.8v.8h-.8zM124.1 109.4h.8v.8h-.8zM123.7 114.3h.8v.8h-.8zM127.7 115.3h.8v.8h-.8zM116.0 123.9h.8v.8h-.8zM139.3 111.8h.8v.8h-.8zM117.3 112.7h.8v.8h-.8zM129.0 101.3h.8v.8h-.8zM126.1 104.9h.8v.8h-.8zM129.3 118.6h.8v.8h-.8zM133.5 104.8h.8v.8h-.8zM136.0 116.4h.8v.8h-.8zM123.4 114.4h.8v.8h-.8zM137.0 110.4h.8v.8h-.8zM125.9 109.3h.8v.8h-.8zM134.3 101.6h.8v.8h-.8zM136.2 107.3h.8v.8h-.8zM132.7 104.2h.8v.8h-.8zM119.2 109.1h.8v.8h-.8zM132.0 104.2h.8v.8h-.8zM130.4 108.9h.8v.8h-.8zM135.0 110.5h.8v.8h-.8zM129.5 111.2h.8v.8h-.8zM138.9 110.3h.8v.8h-.8zM125.8 121.5h.8v.8h-.8zM126.6 115.3h.8v.8h-.8z" fill="#000" fill-opacity="0.25"/></g><rect x="114.7" y="84.1" width="48.499999999999986" height="49.099999999999994" fill="none" stroke="#999" stroke-width="0.9"/><line x1="138.2" y1="84.1" x2="138.2" y2="133.2" stroke="#8a8a8a" stroke-width="0.9"/><line x1="114.7" y1="120.4" x2="163.2" y2="120.4" stroke="#999" stroke-width="0.9"/><text x="115.60" y="90.00" font-size="5.8" text-anchor="start" font-weight="normal" fill="#3a3a3a" stroke="#3a3a3a" stroke-width="0.14" >98</text><text x="162.30" y="90.00" font-size="5.8" text-anchor="end" font-weight="normal" fill="#3a3a3a" stroke="#3a3a3a" stroke-width="0.14" >0.45</text><text x="115.90" y="132.50" font-size="5.8" text-anchor="start" font-weight="normal" fill="#3a3a3a" stroke="#3a3a3a" stroke-width="0.14" >1.62</text><text x="162.30" y="132.50" font-size="5.8" text-anchor="end" font-weight="normal" fill="#3a3a3a" stroke="#3a3a3a" stroke-width="0.14" >0.013</text><text x="113.2" y="89.1" font-size="2.8" text-anchor="end" fill="#999">10</text><text x="113.2" y="101.6" font-size="2.8" text-anchor="end" fill="#999">10</text><text x="113.2" y="114.2" font-size="2.8" text-anchor="end" fill="#999">10</text><text x="113.2" y="126.7" font-size="2.8" text-anchor="end" fill="#999">10</text><text x="122.7" y="137.0" font-size="2.8" text-anchor="middle" fill="#999">10</text><text x="133.9" y="137.0" font-size="2.8" text-anchor="middle" fill="#999">10</text><text x="145.2" y="137.0" font-size="2.8" text-anchor="middle" fill="#999">10</text><text x="156.4" y="137.0" font-size="2.8" text-anchor="middle" fill="#999">10</text></g><g><clipPath id="c189"><rect x="169.9" y="84.3" width="48.0" height="48.60000000000001"/></clipPath><g clip-path="url(#c189)"><g filter="url(#fb)"><ellipse cx="181" cy="111.5" rx="11" ry="7.5" fill="#000" fill-opacity="0.2"/><ellipse cx="182.5" cy="112" rx="6.5" ry="4.6" fill="#000" fill-opacity="0.45"/><ellipse cx="182.3" cy="112.5" rx="3.5" ry="3" fill="#000" fill-opacity="0.3"/></g><path d="M178.8 112.9h.8v.8h-.8zM171.4 112.6h.8v.8h-.8zM179.2 107.5h.8v.8h-.8zM175.5 115.9h.8v.8h-.8zM184.4 107.5h.8v.8h-.8zM191.0 110.1h.8v.8h-.8zM180.5 113.1h.8v.8h-.8zM176.8 107.2h.8v.8h-.8zM178.7 116.1h.8v.8h-.8zM186.9 107.3h.8v.8h-.8zM188.1 112.4h.8v.8h-.8zM184.7 112.5h.8v.8h-.8zM184.3 109.1h.8v.8h-.8zM177.9 110.1h.8v.8h-.8zM180.5 114.3h.8v.8h-.8zM176.4 117.4h.8v.8h-.8zM179.3 110.4h.8v.8h-.8zM185.7 113.7h.8v.8h-.8zM180.7 108.9h.8v.8h-.8zM177.5 107.2h.8v.8h-.8zM187.8 115.7h.8v.8h-.8zM191.3 113.9h.8v.8h-.8zM183.9 114.7h.8v.8h-.8zM186.9 111.5h.8v.8h-.8zM184.0 119.1h.8v.8h-.8zM174.1 107.8h.8v.8h-.8zM177.7 114.7h.8v.8h-.8zM188.0 111.2h.8v.8h-.8zM185.5 112.1h.8v.8h-.8zM183.7 110.6h.8v.8h-.8zM182.2 112.3h.8v.8h-.8zM187.7 119.4h.8v.8h-.8zM173.6 114.0h.8v.8h-.8zM182.3 115.4h.8v.8h-.8zM187.4 114.8h.8v.8h-.8zM186.2 109.3h.8v.8h-.8zM174.1 117.6h.8v.8h-.8zM188.1 109.3h.8v.8h-.8zM188.5 114.4h.8v.8h-.8zM170.5 115.2h.8v.8h-.8zM177.5 116.0h.8v.8h-.8zM179.0 109.9h.8v.8h-.8zM174.9 111.6h.8v.8h-.8zM187.2 110.2h.8v.8h-.8zM173.3 119.1h.8v.8h-.8zM191.2 114.5h.8v.8h-.8zM179.7 108.4h.8v.8h-.8zM174.4 114.1h.8v.8h-.8zM188.6 108.9h.8v.8h-.8zM182.3 111.4h.8v.8h-.8zM181.1 113.9h.8v.8h-.8zM192.4 110.3h.8v.8h-.8zM186.4 115.8h.8v.8h-.8zM180.9 111.8h.8v.8h-.8zM175.8 115.7h.8v.8h-.8zM179.7 110.2h.8v.8h-.8zM182.6 109.6h.8v.8h-.8zM177.3 111.4h.8v.8h-.8zM189.5 111.6h.8v.8h-.8zM184.8 107.6h.8v.8h-.8zM172.9 118.1h.8v.8h-.8zM180.4 107.4h.8v.8h-.8zM181.8 114.2h.8v.8h-.8zM174.0 109.5h.8v.8h-.8zM183.6 109.4h.8v.8h-.8zM186.1 115.4h.8v.8h-.8zM184.4 110.9h.8v.8h-.8zM182.1 110.3h.8v.8h-.8zM181.7 113.3h.8v.8h-.8zM180.9 115.4h.8v.8h-.8zM194.8 110.6h.8v.8h-.8zM184.0 114.9h.8v.8h-.8zM185.4 111.5h.8v.8h-.8zM180.0 115.5h.8v.8h-.8zM185.3 113.9h.8v.8h-.8zM178.4 114.3h.8v.8h-.8zM186.1 111.7h.8v.8h-.8zM185.4 119.2h.8v.8h-.8zM173.2 114.2h.8v.8h-.8zM176.6 108.0h.8v.8h-.8zM181.2 114.0h.8v.8h-.8zM182.6 108.6h.8v.8h-.8zM175.4 110.5h.8v.8h-.8zM182.4 109.7h.8v.8h-.8zM175.0 117.9h.8v.8h-.8zM178.2 111.8h.8v.8h-.8zM179.6 110.4h.8v.8h-.8zM182.5 111.3h.8v.8h-.8zM185.3 108.5h.8v.8h-.8zM175.1 118.5h.8v.8h-.8zM181.9 114.8h.8v.8h-.8zM188.0 114.1h.8v.8h-.8zM182.5 107.3h.8v.8h-.8zM174.6 115.4h.8v.8h-.8zM185.6 114.1h.8v.8h-.8zM174.3 105.5h.8v.8h-.8zM177.2 108.5h.8v.8h-.8zM183.1 109.0h.8v.8h-.8zM190.0 110.3h.8v.8h-.8zM179.6 115.1h.8v.8h-.8zM183.9 109.4h.8v.8h-.8zM186.3 118.4h.8v.8h-.8zM176.4 111.5h.8v.8h-.8zM177.1 106.1h.8v.8h-.8zM185.3 114.5h.8v.8h-.8zM187.0 113.7h.8v.8h-.8zM172.5 112.2h.8v.8h-.8zM179.1 108.5h.8v.8h-.8zM176.9 114.8h.8v.8h-.8zM180.9 118.6h.8v.8h-.8zM184.6 106.2h.8v.8h-.8zM186.6 116.3h.8v.8h-.8zM182.5 108.4h.8v.8h-.8zM190.9 108.1h.8v.8h-.8zM181.9 106.2h.8v.8h-.8zM176.2 106.8h.8v.8h-.8zM187.6 116.1h.8v.8h-.8zM180.3 107.9h.8v.8h-.8zM182.0 113.5h.8v.8h-.8zM174.9 108.6h.8v.8h-.8zM181.8 114.6h.8v.8h-.8zM182.7 113.7h.8v.8h-.8zM176.2 104.3h.8v.8h-.8zM183.8 109.3h.8v.8h-.8zM181.7 111.1h.8v.8h-.8zM184.6 109.8h.8v.8h-.8zM189.3 112.4h.8v.8h-.8zM184.9 114.3h.8v.8h-.8zM187.4 113.6h.8v.8h-.8zM173.8 110.3h.8v.8h-.8zM191.4 113.8h.8v.8h-.8zM185.0 113.8h.8v.8h-.8zM179.2 110.1h.8v.8h-.8zM179.1 116.0h.8v.8h-.8zM184.1 118.0h.8v.8h-.8zM184.7 118.4h.8v.8h-.8zM184.5 108.5h.8v.8h-.8zM190.8 113.4h.8v.8h-.8zM188.1 113.0h.8v.8h-.8zM180.7 112.8h.8v.8h-.8zM176.8 108.4h.8v.8h-.8zM177.9 110.6h.8v.8h-.8zM175.7 112.0h.8v.8h-.8zM183.8 118.9h.8v.8h-.8zM191.3 112.1h.8v.8h-.8zM186.6 111.6h.8v.8h-.8zM184.2 112.2h.8v.8h-.8zM179.6 112.5h.8v.8h-.8zM175.0 113.7h.8v.8h-.8zM180.9 108.8h.8v.8h-.8zM180.5 114.1h.8v.8h-.8zM179.0 113.8h.8v.8h-.8zM185.1 117.4h.8v.8h-.8zM177.0 111.9h.8v.8h-.8zM184.8 117.2h.8v.8h-.8zM183.6 114.7h.8v.8h-.8zM175.1 110.4h.8v.8h-.8zM190.5 111.4h.8v.8h-.8zM192.9 109.9h.8v.8h-.8zM180.9 107.1h.8v.8h-.8zM185.4 113.2h.8v.8h-.8zM192.2 112.8h.8v.8h-.8zM181.1 107.7h.8v.8h-.8zM181.9 115.4h.8v.8h-.8zM186.0 116.3h.8v.8h-.8zM186.6 112.1h.8v.8h-.8zM185.3 112.9h.8v.8h-.8zM175.7 117.9h.8v.8h-.8zM184.1 108.9h.8v.8h-.8zM184.2 113.2h.8v.8h-.8zM187.2 117.0h.8v.8h-.8zM189.9 109.2h.8v.8h-.8zM173.1 113.2h.8v.8h-.8zM184.0 113.4h.8v.8h-.8zM176.8 110.8h.8v.8h-.8zM183.3 114.7h.8v.8h-.8zM193.1 113.3h.8v.8h-.8zM179.3 104.6h.8v.8h-.8zM187.6 111.9h.8v.8h-.8zM181.8 109.1h.8v.8h-.8zM185.9 106.4h.8v.8h-.8zM182.8 112.7h.8v.8h-.8zM183.8 116.6h.8v.8h-.8zM181.8 112.6h.8v.8h-.8zM186.5 107.2h.8v.8h-.8zM180.9 112.5h.8v.8h-.8zM187.0 109.7h.8v.8h-.8zM186.3 113.6h.8v.8h-.8zM174.9 107.5h.8v.8h-.8zM175.2 112.8h.8v.8h-.8zM183.3 114.7h.8v.8h-.8zM186.4 110.5h.8v.8h-.8zM187.6 115.0h.8v.8h-.8zM184.6 113.9h.8v.8h-.8zM175.9 113.5h.8v.8h-.8zM177.2 108.4h.8v.8h-.8zM180.6 112.8h.8v.8h-.8zM182.0 111.2h.8v.8h-.8zM177.3 112.9h.8v.8h-.8zM178.6 107.7h.8v.8h-.8zM182.8 117.1h.8v.8h-.8zM180.3 108.8h.8v.8h-.8zM189.2 117.9h.8v.8h-.8zM180.8 111.6h.8v.8h-.8zM183.4 122.0h.8v.8h-.8zM183.0 115.6h.8v.8h-.8zM184.5 106.3h.8v.8h-.8zM176.8 108.3h.8v.8h-.8zM184.5 112.6h.8v.8h-.8zM191.2 111.4h.8v.8h-.8zM183.8 112.5h.8v.8h-.8zM183.0 119.9h.8v.8h-.8zM183.7 117.1h.8v.8h-.8zM188.8 110.3h.8v.8h-.8zM185.7 111.0h.8v.8h-.8zM182.8 112.8h.8v.8h-.8zM182.4 110.8h.8v.8h-.8zM190.1 111.4h.8v.8h-.8zM185.8 117.8h.8v.8h-.8zM185.4 115.7h.8v.8h-.8zM189.2 115.9h.8v.8h-.8zM190.9 107.6h.8v.8h-.8zM192.1 112.4h.8v.8h-.8zM173.6 110.2h.8v.8h-.8zM175.3 112.2h.8v.8h-.8zM174.9 109.0h.8v.8h-.8zM183.8 112.8h.8v.8h-.8zM178.3 111.5h.8v.8h-.8zM181.8 112.5h.8v.8h-.8zM182.3 111.6h.8v.8h-.8zM186.7 107.0h.8v.8h-.8zM179.8 112.7h.8v.8h-.8zM180.3 110.5h.8v.8h-.8zM180.1 113.0h.8v.8h-.8zM188.5 111.7h.8v.8h-.8zM181.0 113.5h.8v.8h-.8zM181.1 105.9h.8v.8h-.8zM183.6 111.1h.8v.8h-.8zM179.4 114.4h.8v.8h-.8zM182.5 110.4h.8v.8h-.8zM171.4 106.6h.8v.8h-.8zM182.4 111.9h.8v.8h-.8zM184.5 113.0h.8v.8h-.8zM179.9 108.1h.8v.8h-.8zM176.8 111.8h.8v.8h-.8zM176.6 114.8h.8v.8h-.8zM175.7 106.4h.8v.8h-.8zM181.3 106.4h.8v.8h-.8zM190.4 109.0h.8v.8h-.8zM182.0 111.5h.8v.8h-.8zM178.2 106.5h.8v.8h-.8zM173.0 115.2h.8v.8h-.8zM187.4 119.4h.8v.8h-.8zM175.0 114.1h.8v.8h-.8zM182.2 115.1h.8v.8h-.8zM179.7 114.7h.8v.8h-.8zM186.8 114.3h.8v.8h-.8zM189.5 111.7h.8v.8h-.8zM190.0 110.0h.8v.8h-.8zM190.6 103.2h.8v.8h-.8zM182.4 109.7h.8v.8h-.8zM182.3 115.7h.8v.8h-.8zM185.9 112.6h.8v.8h-.8zM190.8 107.4h.8v.8h-.8zM178.2 117.3h.8v.8h-.8zM183.9 105.5h.8v.8h-.8zM184.0 108.4h.8v.8h-.8zM189.7 116.1h.8v.8h-.8zM179.6 116.6h.8v.8h-.8zM178.1 115.3h.8v.8h-.8zM185.2 111.9h.8v.8h-.8zM175.2 111.4h.8v.8h-.8zM170.9 110.4h.8v.8h-.8zM173.0 116.3h.8v.8h-.8zM177.5 104.3h.8v.8h-.8zM185.2 113.5h.8v.8h-.8zM179.8 119.3h.8v.8h-.8zM186.2 112.5h.8v.8h-.8zM179.1 102.5h.8v.8h-.8zM184.7 115.5h.8v.8h-.8zM179.3 107.6h.8v.8h-.8zM182.1 106.8h.8v.8h-.8zM182.3 114.8h.8v.8h-.8zM189.8 113.2h.8v.8h-.8zM183.3 114.8h.8v.8h-.8zM189.3 111.2h.8v.8h-.8zM176.2 109.7h.8v.8h-.8zM176.0 109.4h.8v.8h-.8zM181.7 113.4h.8v.8h-.8zM183.1 112.5h.8v.8h-.8zM180.5 113.7h.8v.8h-.8zM186.7 114.8h.8v.8h-.8zM189.8 111.3h.8v.8h-.8zM181.0 117.9h.8v.8h-.8zM183.3 113.7h.8v.8h-.8zM180.6 115.5h.8v.8h-.8zM180.3 109.0h.8v.8h-.8zM182.0 110.8h.8v.8h-.8zM186.5 111.1h.8v.8h-.8zM182.9 111.6h.8v.8h-.8zM184.0 110.2h.8v.8h-.8zM187.8 107.6h.8v.8h-.8zM180.4 110.0h.8v.8h-.8zM185.5 112.4h.8v.8h-.8zM184.7 111.2h.8v.8h-.8zM178.7 108.6h.8v.8h-.8zM180.6 110.5h.8v.8h-.8zM183.7 113.5h.8v.8h-.8zM187.2 111.9h.8v.8h-.8zM178.6 108.8h.8v.8h-.8zM182.6 113.5h.8v.8h-.8zM192.0 112.9h.8v.8h-.8zM191.1 118.5h.8v.8h-.8zM177.1 116.3h.8v.8h-.8zM188.0 116.7h.8v.8h-.8zM182.3 115.5h.8v.8h-.8zM179.9 112.1h.8v.8h-.8zM182.4 118.2h.8v.8h-.8zM181.2 115.5h.8v.8h-.8zM182.6 110.0h.8v.8h-.8zM183.5 114.5h.8v.8h-.8zM178.7 114.4h.8v.8h-.8zM178.7 109.4h.8v.8h-.8zM183.4 111.5h.8v.8h-.8zM177.4 106.9h.8v.8h-.8zM182.4 113.1h.8v.8h-.8zM180.0 112.9h.8v.8h-.8zM174.7 113.6h.8v.8h-.8zM184.4 113.2h.8v.8h-.8zM179.2 112.6h.8v.8h-.8zM183.0 115.8h.8v.8h-.8zM183.7 113.1h.8v.8h-.8zM178.7 115.1h.8v.8h-.8zM188.2 110.7h.8v.8h-.8zM185.5 113.3h.8v.8h-.8zM182.1 108.1h.8v.8h-.8zM191.1 106.1h.8v.8h-.8zM183.8 111.1h.8v.8h-.8zM188.0 110.9h.8v.8h-.8zM182.5 114.3h.8v.8h-.8zM184.6 110.6h.8v.8h-.8zM185.7 113.6h.8v.8h-.8zM187.2 110.6h.8v.8h-.8zM182.1 111.0h.8v.8h-.8zM178.1 113.1h.8v.8h-.8zM184.3 117.0h.8v.8h-.8zM180.7 113.6h.8v.8h-.8zM188.0 111.9h.8v.8h-.8zM182.6 112.7h.8v.8h-.8z" fill="#000" fill-opacity="0.35"/><path d="M176.8 107.1h.8v.8h-.8zM190.4 112.9h.8v.8h-.8zM181.4 105.8h.8v.8h-.8zM182.9 117.8h.8v.8h-.8zM173.4 107.6h.8v.8h-.8zM190.3 119.1h.8v.8h-.8zM193.6 109.2h.8v.8h-.8zM186.5 108.3h.8v.8h-.8zM185.9 110.2h.8v.8h-.8zM183.5 118.7h.8v.8h-.8zM184.5 110.8h.8v.8h-.8zM182.4 113.3h.8v.8h-.8zM178.2 113.0h.8v.8h-.8zM186.5 119.8h.8v.8h-.8zM172.8 116.4h.8v.8h-.8zM200.2 113.0h.8v.8h-.8zM182.9 117.7h.8v.8h-.8zM178.2 109.6h.8v.8h-.8zM184.5 109.1h.8v.8h-.8zM190.3 112.0h.8v.8h-.8zM184.8 124.6h.8v.8h-.8zM178.7 116.6h.8v.8h-.8zM175.8 118.2h.8v.8h-.8zM189.2 112.7h.8v.8h-.8zM189.4 120.0h.8v.8h-.8zM192.3 112.0h.8v.8h-.8zM181.6 117.5h.8v.8h-.8zM171.1 109.0h.8v.8h-.8zM185.6 114.8h.8v.8h-.8zM195.8 120.7h.8v.8h-.8zM184.4 114.2h.8v.8h-.8zM172.2 111.1h.8v.8h-.8zM183.9 110.9h.8v.8h-.8zM182.4 115.0h.8v.8h-.8zM174.9 109.2h.8v.8h-.8zM174.2 103.6h.8v.8h-.8zM187.7 110.9h.8v.8h-.8zM189.2 110.2h.8v.8h-.8zM197.8 115.5h.8v.8h-.8zM183.1 112.6h.8v.8h-.8zM180.5 116.0h.8v.8h-.8zM196.8 109.9h.8v.8h-.8zM173.9 115.0h.8v.8h-.8zM189.9 104.6h.8v.8h-.8zM176.9 107.1h.8v.8h-.8zM186.2 114.5h.8v.8h-.8zM176.6 106.4h.8v.8h-.8zM187.1 101.8h.8v.8h-.8zM186.8 111.2h.8v.8h-.8zM196.2 116.9h.8v.8h-.8zM177.7 110.6h.8v.8h-.8zM179.9 108.4h.8v.8h-.8zM182.6 116.8h.8v.8h-.8zM170.8 110.9h.8v.8h-.8zM193.0 115.7h.8v.8h-.8zM176.0 108.0h.8v.8h-.8zM175.7 104.1h.8v.8h-.8zM190.5 112.3h.8v.8h-.8zM176.8 104.9h.8v.8h-.8zM179.2 109.5h.8v.8h-.8zM194.7 109.7h.8v.8h-.8zM182.9 117.3h.8v.8h-.8zM186.9 111.1h.8v.8h-.8zM186.4 109.9h.8v.8h-.8zM181.3 107.3h.8v.8h-.8zM175.4 104.7h.8v.8h-.8zM185.7 114.5h.8v.8h-.8zM183.3 115.8h.8v.8h-.8zM186.0 112.6h.8v.8h-.8zM175.5 114.9h.8v.8h-.8zM190.8 115.1h.8v.8h-.8zM191.2 109.7h.8v.8h-.8zM174.8 118.1h.8v.8h-.8zM177.7 113.2h.8v.8h-.8zM180.6 112.1h.8v.8h-.8zM180.0 109.4h.8v.8h-.8zM183.5 102.6h.8v.8h-.8zM175.3 106.5h.8v.8h-.8zM176.5 99.5h.8v.8h-.8zM186.2 120.0h.8v.8h-.8zM180.2 115.6h.8v.8h-.8zM186.4 105.9h.8v.8h-.8zM191.0 103.7h.8v.8h-.8zM177.8 110.2h.8v.8h-.8zM191.2 112.6h.8v.8h-.8zM181.1 108.1h.8v.8h-.8zM182.7 112.2h.8v.8h-.8zM187.4 118.8h.8v.8h-.8zM187.4 112.1h.8v.8h-.8zM180.9 119.8h.8v.8h-.8zM183.5 111.9h.8v.8h-.8zM195.2 119.7h.8v.8h-.8zM186.2 111.5h.8v.8h-.8zM177.3 117.2h.8v.8h-.8zM178.7 116.7h.8v.8h-.8zM176.3 112.5h.8v.8h-.8zM185.0 112.7h.8v.8h-.8zM183.7 113.9h.8v.8h-.8zM173.8 106.6h.8v.8h-.8zM180.9 120.8h.8v.8h-.8zM181.1 107.5h.8v.8h-.8zM177.2 112.2h.8v.8h-.8zM190.7 109.2h.8v.8h-.8zM186.1 112.9h.8v.8h-.8zM179.4 107.4h.8v.8h-.8zM180.9 108.5h.8v.8h-.8zM185.9 103.4h.8v.8h-.8zM190.3 115.7h.8v.8h-.8zM186.2 119.3h.8v.8h-.8zM186.4 103.7h.8v.8h-.8zM182.4 114.2h.8v.8h-.8zM177.0 106.5h.8v.8h-.8zM185.2 114.5h.8v.8h-.8zM178.9 110.8h.8v.8h-.8z" fill="#000" fill-opacity="0.25"/></g><rect x="169.9" y="84.3" width="48.0" height="48.60000000000001" fill="none" stroke="#999" stroke-width="0.9"/><line x1="193.3" y1="84.3" x2="193.3" y2="132.9" stroke="#8a8a8a" stroke-width="0.9"/><line x1="169.9" y1="120.3" x2="217.9" y2="120.3" stroke="#999" stroke-width="0.9"/><text x="170.80" y="90.20" font-size="5.8" text-anchor="start" font-weight="normal" fill="#3a3a3a" stroke="#3a3a3a" stroke-width="0.14" >97.5</text><text x="217.00" y="90.20" font-size="5.8" text-anchor="end" font-weight="normal" fill="#3a3a3a" stroke="#3a3a3a" stroke-width="0.14" >0.8</text><text x="171.10" y="132.20" font-size="5.8" text-anchor="start" font-weight="normal" fill="#3a3a3a" stroke="#3a3a3a" stroke-width="0.14" >1.77</text><text x="217.00" y="132.20" font-size="5.8" text-anchor="end" font-weight="normal" fill="#3a3a3a" stroke="#3a3a3a" stroke-width="0.14" >0.058</text><text x="168.4" y="89.3" font-size="2.8" text-anchor="end" fill="#999">10</text><text x="168.4" y="101.7" font-size="2.8" text-anchor="end" fill="#999">10</text><text x="168.4" y="114.1" font-size="2.8" text-anchor="end" fill="#999">10</text><text x="168.4" y="126.5" font-size="2.8" text-anchor="end" fill="#999">10</text><text x="177.9" y="136.7" font-size="2.8" text-anchor="middle" fill="#999">10</text><text x="189.0" y="136.7" font-size="2.8" text-anchor="middle" fill="#999">10</text><text x="200.1" y="136.7" font-size="2.8" text-anchor="middle" fill="#999">10</text><text x="211.2" y="136.7" font-size="2.8" text-anchor="middle" fill="#999">10</text></g><g><clipPath id="c216"><rect x="377.5" y="21.1" width="47.89999999999998" height="49.300000000000004"/></clipPath><g clip-path="url(#c216)"><g filter="url(#fb)"><ellipse cx="390" cy="47.5" rx="10" ry="7.5" fill="#000" fill-opacity="0.15"/><ellipse cx="392.5" cy="47.8" rx="6.5" ry="4.8" fill="#000" fill-opacity="0.35"/><ellipse cx="379" cy="48" rx="1.5" ry="4.5" fill="#000" fill-opacity="0.3"/></g><path d="M390.9 46.1h.8v.8h-.8zM392.8 50.9h.8v.8h-.8zM386.4 46.8h.8v.8h-.8zM399.6 48.7h.8v.8h-.8zM393.6 50.2h.8v.8h-.8zM388.9 44.3h.8v.8h-.8zM386.2 43.5h.8v.8h-.8zM394.0 50.3h.8v.8h-.8zM391.3 45.8h.8v.8h-.8zM394.7 49.6h.8v.8h-.8zM394.1 42.2h.8v.8h-.8zM390.8 40.4h.8v.8h-.8zM394.0 45.3h.8v.8h-.8zM390.3 52.2h.8v.8h-.8zM398.4 49.2h.8v.8h-.8zM394.1 48.3h.8v.8h-.8zM390.6 47.7h.8v.8h-.8zM400.8 45.2h.8v.8h-.8zM390.3 48.3h.8v.8h-.8zM396.6 50.2h.8v.8h-.8zM389.0 47.4h.8v.8h-.8zM391.9 44.2h.8v.8h-.8zM393.3 46.4h.8v.8h-.8zM396.8 49.1h.8v.8h-.8zM389.8 48.0h.8v.8h-.8zM391.5 45.9h.8v.8h-.8zM391.0 50.9h.8v.8h-.8zM391.3 42.8h.8v.8h-.8zM389.8 50.2h.8v.8h-.8zM401.8 44.7h.8v.8h-.8zM391.5 46.8h.8v.8h-.8zM387.3 49.0h.8v.8h-.8zM392.8 48.6h.8v.8h-.8zM402.1 47.0h.8v.8h-.8zM396.2 50.2h.8v.8h-.8zM390.4 46.1h.8v.8h-.8zM399.4 49.9h.8v.8h-.8zM393.6 44.6h.8v.8h-.8zM396.6 49.3h.8v.8h-.8zM402.0 52.1h.8v.8h-.8zM396.3 48.6h.8v.8h-.8zM393.3 46.2h.8v.8h-.8zM394.3 48.5h.8v.8h-.8zM395.7 51.0h.8v.8h-.8zM394.3 46.2h.8v.8h-.8zM396.3 52.3h.8v.8h-.8zM389.6 49.0h.8v.8h-.8zM395.2 49.4h.8v.8h-.8zM395.1 47.5h.8v.8h-.8zM392.6 52.7h.8v.8h-.8zM400.1 43.7h.8v.8h-.8zM382.6 49.1h.8v.8h-.8zM390.2 46.3h.8v.8h-.8zM386.5 48.8h.8v.8h-.8zM392.8 46.2h.8v.8h-.8zM396.7 54.9h.8v.8h-.8zM399.0 51.2h.8v.8h-.8zM391.3 49.7h.8v.8h-.8zM392.8 51.2h.8v.8h-.8zM395.4 47.7h.8v.8h-.8zM395.3 45.7h.8v.8h-.8zM396.2 52.2h.8v.8h-.8zM391.5 49.4h.8v.8h-.8zM386.2 50.5h.8v.8h-.8zM396.6 44.8h.8v.8h-.8zM400.1 48.1h.8v.8h-.8zM385.9 43.8h.8v.8h-.8zM396.6 47.0h.8v.8h-.8zM397.5 43.3h.8v.8h-.8zM392.6 50.6h.8v.8h-.8zM390.2 49.8h.8v.8h-.8zM391.5 48.8h.8v.8h-.8zM394.3 54.3h.8v.8h-.8zM387.9 50.1h.8v.8h-.8zM398.4 44.5h.8v.8h-.8zM393.3 54.5h.8v.8h-.8zM397.3 39.2h.8v.8h-.8zM392.0 42.8h.8v.8h-.8zM394.2 45.7h.8v.8h-.8zM390.7 45.4h.8v.8h-.8zM394.2 46.4h.8v.8h-.8zM389.3 47.1h.8v.8h-.8zM394.7 45.3h.8v.8h-.8zM397.5 43.0h.8v.8h-.8zM394.7 46.7h.8v.8h-.8zM399.4 45.9h.8v.8h-.8zM390.3 43.9h.8v.8h-.8zM401.1 49.6h.8v.8h-.8zM388.6 46.8h.8v.8h-.8zM389.1 52.2h.8v.8h-.8zM394.7 41.9h.8v.8h-.8zM393.9 50.5h.8v.8h-.8zM393.0 49.2h.8v.8h-.8zM392.6 48.4h.8v.8h-.8zM393.9 45.7h.8v.8h-.8zM394.4 48.3h.8v.8h-.8zM392.8 45.8h.8v.8h-.8zM388.9 48.5h.8v.8h-.8zM396.4 40.8h.8v.8h-.8zM390.8 51.7h.8v.8h-.8zM396.7 45.7h.8v.8h-.8zM398.5 44.9h.8v.8h-.8zM389.8 53.5h.8v.8h-.8zM391.2 47.2h.8v.8h-.8zM386.3 44.9h.8v.8h-.8zM388.2 47.4h.8v.8h-.8zM385.5 50.9h.8v.8h-.8zM391.5 46.0h.8v.8h-.8zM390.4 50.0h.8v.8h-.8zM399.3 46.6h.8v.8h-.8zM399.6 52.5h.8v.8h-.8zM398.5 48.7h.8v.8h-.8zM386.9 49.8h.8v.8h-.8zM391.3 48.4h.8v.8h-.8zM385.3 47.0h.8v.8h-.8zM394.0 45.1h.8v.8h-.8zM394.2 52.7h.8v.8h-.8zM393.9 45.8h.8v.8h-.8zM402.7 41.5h.8v.8h-.8zM389.2 49.0h.8v.8h-.8zM390.6 41.1h.8v.8h-.8zM394.1 50.2h.8v.8h-.8zM389.8 52.1h.8v.8h-.8zM395.0 51.3h.8v.8h-.8zM386.8 47.8h.8v.8h-.8zM399.5 53.7h.8v.8h-.8zM398.4 47.8h.8v.8h-.8zM393.7 46.0h.8v.8h-.8zM397.5 45.8h.8v.8h-.8zM393.5 41.8h.8v.8h-.8zM386.8 53.0h.8v.8h-.8zM393.2 48.4h.8v.8h-.8zM384.0 47.7h.8v.8h-.8zM401.5 43.4h.8v.8h-.8zM383.3 47.3h.8v.8h-.8zM390.8 47.2h.8v.8h-.8zM387.9 43.8h.8v.8h-.8zM387.9 49.7h.8v.8h-.8zM392.8 50.2h.8v.8h-.8zM388.6 49.5h.8v.8h-.8zM391.2 48.1h.8v.8h-.8zM396.8 47.9h.8v.8h-.8zM391.6 42.9h.8v.8h-.8zM393.3 50.1h.8v.8h-.8zM390.4 47.6h.8v.8h-.8zM385.7 43.9h.8v.8h-.8zM394.7 51.6h.8v.8h-.8zM391.7 42.9h.8v.8h-.8zM391.4 43.2h.8v.8h-.8zM391.9 53.5h.8v.8h-.8zM394.2 47.4h.8v.8h-.8zM397.3 46.7h.8v.8h-.8zM394.4 48.4h.8v.8h-.8zM394.8 43.5h.8v.8h-.8zM395.9 50.4h.8v.8h-.8zM383.6 39.8h.8v.8h-.8zM389.3 52.2h.8v.8h-.8zM393.1 49.8h.8v.8h-.8zM395.3 50.4h.8v.8h-.8zM390.4 46.1h.8v.8h-.8zM394.6 49.6h.8v.8h-.8zM395.4 48.8h.8v.8h-.8zM391.0 51.1h.8v.8h-.8zM394.9 50.9h.8v.8h-.8zM382.5 50.8h.8v.8h-.8zM382.9 48.4h.8v.8h-.8zM390.3 48.2h.8v.8h-.8zM391.0 46.9h.8v.8h-.8zM393.8 48.8h.8v.8h-.8zM389.7 40.3h.8v.8h-.8zM389.8 49.4h.8v.8h-.8zM389.5 49.1h.8v.8h-.8zM391.5 45.0h.8v.8h-.8zM397.8 52.7h.8v.8h-.8zM392.6 47.7h.8v.8h-.8zM397.0 43.9h.8v.8h-.8zM389.4 51.2h.8v.8h-.8zM396.7 46.3h.8v.8h-.8zM389.8 48.8h.8v.8h-.8zM387.2 46.3h.8v.8h-.8zM392.0 40.5h.8v.8h-.8zM395.5 50.1h.8v.8h-.8zM397.4 43.5h.8v.8h-.8zM387.7 45.4h.8v.8h-.8zM387.6 53.9h.8v.8h-.8zM388.9 46.9h.8v.8h-.8zM393.9 49.2h.8v.8h-.8zM399.0 44.6h.8v.8h-.8zM396.7 48.2h.8v.8h-.8zM388.1 48.2h.8v.8h-.8zM387.2 52.6h.8v.8h-.8zM390.0 50.8h.8v.8h-.8zM398.4 46.0h.8v.8h-.8zM389.3 48.2h.8v.8h-.8zM388.6 50.5h.8v.8h-.8zM393.7 45.5h.8v.8h-.8zM390.1 50.0h.8v.8h-.8zM387.0 52.8h.8v.8h-.8zM389.7 47.2h.8v.8h-.8zM389.1 52.6h.8v.8h-.8zM396.4 51.7h.8v.8h-.8zM395.7 48.1h.8v.8h-.8zM400.1 49.8h.8v.8h-.8zM394.8 49.5h.8v.8h-.8zM396.1 48.6h.8v.8h-.8zM392.3 43.0h.8v.8h-.8zM401.6 43.9h.8v.8h-.8zM384.0 45.7h.8v.8h-.8zM401.1 51.4h.8v.8h-.8zM390.5 48.6h.8v.8h-.8zM392.9 41.9h.8v.8h-.8zM391.6 48.7h.8v.8h-.8zM397.9 44.2h.8v.8h-.8zM383.6 43.1h.8v.8h-.8zM394.4 48.0h.8v.8h-.8zM393.6 48.2h.8v.8h-.8zM391.5 43.7h.8v.8h-.8zM394.9 49.0h.8v.8h-.8zM395.4 51.5h.8v.8h-.8zM387.8 40.8h.8v.8h-.8zM385.5 54.2h.8v.8h-.8zM389.2 49.0h.8v.8h-.8zM392.9 50.0h.8v.8h-.8zM406.5 46.3h.8v.8h-.8zM392.3 46.0h.8v.8h-.8zM394.0 49.4h.8v.8h-.8zM388.9 51.7h.8v.8h-.8zM397.8 49.1h.8v.8h-.8zM392.5 47.1h.8v.8h-.8zM386.1 49.8h.8v.8h-.8zM388.9 46.3h.8v.8h-.8zM397.2 45.0h.8v.8h-.8zM390.8 50.4h.8v.8h-.8zM400.8 45.7h.8v.8h-.8zM397.6 45.8h.8v.8h-.8zM394.6 49.3h.8v.8h-.8zM388.2 50.9h.8v.8h-.8zM400.6 48.0h.8v.8h-.8zM394.1 44.3h.8v.8h-.8zM400.5 48.0h.8v.8h-.8zM387.6 50.1h.8v.8h-.8zM386.9 45.7h.8v.8h-.8zM384.0 51.9h.8v.8h-.8zM402.3 45.9h.8v.8h-.8zM390.3 46.1h.8v.8h-.8zM390.6 49.5h.8v.8h-.8zM399.1 44.8h.8v.8h-.8zM394.8 42.4h.8v.8h-.8zM399.4 47.5h.8v.8h-.8zM390.1 52.4h.8v.8h-.8z" fill="#000" fill-opacity="0.35"/><path d="M389.3 54.2h.8v.8h-.8zM397.5 55.5h.8v.8h-.8zM384.4 48.3h.8v.8h-.8zM392.6 47.1h.8v.8h-.8zM400.7 44.8h.8v.8h-.8zM397.0 54.1h.8v.8h-.8zM383.7 45.5h.8v.8h-.8zM392.7 47.2h.8v.8h-.8zM390.6 45.9h.8v.8h-.8zM389.4 50.2h.8v.8h-.8zM395.2 44.5h.8v.8h-.8zM389.2 44.6h.8v.8h-.8zM388.8 41.5h.8v.8h-.8zM396.7 51.0h.8v.8h-.8zM389.1 44.9h.8v.8h-.8zM386.8 45.0h.8v.8h-.8zM379.2 55.3h.8v.8h-.8zM413.0 42.5h.8v.8h-.8zM381.8 50.6h.8v.8h-.8zM394.2 40.9h.8v.8h-.8zM386.5 48.4h.8v.8h-.8zM390.0 45.5h.8v.8h-.8zM389.0 46.7h.8v.8h-.8zM398.7 47.6h.8v.8h-.8zM389.8 45.6h.8v.8h-.8zM385.6 44.7h.8v.8h-.8zM390.1 56.3h.8v.8h-.8zM397.8 49.1h.8v.8h-.8zM401.7 52.6h.8v.8h-.8zM391.5 47.3h.8v.8h-.8zM382.3 49.1h.8v.8h-.8zM387.8 40.9h.8v.8h-.8zM381.0 56.7h.8v.8h-.8zM391.5 50.2h.8v.8h-.8zM391.4 45.9h.8v.8h-.8zM393.2 52.9h.8v.8h-.8zM387.8 50.3h.8v.8h-.8zM397.2 45.8h.8v.8h-.8zM391.2 44.7h.8v.8h-.8zM394.2 46.3h.8v.8h-.8zM398.0 44.6h.8v.8h-.8zM401.8 46.6h.8v.8h-.8zM384.1 43.9h.8v.8h-.8zM394.6 44.1h.8v.8h-.8zM402.6 53.8h.8v.8h-.8zM393.6 41.6h.8v.8h-.8zM389.8 44.7h.8v.8h-.8zM405.4 45.6h.8v.8h-.8zM395.7 53.8h.8v.8h-.8zM383.3 46.5h.8v.8h-.8zM391.9 50.1h.8v.8h-.8zM382.0 49.0h.8v.8h-.8zM389.3 52.3h.8v.8h-.8zM378.8 45.5h.8v.8h-.8zM386.5 46.6h.8v.8h-.8zM395.1 45.2h.8v.8h-.8zM409.2 44.8h.8v.8h-.8zM395.9 52.6h.8v.8h-.8zM396.8 47.1h.8v.8h-.8zM384.2 46.9h.8v.8h-.8zM394.7 48.5h.8v.8h-.8zM394.1 50.6h.8v.8h-.8zM383.8 43.8h.8v.8h-.8zM400.1 45.8h.8v.8h-.8zM378.9 56.4h.8v.8h-.8zM384.2 43.8h.8v.8h-.8zM396.8 42.9h.8v.8h-.8zM383.9 52.7h.8v.8h-.8zM384.3 59.3h.8v.8h-.8zM390.7 60.1h.8v.8h-.8zM390.9 48.2h.8v.8h-.8zM385.5 47.0h.8v.8h-.8zM386.5 47.9h.8v.8h-.8zM395.4 42.3h.8v.8h-.8zM383.6 38.6h.8v.8h-.8zM400.5 47.7h.8v.8h-.8zM389.9 47.7h.8v.8h-.8zM397.0 49.4h.8v.8h-.8zM396.0 47.2h.8v.8h-.8zM389.2 47.7h.8v.8h-.8zM379.0 43.5h.8v.8h-.8zM394.7 48.2h.8v.8h-.8zM395.7 55.7h.8v.8h-.8zM403.0 54.2h.8v.8h-.8zM388.4 57.2h.8v.8h-.8zM383.8 47.6h.8v.8h-.8zM397.0 47.0h.8v.8h-.8zM389.2 46.4h.8v.8h-.8zM399.6 36.9h.8v.8h-.8zM398.9 52.8h.8v.8h-.8zM389.5 50.5h.8v.8h-.8zM383.2 53.0h.8v.8h-.8zM411.4 43.9h.8v.8h-.8zM399.8 47.7h.8v.8h-.8zM387.6 45.8h.8v.8h-.8z" fill="#000" fill-opacity="0.25"/><path d="M378.3 43.0h.8v.8h-.8zM378.5 50.2h.8v.8h-.8zM378.7 49.9h.8v.8h-.8zM379.0 52.0h.8v.8h-.8zM377.6 45.7h.8v.8h-.8zM377.6 50.6h.8v.8h-.8zM378.8 48.1h.8v.8h-.8zM378.0 49.4h.8v.8h-.8zM378.5 45.0h.8v.8h-.8zM378.8 45.3h.8v.8h-.8zM379.3 50.5h.8v.8h-.8zM377.9 50.3h.8v.8h-.8zM378.6 45.2h.8v.8h-.8zM377.8 41.3h.8v.8h-.8zM377.6 49.4h.8v.8h-.8zM379.5 45.5h.8v.8h-.8zM378.6 49.4h.8v.8h-.8zM379.1 49.8h.8v.8h-.8zM379.5 51.1h.8v.8h-.8zM377.9 49.6h.8v.8h-.8zM378.5 50.3h.8v.8h-.8zM378.3 51.3h.8v.8h-.8zM379.6 44.6h.8v.8h-.8zM378.1 49.0h.8v.8h-.8zM378.9 48.6h.8v.8h-.8zM379.2 43.3h.8v.8h-.8zM379.1 52.7h.8v.8h-.8zM379.4 49.7h.8v.8h-.8zM378.3 49.6h.8v.8h-.8zM378.4 41.7h.8v.8h-.8zM378.0 47.8h.8v.8h-.8zM378.1 44.3h.8v.8h-.8zM378.3 46.5h.8v.8h-.8zM378.6 47.8h.8v.8h-.8zM378.6 52.0h.8v.8h-.8zM378.6 49.6h.8v.8h-.8zM377.5 36.2h.8v.8h-.8z" fill="#000" fill-opacity="0.4"/></g><rect x="377.5" y="21.1" width="47.89999999999998" height="49.300000000000004" fill="none" stroke="#999" stroke-width="0.9"/><line x1="399.3" y1="21.1" x2="399.3" y2="70.4" stroke="#8a8a8a" stroke-width="0.9"/><line x1="377.5" y1="56.3" x2="425.4" y2="56.3" stroke="#999" stroke-width="0.9"/><text x="378.40" y="27.00" font-size="5.8" text-anchor="start" font-weight="normal" fill="#3a3a3a" stroke="#3a3a3a" stroke-width="0.14" >98.7</text><text x="424.50" y="27.00" font-size="5.8" text-anchor="end" font-weight="normal" fill="#3a3a3a" stroke="#3a3a3a" stroke-width="0.14" >0.52</text><text x="378.70" y="69.70" font-size="5.8" text-anchor="start" font-weight="normal" fill="#3a3a3a" stroke="#3a3a3a" stroke-width="0.14" >0.79</text><text x="424.50" y="69.70" font-size="5.8" text-anchor="end" font-weight="normal" fill="#3a3a3a" stroke="#3a3a3a" stroke-width="0.14" >3.03e-3</text><text x="376.0" y="26.1" font-size="2.8" text-anchor="end" fill="#999">10</text><text x="376.0" y="38.7" font-size="2.8" text-anchor="end" fill="#999">10</text><text x="376.0" y="51.3" font-size="2.8" text-anchor="end" fill="#999">10</text><text x="376.0" y="63.9" font-size="2.8" text-anchor="end" fill="#999">10</text><text x="385.5" y="74.2" font-size="2.8" text-anchor="middle" fill="#999">10</text><text x="396.6" y="74.2" font-size="2.8" text-anchor="middle" fill="#999">10</text><text x="407.7" y="74.2" font-size="2.8" text-anchor="middle" fill="#999">10</text><text x="418.8" y="74.2" font-size="2.8" text-anchor="middle" fill="#999">10</text></g><g><clipPath id="c244"><rect x="433.5" y="20.7" width="47.5" height="49.7"/></clipPath><g clip-path="url(#c244)"><g filter="url(#fb)"><ellipse cx="449" cy="46.8" rx="13" ry="7" fill="#000" fill-opacity="0.15"/><ellipse cx="452" cy="46.8" rx="9.5" ry="5" fill="#000" fill-opacity="0.45"/><ellipse cx="455" cy="46.5" rx="5" ry="3.5" fill="#000" fill-opacity="0.3"/></g><path d="M449.8 48.8h.8v.8h-.8zM450.1 44.9h.8v.8h-.8zM445.2 49.5h.8v.8h-.8zM449.1 47.5h.8v.8h-.8zM458.2 48.4h.8v.8h-.8zM464.3 46.4h.8v.8h-.8zM457.3 48.9h.8v.8h-.8zM448.4 46.9h.8v.8h-.8zM448.9 43.7h.8v.8h-.8zM453.6 44.5h.8v.8h-.8zM461.2 44.6h.8v.8h-.8zM449.0 47.1h.8v.8h-.8zM449.1 47.0h.8v.8h-.8zM448.7 42.5h.8v.8h-.8zM438.7 42.9h.8v.8h-.8zM460.4 48.1h.8v.8h-.8zM452.8 45.4h.8v.8h-.8zM451.2 47.7h.8v.8h-.8zM444.4 44.4h.8v.8h-.8zM447.1 50.6h.8v.8h-.8zM446.2 50.3h.8v.8h-.8zM449.4 55.0h.8v.8h-.8zM451.6 46.9h.8v.8h-.8zM459.4 49.4h.8v.8h-.8zM457.2 43.6h.8v.8h-.8zM458.2 51.8h.8v.8h-.8zM451.4 45.3h.8v.8h-.8zM446.0 49.9h.8v.8h-.8zM453.6 46.8h.8v.8h-.8zM445.2 51.7h.8v.8h-.8zM456.8 46.7h.8v.8h-.8zM460.1 43.9h.8v.8h-.8zM456.8 43.8h.8v.8h-.8zM459.8 46.0h.8v.8h-.8zM458.7 45.6h.8v.8h-.8zM454.2 50.2h.8v.8h-.8zM447.0 47.1h.8v.8h-.8zM447.4 49.4h.8v.8h-.8zM448.7 45.7h.8v.8h-.8zM450.9 50.3h.8v.8h-.8zM446.3 46.7h.8v.8h-.8zM450.2 45.2h.8v.8h-.8zM447.7 46.3h.8v.8h-.8zM453.1 42.2h.8v.8h-.8zM453.3 43.2h.8v.8h-.8zM452.1 53.6h.8v.8h-.8zM446.7 46.6h.8v.8h-.8zM450.6 49.7h.8v.8h-.8zM449.4 41.4h.8v.8h-.8zM443.1 47.3h.8v.8h-.8zM453.4 50.0h.8v.8h-.8zM449.0 48.8h.8v.8h-.8zM446.1 50.7h.8v.8h-.8zM451.6 44.8h.8v.8h-.8zM453.0 52.0h.8v.8h-.8zM447.3 43.1h.8v.8h-.8zM446.4 43.3h.8v.8h-.8zM451.7 47.9h.8v.8h-.8zM451.1 47.4h.8v.8h-.8zM458.5 45.9h.8v.8h-.8zM445.1 39.9h.8v.8h-.8zM453.3 44.8h.8v.8h-.8zM450.6 48.0h.8v.8h-.8zM454.5 42.1h.8v.8h-.8zM446.7 47.0h.8v.8h-.8zM451.2 50.2h.8v.8h-.8zM449.2 40.6h.8v.8h-.8zM458.4 41.9h.8v.8h-.8zM446.7 48.0h.8v.8h-.8zM446.2 54.3h.8v.8h-.8zM453.3 48.4h.8v.8h-.8zM449.6 53.5h.8v.8h-.8zM455.0 44.6h.8v.8h-.8zM458.9 41.7h.8v.8h-.8zM448.8 47.7h.8v.8h-.8zM452.8 43.9h.8v.8h-.8zM460.7 51.2h.8v.8h-.8zM446.9 47.9h.8v.8h-.8zM448.5 45.5h.8v.8h-.8zM457.4 47.2h.8v.8h-.8zM451.4 47.1h.8v.8h-.8zM445.6 50.5h.8v.8h-.8zM447.9 50.7h.8v.8h-.8zM449.5 45.4h.8v.8h-.8zM460.2 47.4h.8v.8h-.8zM448.5 45.2h.8v.8h-.8zM455.3 52.4h.8v.8h-.8zM455.4 45.6h.8v.8h-.8zM445.8 44.8h.8v.8h-.8zM451.3 47.5h.8v.8h-.8zM448.4 50.6h.8v.8h-.8zM446.7 44.7h.8v.8h-.8zM454.7 48.2h.8v.8h-.8zM449.9 49.7h.8v.8h-.8zM444.3 51.7h.8v.8h-.8zM464.0 52.7h.8v.8h-.8zM452.7 52.7h.8v.8h-.8zM452.3 50.8h.8v.8h-.8zM450.9 47.4h.8v.8h-.8zM454.9 41.6h.8v.8h-.8zM450.9 52.0h.8v.8h-.8zM435.9 48.0h.8v.8h-.8zM457.1 47.8h.8v.8h-.8zM453.1 51.0h.8v.8h-.8zM453.8 41.1h.8v.8h-.8zM446.8 45.9h.8v.8h-.8zM452.8 45.5h.8v.8h-.8zM451.4 51.8h.8v.8h-.8zM435.9 50.3h.8v.8h-.8zM457.2 48.6h.8v.8h-.8zM452.1 47.0h.8v.8h-.8zM454.0 47.5h.8v.8h-.8zM448.0 49.1h.8v.8h-.8zM447.5 46.7h.8v.8h-.8zM450.0 43.3h.8v.8h-.8zM455.3 46.6h.8v.8h-.8zM445.6 46.6h.8v.8h-.8zM444.4 51.1h.8v.8h-.8zM454.8 52.8h.8v.8h-.8zM448.9 48.9h.8v.8h-.8zM446.7 44.2h.8v.8h-.8zM451.5 48.0h.8v.8h-.8zM457.1 46.0h.8v.8h-.8zM458.1 49.7h.8v.8h-.8zM447.2 46.3h.8v.8h-.8zM447.0 51.9h.8v.8h-.8zM449.0 49.4h.8v.8h-.8zM457.0 46.0h.8v.8h-.8zM449.3 47.8h.8v.8h-.8zM447.8 43.0h.8v.8h-.8zM446.7 47.8h.8v.8h-.8zM453.1 52.1h.8v.8h-.8zM442.0 48.3h.8v.8h-.8zM445.7 50.3h.8v.8h-.8zM455.8 47.2h.8v.8h-.8zM460.1 45.7h.8v.8h-.8zM449.1 43.7h.8v.8h-.8zM448.4 47.1h.8v.8h-.8zM455.7 50.6h.8v.8h-.8zM450.5 44.6h.8v.8h-.8zM450.2 45.5h.8v.8h-.8zM449.4 45.6h.8v.8h-.8zM447.2 46.6h.8v.8h-.8zM449.2 46.3h.8v.8h-.8zM444.4 47.2h.8v.8h-.8zM455.1 48.7h.8v.8h-.8zM449.0 43.4h.8v.8h-.8zM444.9 43.3h.8v.8h-.8zM448.5 45.9h.8v.8h-.8zM442.3 48.8h.8v.8h-.8zM443.6 44.8h.8v.8h-.8zM448.1 49.3h.8v.8h-.8zM462.0 45.7h.8v.8h-.8zM450.5 45.6h.8v.8h-.8zM450.9 46.3h.8v.8h-.8zM465.5 43.6h.8v.8h-.8zM451.4 44.5h.8v.8h-.8zM453.9 45.3h.8v.8h-.8zM455.1 43.6h.8v.8h-.8zM463.5 47.4h.8v.8h-.8zM442.4 48.9h.8v.8h-.8zM449.4 43.4h.8v.8h-.8zM454.4 45.3h.8v.8h-.8zM456.0 45.2h.8v.8h-.8zM456.9 47.2h.8v.8h-.8zM453.9 47.3h.8v.8h-.8zM450.0 45.7h.8v.8h-.8zM454.5 48.9h.8v.8h-.8zM449.8 53.4h.8v.8h-.8zM461.2 43.4h.8v.8h-.8zM457.9 46.6h.8v.8h-.8zM453.3 44.5h.8v.8h-.8zM461.0 44.4h.8v.8h-.8zM451.6 44.7h.8v.8h-.8zM462.5 50.5h.8v.8h-.8zM444.8 45.5h.8v.8h-.8zM454.0 45.5h.8v.8h-.8zM450.1 43.6h.8v.8h-.8zM453.4 43.6h.8v.8h-.8zM456.5 53.9h.8v.8h-.8zM450.2 51.7h.8v.8h-.8zM454.0 44.8h.8v.8h-.8zM450.1 44.0h.8v.8h-.8zM452.6 48.9h.8v.8h-.8zM457.1 46.0h.8v.8h-.8zM445.5 46.6h.8v.8h-.8zM461.1 47.6h.8v.8h-.8zM451.7 40.7h.8v.8h-.8zM449.7 48.4h.8v.8h-.8zM446.9 50.8h.8v.8h-.8zM448.9 44.2h.8v.8h-.8zM448.9 46.5h.8v.8h-.8zM457.4 45.1h.8v.8h-.8zM442.3 46.6h.8v.8h-.8zM454.8 51.3h.8v.8h-.8zM445.9 51.2h.8v.8h-.8zM455.7 48.1h.8v.8h-.8zM447.8 44.2h.8v.8h-.8zM446.8 49.6h.8v.8h-.8zM453.2 50.0h.8v.8h-.8zM461.8 46.9h.8v.8h-.8zM451.7 52.5h.8v.8h-.8zM444.9 45.5h.8v.8h-.8zM450.0 45.7h.8v.8h-.8zM452.8 44.3h.8v.8h-.8zM458.3 42.8h.8v.8h-.8zM447.6 41.8h.8v.8h-.8zM444.4 48.5h.8v.8h-.8zM455.4 46.2h.8v.8h-.8zM456.6 48.6h.8v.8h-.8zM448.9 46.7h.8v.8h-.8zM454.0 52.7h.8v.8h-.8zM449.6 47.9h.8v.8h-.8zM455.0 50.4h.8v.8h-.8zM454.3 50.0h.8v.8h-.8zM446.2 46.0h.8v.8h-.8zM441.5 46.7h.8v.8h-.8zM464.6 47.5h.8v.8h-.8zM452.5 47.6h.8v.8h-.8zM452.8 42.9h.8v.8h-.8zM448.3 46.3h.8v.8h-.8zM452.9 44.3h.8v.8h-.8zM451.4 44.7h.8v.8h-.8zM444.9 44.9h.8v.8h-.8zM447.6 49.3h.8v.8h-.8zM459.2 48.5h.8v.8h-.8zM450.9 45.2h.8v.8h-.8zM443.5 45.3h.8v.8h-.8zM460.5 50.2h.8v.8h-.8zM453.2 46.1h.8v.8h-.8zM452.0 48.1h.8v.8h-.8zM452.0 48.1h.8v.8h-.8zM447.8 47.0h.8v.8h-.8zM450.1 50.0h.8v.8h-.8zM445.3 50.6h.8v.8h-.8zM451.5 45.3h.8v.8h-.8zM452.1 47.2h.8v.8h-.8zM450.7 48.1h.8v.8h-.8zM448.9 41.9h.8v.8h-.8zM455.8 46.7h.8v.8h-.8zM461.0 48.0h.8v.8h-.8zM441.2 50.5h.8v.8h-.8zM448.3 48.4h.8v.8h-.8zM464.0 50.0h.8v.8h-.8zM446.1 46.6h.8v.8h-.8zM443.3 48.8h.8v.8h-.8zM455.0 43.8h.8v.8h-.8zM454.4 49.6h.8v.8h-.8zM456.4 44.9h.8v.8h-.8zM448.3 43.5h.8v.8h-.8zM445.0 47.7h.8v.8h-.8zM452.2 50.6h.8v.8h-.8zM453.5 45.9h.8v.8h-.8zM444.3 51.3h.8v.8h-.8zM452.9 46.7h.8v.8h-.8zM446.6 43.8h.8v.8h-.8zM455.4 44.0h.8v.8h-.8zM455.2 48.7h.8v.8h-.8zM449.9 42.1h.8v.8h-.8zM454.2 50.9h.8v.8h-.8zM447.5 43.1h.8v.8h-.8zM457.9 47.2h.8v.8h-.8zM448.6 50.4h.8v.8h-.8zM450.5 48.1h.8v.8h-.8zM449.8 44.6h.8v.8h-.8zM453.2 44.3h.8v.8h-.8zM442.4 45.3h.8v.8h-.8zM458.7 50.0h.8v.8h-.8zM463.7 49.7h.8v.8h-.8zM460.7 47.6h.8v.8h-.8zM449.7 48.2h.8v.8h-.8zM446.9 49.0h.8v.8h-.8zM449.6 47.6h.8v.8h-.8zM447.4 46.4h.8v.8h-.8zM457.3 46.2h.8v.8h-.8zM448.4 47.7h.8v.8h-.8zM456.8 46.3h.8v.8h-.8zM445.7 42.3h.8v.8h-.8zM444.8 49.9h.8v.8h-.8zM451.5 48.2h.8v.8h-.8zM457.8 47.7h.8v.8h-.8zM454.6 45.4h.8v.8h-.8zM443.3 48.7h.8v.8h-.8zM451.5 48.5h.8v.8h-.8zM446.3 46.4h.8v.8h-.8zM462.9 44.4h.8v.8h-.8zM452.5 50.6h.8v.8h-.8zM450.8 47.2h.8v.8h-.8zM440.5 49.1h.8v.8h-.8zM449.6 50.6h.8v.8h-.8zM451.5 45.8h.8v.8h-.8zM454.3 46.1h.8v.8h-.8zM449.2 51.3h.8v.8h-.8zM457.3 47.2h.8v.8h-.8zM456.4 49.2h.8v.8h-.8zM455.1 47.0h.8v.8h-.8zM452.4 48.0h.8v.8h-.8zM455.0 47.9h.8v.8h-.8zM449.0 46.6h.8v.8h-.8zM454.5 44.0h.8v.8h-.8zM452.0 49.0h.8v.8h-.8zM452.9 46.0h.8v.8h-.8zM451.9 45.4h.8v.8h-.8zM457.3 45.8h.8v.8h-.8zM443.0 43.4h.8v.8h-.8zM453.6 47.4h.8v.8h-.8zM449.5 43.1h.8v.8h-.8zM451.2 44.4h.8v.8h-.8zM448.5 46.8h.8v.8h-.8zM447.9 47.7h.8v.8h-.8zM448.0 45.5h.8v.8h-.8zM450.8 51.1h.8v.8h-.8zM460.5 49.6h.8v.8h-.8zM448.0 46.9h.8v.8h-.8zM456.9 49.2h.8v.8h-.8zM443.2 46.7h.8v.8h-.8zM448.0 49.0h.8v.8h-.8zM455.4 45.3h.8v.8h-.8zM463.5 46.0h.8v.8h-.8zM465.2 46.4h.8v.8h-.8zM451.5 52.3h.8v.8h-.8zM449.2 45.5h.8v.8h-.8zM459.9 46.7h.8v.8h-.8zM454.6 43.2h.8v.8h-.8zM461.6 49.7h.8v.8h-.8zM453.9 48.9h.8v.8h-.8zM449.3 45.5h.8v.8h-.8zM443.5 47.9h.8v.8h-.8zM458.7 49.3h.8v.8h-.8zM457.0 48.9h.8v.8h-.8zM447.0 43.1h.8v.8h-.8zM455.5 47.3h.8v.8h-.8zM457.3 46.1h.8v.8h-.8zM447.3 48.1h.8v.8h-.8zM449.0 42.2h.8v.8h-.8zM448.7 44.3h.8v.8h-.8zM446.0 45.3h.8v.8h-.8zM457.1 53.6h.8v.8h-.8zM461.3 45.7h.8v.8h-.8zM458.2 46.6h.8v.8h-.8zM454.2 44.9h.8v.8h-.8zM451.6 42.1h.8v.8h-.8zM461.6 44.7h.8v.8h-.8zM455.2 45.2h.8v.8h-.8zM453.5 43.5h.8v.8h-.8zM450.0 49.5h.8v.8h-.8zM455.2 41.3h.8v.8h-.8zM456.6 43.1h.8v.8h-.8zM453.5 48.3h.8v.8h-.8zM448.5 45.9h.8v.8h-.8zM450.7 48.0h.8v.8h-.8zM456.9 50.7h.8v.8h-.8zM453.8 52.5h.8v.8h-.8zM446.9 51.9h.8v.8h-.8zM450.6 49.0h.8v.8h-.8zM451.3 47.1h.8v.8h-.8zM447.1 48.0h.8v.8h-.8zM462.9 47.3h.8v.8h-.8zM451.9 46.9h.8v.8h-.8zM455.8 46.3h.8v.8h-.8zM452.0 47.5h.8v.8h-.8zM459.0 49.6h.8v.8h-.8zM446.3 45.0h.8v.8h-.8zM452.1 49.3h.8v.8h-.8zM457.2 46.3h.8v.8h-.8zM463.5 46.4h.8v.8h-.8zM459.6 50.9h.8v.8h-.8zM460.6 47.4h.8v.8h-.8zM455.1 42.5h.8v.8h-.8zM442.4 45.1h.8v.8h-.8zM455.9 49.9h.8v.8h-.8zM451.4 49.8h.8v.8h-.8zM455.1 51.2h.8v.8h-.8zM443.4 44.5h.8v.8h-.8zM446.8 43.9h.8v.8h-.8zM460.9 44.2h.8v.8h-.8zM447.5 45.7h.8v.8h-.8zM456.8 45.5h.8v.8h-.8zM456.0 48.4h.8v.8h-.8zM448.6 40.1h.8v.8h-.8zM447.1 43.3h.8v.8h-.8zM460.8 44.8h.8v.8h-.8zM446.2 47.9h.8v.8h-.8zM452.3 44.2h.8v.8h-.8zM457.9 49.5h.8v.8h-.8zM453.5 44.7h.8v.8h-.8zM447.3 41.0h.8v.8h-.8zM454.1 48.0h.8v.8h-.8zM447.0 46.9h.8v.8h-.8zM469.7 43.6h.8v.8h-.8zM442.8 48.6h.8v.8h-.8zM449.7 45.4h.8v.8h-.8zM455.4 46.5h.8v.8h-.8zM457.4 48.3h.8v.8h-.8zM458.3 47.2h.8v.8h-.8zM440.4 50.7h.8v.8h-.8zM442.8 49.8h.8v.8h-.8zM453.4 42.9h.8v.8h-.8zM452.4 49.4h.8v.8h-.8zM446.5 47.0h.8v.8h-.8z" fill="#000" fill-opacity="0.3"/><path d="M441.7 44.2h.8v.8h-.8zM442.4 51.8h.8v.8h-.8zM450.0 47.4h.8v.8h-.8zM445.5 48.0h.8v.8h-.8zM447.7 48.2h.8v.8h-.8zM435.9 50.6h.8v.8h-.8zM441.0 38.9h.8v.8h-.8zM450.1 43.5h.8v.8h-.8zM445.2 47.2h.8v.8h-.8zM442.5 49.3h.8v.8h-.8zM444.4 46.6h.8v.8h-.8zM440.4 46.6h.8v.8h-.8zM439.9 47.7h.8v.8h-.8zM453.8 50.9h.8v.8h-.8zM448.5 43.0h.8v.8h-.8zM452.1 50.6h.8v.8h-.8zM458.1 40.1h.8v.8h-.8zM446.1 46.4h.8v.8h-.8zM452.4 43.9h.8v.8h-.8zM443.8 55.3h.8v.8h-.8zM451.9 40.9h.8v.8h-.8zM446.1 52.1h.8v.8h-.8zM442.4 49.5h.8v.8h-.8zM446.6 42.7h.8v.8h-.8zM442.3 51.3h.8v.8h-.8zM453.0 45.5h.8v.8h-.8zM452.6 45.2h.8v.8h-.8zM447.5 47.5h.8v.8h-.8zM438.6 48.6h.8v.8h-.8zM443.7 38.4h.8v.8h-.8zM441.1 44.7h.8v.8h-.8zM441.1 44.3h.8v.8h-.8zM441.9 39.4h.8v.8h-.8zM451.3 47.8h.8v.8h-.8zM447.5 46.6h.8v.8h-.8zM446.4 46.7h.8v.8h-.8zM439.6 42.5h.8v.8h-.8zM446.4 50.9h.8v.8h-.8zM447.4 52.9h.8v.8h-.8zM437.9 46.6h.8v.8h-.8zM442.4 51.6h.8v.8h-.8zM456.0 45.8h.8v.8h-.8zM450.3 46.7h.8v.8h-.8zM440.1 47.2h.8v.8h-.8zM439.9 52.7h.8v.8h-.8zM449.5 51.5h.8v.8h-.8zM448.1 39.4h.8v.8h-.8zM450.7 47.8h.8v.8h-.8zM452.0 53.2h.8v.8h-.8zM440.0 50.2h.8v.8h-.8zM448.0 46.9h.8v.8h-.8zM444.3 49.3h.8v.8h-.8zM449.4 49.7h.8v.8h-.8zM443.6 43.1h.8v.8h-.8zM453.8 51.9h.8v.8h-.8zM442.7 47.4h.8v.8h-.8zM450.8 41.6h.8v.8h-.8zM448.9 55.6h.8v.8h-.8zM447.6 45.2h.8v.8h-.8zM458.1 47.5h.8v.8h-.8zM447.3 46.1h.8v.8h-.8zM447.1 41.5h.8v.8h-.8zM438.4 42.6h.8v.8h-.8zM451.3 47.2h.8v.8h-.8zM452.8 40.7h.8v.8h-.8zM442.5 52.4h.8v.8h-.8zM441.3 41.3h.8v.8h-.8zM441.6 46.4h.8v.8h-.8zM445.9 51.9h.8v.8h-.8zM453.8 52.7h.8v.8h-.8zM449.4 45.8h.8v.8h-.8zM443.1 42.6h.8v.8h-.8zM453.5 51.7h.8v.8h-.8zM446.5 44.5h.8v.8h-.8zM450.0 49.1h.8v.8h-.8zM446.9 43.6h.8v.8h-.8zM447.4 45.6h.8v.8h-.8zM450.4 49.5h.8v.8h-.8zM448.6 46.1h.8v.8h-.8zM455.0 50.1h.8v.8h-.8zM453.5 50.3h.8v.8h-.8zM449.9 48.8h.8v.8h-.8zM439.7 41.4h.8v.8h-.8zM440.5 49.6h.8v.8h-.8zM451.4 48.1h.8v.8h-.8zM446.5 53.7h.8v.8h-.8zM443.7 41.5h.8v.8h-.8zM436.9 46.4h.8v.8h-.8zM450.1 50.0h.8v.8h-.8zM444.7 50.2h.8v.8h-.8zM445.7 45.1h.8v.8h-.8zM443.8 50.0h.8v.8h-.8zM451.6 43.7h.8v.8h-.8zM440.2 47.9h.8v.8h-.8zM458.5 43.6h.8v.8h-.8zM438.6 48.9h.8v.8h-.8zM449.0 45.5h.8v.8h-.8zM445.8 49.1h.8v.8h-.8zM435.7 47.4h.8v.8h-.8zM449.5 50.6h.8v.8h-.8zM452.9 47.3h.8v.8h-.8zM437.5 52.0h.8v.8h-.8zM450.5 45.4h.8v.8h-.8zM452.1 51.0h.8v.8h-.8zM445.2 39.6h.8v.8h-.8zM443.2 45.0h.8v.8h-.8zM441.1 47.2h.8v.8h-.8zM439.6 48.8h.8v.8h-.8zM457.1 43.5h.8v.8h-.8zM452.1 45.7h.8v.8h-.8zM449.2 47.1h.8v.8h-.8zM453.5 45.1h.8v.8h-.8zM450.3 44.9h.8v.8h-.8zM447.3 47.5h.8v.8h-.8zM452.4 42.2h.8v.8h-.8zM438.1 52.2h.8v.8h-.8zM448.3 53.2h.8v.8h-.8zM439.9 48.2h.8v.8h-.8zM449.5 53.4h.8v.8h-.8z" fill="#000" fill-opacity="0.25"/></g><rect x="433.5" y="20.7" width="47.5" height="49.7" fill="none" stroke="#999" stroke-width="0.9"/><line x1="454.6" y1="20.7" x2="454.6" y2="70.4" stroke="#8a8a8a" stroke-width="0.9"/><line x1="433.5" y1="56.3" x2="481" y2="56.3" stroke="#999" stroke-width="0.9"/><text x="434.40" y="26.60" font-size="5.8" text-anchor="start" font-weight="normal" fill="#3a3a3a" stroke="#3a3a3a" stroke-width="0.14" >80.7</text><text x="480.10" y="26.60" font-size="5.8" text-anchor="end" font-weight="normal" fill="#3a3a3a" stroke="#3a3a3a" stroke-width="0.14" >18.8</text><text x="434.70" y="69.70" font-size="5.8" text-anchor="start" font-weight="normal" fill="#3a3a3a" stroke="#3a3a3a" stroke-width="0.14" >0.47</text><text x="480.10" y="69.70" font-size="5.8" text-anchor="end" font-weight="normal" fill="#3a3a3a" stroke="#3a3a3a" stroke-width="0.14" >0.29</text><text x="432.0" y="25.7" font-size="2.8" text-anchor="end" fill="#999">10</text><text x="432.0" y="38.4" font-size="2.8" text-anchor="end" fill="#999">10</text><text x="432.0" y="51.1" font-size="2.8" text-anchor="end" fill="#999">10</text><text x="432.0" y="63.8" font-size="2.8" text-anchor="end" fill="#999">10</text><text x="441.5" y="74.2" font-size="2.8" text-anchor="middle" fill="#999">10</text><text x="452.5" y="74.2" font-size="2.8" text-anchor="middle" fill="#999">10</text><text x="463.4" y="74.2" font-size="2.8" text-anchor="middle" fill="#999">10</text><text x="474.4" y="74.2" font-size="2.8" text-anchor="middle" fill="#999">10</text></g><g><clipPath id="c271"><rect x="377.5" y="86.8" width="47.89999999999998" height="49.89999999999999"/></clipPath><g clip-path="url(#c271)"><g filter="url(#fb)"><ellipse cx="388" cy="115.5" rx="11" ry="6.5" fill="#000" fill-opacity="0.15"/><ellipse cx="389" cy="115.4" rx="8" ry="4" fill="#000" fill-opacity="0.4"/><ellipse cx="388.5" cy="115.6" rx="4" ry="2.8" fill="#000" fill-opacity="0.2"/></g><path d="M388.7 114.4h.8v.8h-.8zM392.5 115.2h.8v.8h-.8zM385.3 117.4h.8v.8h-.8zM379.7 113.0h.8v.8h-.8zM395.7 114.3h.8v.8h-.8zM387.4 116.4h.8v.8h-.8zM394.5 116.8h.8v.8h-.8zM384.3 114.1h.8v.8h-.8zM394.1 115.2h.8v.8h-.8zM385.9 117.7h.8v.8h-.8zM394.6 120.9h.8v.8h-.8zM383.7 113.7h.8v.8h-.8zM385.6 116.4h.8v.8h-.8zM386.7 118.3h.8v.8h-.8zM385.9 114.8h.8v.8h-.8zM391.8 116.0h.8v.8h-.8zM384.1 119.2h.8v.8h-.8zM391.8 114.3h.8v.8h-.8zM390.0 112.7h.8v.8h-.8zM383.0 114.8h.8v.8h-.8zM390.8 115.8h.8v.8h-.8zM385.2 112.0h.8v.8h-.8zM380.8 119.5h.8v.8h-.8zM390.8 113.5h.8v.8h-.8zM394.8 116.8h.8v.8h-.8zM387.0 114.0h.8v.8h-.8zM394.6 116.3h.8v.8h-.8zM397.0 116.4h.8v.8h-.8zM386.1 114.0h.8v.8h-.8zM385.6 116.1h.8v.8h-.8zM390.2 117.0h.8v.8h-.8zM391.2 112.9h.8v.8h-.8zM388.0 113.2h.8v.8h-.8zM391.4 112.2h.8v.8h-.8zM386.2 113.4h.8v.8h-.8zM386.0 114.9h.8v.8h-.8zM396.4 114.9h.8v.8h-.8zM382.0 114.7h.8v.8h-.8zM392.6 116.9h.8v.8h-.8zM390.2 120.5h.8v.8h-.8zM394.4 115.7h.8v.8h-.8zM394.9 112.2h.8v.8h-.8zM388.2 113.3h.8v.8h-.8zM389.9 119.5h.8v.8h-.8zM386.6 119.5h.8v.8h-.8zM384.0 119.1h.8v.8h-.8zM380.8 113.4h.8v.8h-.8zM393.9 115.3h.8v.8h-.8zM389.7 115.5h.8v.8h-.8zM389.9 115.1h.8v.8h-.8zM384.2 114.8h.8v.8h-.8zM389.5 113.3h.8v.8h-.8zM391.3 119.9h.8v.8h-.8zM381.0 114.1h.8v.8h-.8zM387.6 115.5h.8v.8h-.8zM389.5 113.7h.8v.8h-.8zM388.8 115.5h.8v.8h-.8zM388.6 119.3h.8v.8h-.8zM389.6 111.8h.8v.8h-.8zM381.4 117.0h.8v.8h-.8zM387.3 114.0h.8v.8h-.8zM382.4 114.7h.8v.8h-.8zM388.6 113.8h.8v.8h-.8zM387.3 117.7h.8v.8h-.8zM392.8 116.9h.8v.8h-.8zM388.2 112.1h.8v.8h-.8zM392.8 119.2h.8v.8h-.8zM395.2 118.4h.8v.8h-.8zM390.3 116.4h.8v.8h-.8zM388.9 118.6h.8v.8h-.8zM387.7 120.9h.8v.8h-.8zM392.8 114.7h.8v.8h-.8zM389.0 111.5h.8v.8h-.8zM385.4 114.8h.8v.8h-.8zM400.9 113.5h.8v.8h-.8zM393.5 115.7h.8v.8h-.8zM387.6 117.1h.8v.8h-.8zM379.3 117.9h.8v.8h-.8zM398.4 116.2h.8v.8h-.8zM388.7 115.9h.8v.8h-.8zM392.2 114.3h.8v.8h-.8zM389.6 116.8h.8v.8h-.8zM387.3 116.5h.8v.8h-.8zM390.6 117.3h.8v.8h-.8zM384.2 114.2h.8v.8h-.8zM386.9 118.5h.8v.8h-.8zM390.2 111.4h.8v.8h-.8zM382.8 120.3h.8v.8h-.8zM390.6 112.3h.8v.8h-.8zM384.6 115.9h.8v.8h-.8zM395.9 119.5h.8v.8h-.8zM387.2 114.8h.8v.8h-.8zM398.3 113.1h.8v.8h-.8zM396.6 116.3h.8v.8h-.8zM389.5 118.7h.8v.8h-.8zM391.3 113.4h.8v.8h-.8zM381.6 115.5h.8v.8h-.8zM391.5 118.9h.8v.8h-.8zM392.0 119.3h.8v.8h-.8zM392.9 116.0h.8v.8h-.8zM391.1 116.5h.8v.8h-.8zM386.0 115.2h.8v.8h-.8zM389.6 114.4h.8v.8h-.8zM381.9 111.9h.8v.8h-.8zM391.5 116.8h.8v.8h-.8zM389.5 112.6h.8v.8h-.8zM393.1 114.5h.8v.8h-.8zM378.9 119.4h.8v.8h-.8zM381.8 121.1h.8v.8h-.8zM391.6 114.4h.8v.8h-.8zM377.6 113.7h.8v.8h-.8zM396.2 118.9h.8v.8h-.8zM390.3 111.2h.8v.8h-.8zM387.2 114.8h.8v.8h-.8zM391.2 115.2h.8v.8h-.8zM390.7 111.4h.8v.8h-.8zM385.9 119.1h.8v.8h-.8zM381.9 117.8h.8v.8h-.8zM400.2 117.1h.8v.8h-.8zM382.3 118.6h.8v.8h-.8zM380.0 116.3h.8v.8h-.8zM387.0 118.6h.8v.8h-.8zM394.7 116.0h.8v.8h-.8zM397.7 118.0h.8v.8h-.8zM386.7 113.0h.8v.8h-.8zM401.0 114.5h.8v.8h-.8zM391.0 115.2h.8v.8h-.8zM386.7 111.5h.8v.8h-.8zM388.3 115.2h.8v.8h-.8zM393.8 114.2h.8v.8h-.8zM381.4 112.8h.8v.8h-.8zM388.8 116.1h.8v.8h-.8zM392.5 114.5h.8v.8h-.8zM391.6 115.9h.8v.8h-.8zM397.2 115.4h.8v.8h-.8zM389.7 116.9h.8v.8h-.8zM394.9 113.2h.8v.8h-.8zM386.7 114.8h.8v.8h-.8zM378.7 118.8h.8v.8h-.8zM394.2 115.6h.8v.8h-.8zM405.3 118.7h.8v.8h-.8zM398.8 119.4h.8v.8h-.8zM393.4 112.0h.8v.8h-.8zM396.4 116.6h.8v.8h-.8zM383.2 115.6h.8v.8h-.8zM392.7 118.0h.8v.8h-.8zM389.9 114.2h.8v.8h-.8zM392.7 113.6h.8v.8h-.8zM388.6 117.4h.8v.8h-.8zM382.0 116.4h.8v.8h-.8zM379.5 113.2h.8v.8h-.8zM383.0 115.3h.8v.8h-.8zM392.5 115.4h.8v.8h-.8zM393.4 115.7h.8v.8h-.8zM388.0 116.7h.8v.8h-.8zM387.8 115.8h.8v.8h-.8zM394.1 114.1h.8v.8h-.8zM394.6 112.7h.8v.8h-.8zM387.9 111.2h.8v.8h-.8zM386.4 119.5h.8v.8h-.8zM390.7 118.7h.8v.8h-.8zM381.9 113.0h.8v.8h-.8zM391.3 117.6h.8v.8h-.8zM393.1 111.3h.8v.8h-.8zM391.5 115.3h.8v.8h-.8zM389.6 116.7h.8v.8h-.8zM387.6 111.3h.8v.8h-.8zM383.8 111.9h.8v.8h-.8zM382.6 115.2h.8v.8h-.8zM395.4 113.7h.8v.8h-.8zM385.3 112.6h.8v.8h-.8zM380.6 115.7h.8v.8h-.8zM386.6 114.9h.8v.8h-.8zM384.3 116.7h.8v.8h-.8zM383.2 116.9h.8v.8h-.8zM385.8 117.5h.8v.8h-.8zM384.7 116.6h.8v.8h-.8zM391.1 115.3h.8v.8h-.8zM396.9 115.9h.8v.8h-.8zM384.7 117.2h.8v.8h-.8zM385.0 114.1h.8v.8h-.8zM389.1 116.0h.8v.8h-.8zM397.3 111.1h.8v.8h-.8zM387.7 118.3h.8v.8h-.8zM388.2 116.3h.8v.8h-.8zM396.4 112.4h.8v.8h-.8zM389.2 117.5h.8v.8h-.8zM386.1 111.1h.8v.8h-.8zM384.1 116.0h.8v.8h-.8zM389.9 120.1h.8v.8h-.8zM395.5 111.6h.8v.8h-.8zM394.1 117.8h.8v.8h-.8zM396.9 115.1h.8v.8h-.8zM386.3 115.9h.8v.8h-.8zM396.5 117.1h.8v.8h-.8zM397.3 117.5h.8v.8h-.8zM386.1 113.0h.8v.8h-.8zM398.0 111.7h.8v.8h-.8zM387.3 114.7h.8v.8h-.8zM384.6 114.1h.8v.8h-.8zM389.0 121.5h.8v.8h-.8zM388.7 114.2h.8v.8h-.8zM389.6 117.9h.8v.8h-.8zM385.0 114.5h.8v.8h-.8zM380.5 117.3h.8v.8h-.8zM392.3 119.3h.8v.8h-.8zM383.2 121.0h.8v.8h-.8zM393.3 114.8h.8v.8h-.8zM387.1 114.7h.8v.8h-.8zM383.1 117.4h.8v.8h-.8zM386.0 113.7h.8v.8h-.8zM391.5 115.8h.8v.8h-.8zM386.2 114.9h.8v.8h-.8zM386.6 118.9h.8v.8h-.8zM393.9 113.7h.8v.8h-.8zM388.8 119.0h.8v.8h-.8zM387.6 120.0h.8v.8h-.8zM391.2 117.2h.8v.8h-.8zM378.9 117.6h.8v.8h-.8zM390.7 117.0h.8v.8h-.8zM391.3 116.8h.8v.8h-.8zM386.5 117.8h.8v.8h-.8zM389.3 112.9h.8v.8h-.8zM384.0 115.9h.8v.8h-.8zM390.6 109.9h.8v.8h-.8zM378.9 118.1h.8v.8h-.8zM388.9 122.7h.8v.8h-.8zM381.5 114.9h.8v.8h-.8zM386.1 116.9h.8v.8h-.8zM395.9 119.6h.8v.8h-.8zM384.1 118.6h.8v.8h-.8zM383.1 116.3h.8v.8h-.8zM389.8 117.1h.8v.8h-.8zM385.1 118.9h.8v.8h-.8zM388.7 115.5h.8v.8h-.8zM387.7 112.8h.8v.8h-.8zM392.5 116.3h.8v.8h-.8zM391.2 120.2h.8v.8h-.8zM384.8 114.8h.8v.8h-.8zM389.0 117.7h.8v.8h-.8zM388.1 117.9h.8v.8h-.8zM391.2 111.1h.8v.8h-.8zM385.7 110.4h.8v.8h-.8zM387.6 114.4h.8v.8h-.8zM391.9 115.9h.8v.8h-.8zM388.7 118.7h.8v.8h-.8zM391.9 112.4h.8v.8h-.8zM385.6 116.3h.8v.8h-.8zM397.3 115.0h.8v.8h-.8zM388.2 116.2h.8v.8h-.8zM392.8 115.3h.8v.8h-.8zM390.4 114.4h.8v.8h-.8zM386.3 113.5h.8v.8h-.8zM392.2 114.1h.8v.8h-.8zM391.7 116.5h.8v.8h-.8zM393.8 108.7h.8v.8h-.8zM384.3 112.4h.8v.8h-.8zM388.2 117.5h.8v.8h-.8zM401.4 119.4h.8v.8h-.8zM395.6 116.5h.8v.8h-.8zM387.1 116.9h.8v.8h-.8zM378.4 117.9h.8v.8h-.8zM389.0 117.1h.8v.8h-.8zM384.0 112.7h.8v.8h-.8zM385.9 115.4h.8v.8h-.8zM390.7 114.6h.8v.8h-.8zM390.7 117.2h.8v.8h-.8zM383.3 115.2h.8v.8h-.8zM381.4 114.1h.8v.8h-.8zM393.4 113.7h.8v.8h-.8zM398.1 116.8h.8v.8h-.8zM393.3 115.8h.8v.8h-.8zM393.2 118.3h.8v.8h-.8zM389.5 114.2h.8v.8h-.8zM386.3 120.4h.8v.8h-.8zM388.1 114.3h.8v.8h-.8zM385.5 111.2h.8v.8h-.8zM386.6 116.3h.8v.8h-.8zM386.6 113.6h.8v.8h-.8zM391.0 116.7h.8v.8h-.8zM386.9 116.3h.8v.8h-.8zM384.2 117.7h.8v.8h-.8zM384.2 114.6h.8v.8h-.8zM389.7 114.4h.8v.8h-.8zM383.4 120.8h.8v.8h-.8zM396.4 111.1h.8v.8h-.8zM389.6 112.3h.8v.8h-.8zM390.5 112.2h.8v.8h-.8zM391.8 116.8h.8v.8h-.8zM397.3 118.5h.8v.8h-.8zM386.8 117.9h.8v.8h-.8zM386.8 115.2h.8v.8h-.8zM386.6 111.0h.8v.8h-.8zM391.9 110.4h.8v.8h-.8zM387.8 116.8h.8v.8h-.8zM389.6 111.5h.8v.8h-.8zM385.8 117.2h.8v.8h-.8zM394.4 119.5h.8v.8h-.8zM380.1 116.7h.8v.8h-.8zM386.6 117.4h.8v.8h-.8zM380.8 115.1h.8v.8h-.8zM392.5 113.9h.8v.8h-.8zM387.2 113.0h.8v.8h-.8zM394.4 112.1h.8v.8h-.8zM384.5 114.7h.8v.8h-.8zM387.5 120.8h.8v.8h-.8zM390.3 113.4h.8v.8h-.8zM391.8 116.4h.8v.8h-.8zM390.4 115.3h.8v.8h-.8zM391.3 112.5h.8v.8h-.8zM383.1 114.4h.8v.8h-.8zM383.6 117.3h.8v.8h-.8zM398.5 118.6h.8v.8h-.8zM391.2 116.4h.8v.8h-.8zM385.7 112.2h.8v.8h-.8zM391.7 111.8h.8v.8h-.8zM390.5 115.1h.8v.8h-.8zM392.7 115.6h.8v.8h-.8zM389.5 114.0h.8v.8h-.8zM380.6 114.6h.8v.8h-.8zM392.4 118.1h.8v.8h-.8zM395.7 113.0h.8v.8h-.8zM384.4 117.3h.8v.8h-.8zM386.8 122.0h.8v.8h-.8zM390.5 111.7h.8v.8h-.8zM386.3 119.5h.8v.8h-.8zM380.1 115.9h.8v.8h-.8zM382.2 119.6h.8v.8h-.8zM386.8 112.9h.8v.8h-.8zM380.7 113.7h.8v.8h-.8zM399.7 115.8h.8v.8h-.8zM387.7 112.6h.8v.8h-.8zM390.7 114.3h.8v.8h-.8zM384.9 119.0h.8v.8h-.8zM391.1 113.3h.8v.8h-.8zM396.2 115.4h.8v.8h-.8zM391.5 115.9h.8v.8h-.8zM394.8 117.1h.8v.8h-.8zM387.3 117.3h.8v.8h-.8zM387.1 115.8h.8v.8h-.8zM397.0 112.8h.8v.8h-.8zM383.9 114.5h.8v.8h-.8zM386.6 118.8h.8v.8h-.8zM381.2 121.3h.8v.8h-.8zM396.7 114.4h.8v.8h-.8zM389.9 114.6h.8v.8h-.8zM392.3 117.2h.8v.8h-.8z" fill="#000" fill-opacity="0.35"/><path d="M394.9 118.5h.8v.8h-.8zM404.1 114.8h.8v.8h-.8zM394.5 114.8h.8v.8h-.8zM389.3 116.4h.8v.8h-.8zM388.6 116.8h.8v.8h-.8zM382.3 114.9h.8v.8h-.8zM384.3 110.9h.8v.8h-.8zM383.5 113.6h.8v.8h-.8zM387.8 109.4h.8v.8h-.8zM387.0 111.1h.8v.8h-.8zM382.6 116.2h.8v.8h-.8zM397.7 116.6h.8v.8h-.8zM385.2 113.8h.8v.8h-.8zM399.5 109.2h.8v.8h-.8zM397.9 109.6h.8v.8h-.8zM384.0 115.7h.8v.8h-.8zM387.3 122.0h.8v.8h-.8zM392.9 115.3h.8v.8h-.8zM396.5 115.6h.8v.8h-.8zM382.7 119.9h.8v.8h-.8zM400.7 120.5h.8v.8h-.8zM379.8 122.9h.8v.8h-.8zM385.7 118.5h.8v.8h-.8zM398.3 124.8h.8v.8h-.8zM398.2 117.4h.8v.8h-.8zM386.6 104.1h.8v.8h-.8zM392.5 114.8h.8v.8h-.8zM389.0 116.4h.8v.8h-.8zM394.9 114.5h.8v.8h-.8zM382.0 114.1h.8v.8h-.8zM404.5 112.8h.8v.8h-.8zM388.4 122.9h.8v.8h-.8zM397.2 116.0h.8v.8h-.8zM394.8 114.4h.8v.8h-.8zM381.9 119.4h.8v.8h-.8zM390.1 121.8h.8v.8h-.8zM386.9 114.0h.8v.8h-.8zM391.7 114.8h.8v.8h-.8zM386.6 112.0h.8v.8h-.8zM391.0 116.8h.8v.8h-.8zM403.3 115.4h.8v.8h-.8zM406.9 113.8h.8v.8h-.8zM382.7 114.8h.8v.8h-.8zM387.5 109.6h.8v.8h-.8zM393.5 112.1h.8v.8h-.8zM394.0 123.0h.8v.8h-.8zM398.8 116.3h.8v.8h-.8zM385.0 114.5h.8v.8h-.8zM396.6 113.5h.8v.8h-.8zM392.3 119.3h.8v.8h-.8zM381.9 113.2h.8v.8h-.8zM392.5 115.5h.8v.8h-.8zM388.0 113.4h.8v.8h-.8zM388.5 122.8h.8v.8h-.8zM399.7 109.2h.8v.8h-.8zM389.4 115.9h.8v.8h-.8zM389.3 110.1h.8v.8h-.8zM388.0 116.1h.8v.8h-.8zM383.7 116.7h.8v.8h-.8zM389.8 117.0h.8v.8h-.8zM387.7 113.7h.8v.8h-.8zM390.5 119.7h.8v.8h-.8zM396.1 115.2h.8v.8h-.8zM385.3 119.7h.8v.8h-.8zM393.2 119.0h.8v.8h-.8zM386.8 112.1h.8v.8h-.8zM390.5 113.1h.8v.8h-.8zM398.0 118.8h.8v.8h-.8zM399.5 119.6h.8v.8h-.8zM385.3 112.1h.8v.8h-.8zM396.6 119.5h.8v.8h-.8zM389.5 111.0h.8v.8h-.8zM382.5 112.8h.8v.8h-.8zM392.5 119.6h.8v.8h-.8zM399.2 115.3h.8v.8h-.8zM386.3 118.0h.8v.8h-.8zM380.1 110.7h.8v.8h-.8zM389.2 121.6h.8v.8h-.8zM397.0 115.5h.8v.8h-.8zM396.9 113.9h.8v.8h-.8zM379.7 108.9h.8v.8h-.8zM391.1 119.0h.8v.8h-.8zM391.9 115.4h.8v.8h-.8zM385.9 119.8h.8v.8h-.8zM388.6 109.9h.8v.8h-.8zM399.8 113.0h.8v.8h-.8zM392.1 115.5h.8v.8h-.8zM397.3 116.5h.8v.8h-.8zM398.6 116.3h.8v.8h-.8zM385.4 113.5h.8v.8h-.8zM394.1 112.3h.8v.8h-.8zM396.3 114.6h.8v.8h-.8zM381.7 112.1h.8v.8h-.8zM387.9 122.4h.8v.8h-.8zM395.1 115.6h.8v.8h-.8zM381.9 123.0h.8v.8h-.8zM386.8 115.5h.8v.8h-.8zM385.7 120.7h.8v.8h-.8zM390.4 113.7h.8v.8h-.8zM390.5 111.6h.8v.8h-.8zM380.7 114.9h.8v.8h-.8zM404.6 111.1h.8v.8h-.8zM387.9 109.3h.8v.8h-.8zM390.4 116.3h.8v.8h-.8zM394.8 110.3h.8v.8h-.8zM384.3 113.0h.8v.8h-.8zM387.1 124.5h.8v.8h-.8zM387.4 115.3h.8v.8h-.8z" fill="#000" fill-opacity="0.25"/></g><rect x="377.5" y="86.8" width="47.89999999999998" height="49.89999999999999" fill="none" stroke="#999" stroke-width="0.9"/><line x1="399.3" y1="86.8" x2="399.3" y2="136.7" stroke="#8a8a8a" stroke-width="0.9"/><line x1="377.5" y1="122.2" x2="425.4" y2="122.2" stroke="#999" stroke-width="0.9"/><text x="378.40" y="92.70" font-size="5.8" text-anchor="start" font-weight="normal" fill="#3a3a3a" stroke="#3a3a3a" stroke-width="0.14" >98.1</text><text x="424.50" y="92.70" font-size="5.8" text-anchor="end" font-weight="normal" fill="#3a3a3a" stroke="#3a3a3a" stroke-width="0.14" >0.36</text><text x="378.70" y="136.00" font-size="5.8" text-anchor="start" font-weight="normal" fill="#3a3a3a" stroke="#3a3a3a" stroke-width="0.14" >1.57</text><text x="424.50" y="136.00" font-size="5.8" text-anchor="end" font-weight="normal" fill="#3a3a3a" stroke="#3a3a3a" stroke-width="0.14" >2.32e-3</text><text x="376.0" y="91.8" font-size="2.8" text-anchor="end" fill="#999">10</text><text x="376.0" y="104.5" font-size="2.8" text-anchor="end" fill="#999">10</text><text x="376.0" y="117.3" font-size="2.8" text-anchor="end" fill="#999">10</text><text x="376.0" y="130.0" font-size="2.8" text-anchor="end" fill="#999">10</text><text x="385.5" y="140.5" font-size="2.8" text-anchor="middle" fill="#999">10</text><text x="396.6" y="140.5" font-size="2.8" text-anchor="middle" fill="#999">10</text><text x="407.7" y="140.5" font-size="2.8" text-anchor="middle" fill="#999">10</text><text x="418.8" y="140.5" font-size="2.8" text-anchor="middle" fill="#999">10</text></g><g><clipPath id="c298"><rect x="433.1" y="86.8" width="47.89999999999998" height="50.2"/></clipPath><g clip-path="url(#c298)"><g filter="url(#fb)"><ellipse cx="443" cy="115.5" rx="11" ry="7" fill="#000" fill-opacity="0.12"/><ellipse cx="444.5" cy="116" rx="7" ry="4.5" fill="#000" fill-opacity="0.3"/></g><path d="M442.1 118.3h.8v.8h-.8zM456.6 119.4h.8v.8h-.8zM451.7 112.8h.8v.8h-.8zM449.5 116.1h.8v.8h-.8zM450.4 119.1h.8v.8h-.8zM447.6 111.1h.8v.8h-.8zM445.1 114.5h.8v.8h-.8zM446.6 116.1h.8v.8h-.8zM449.4 111.3h.8v.8h-.8zM441.0 115.8h.8v.8h-.8zM446.0 114.8h.8v.8h-.8zM444.4 116.2h.8v.8h-.8zM449.4 115.7h.8v.8h-.8zM445.6 110.7h.8v.8h-.8zM446.2 109.2h.8v.8h-.8zM446.4 115.7h.8v.8h-.8zM444.5 113.9h.8v.8h-.8zM442.5 118.4h.8v.8h-.8zM446.2 115.9h.8v.8h-.8zM442.2 116.6h.8v.8h-.8zM450.1 115.9h.8v.8h-.8zM442.8 112.5h.8v.8h-.8zM445.0 113.3h.8v.8h-.8zM437.7 118.6h.8v.8h-.8zM441.6 110.0h.8v.8h-.8zM441.1 121.4h.8v.8h-.8zM444.0 112.1h.8v.8h-.8zM439.3 118.1h.8v.8h-.8zM446.4 116.6h.8v.8h-.8zM443.6 117.4h.8v.8h-.8zM451.8 117.4h.8v.8h-.8zM443.7 111.9h.8v.8h-.8zM446.6 120.6h.8v.8h-.8zM447.6 112.3h.8v.8h-.8zM445.4 119.8h.8v.8h-.8zM441.5 117.5h.8v.8h-.8zM450.2 120.8h.8v.8h-.8zM437.0 110.9h.8v.8h-.8zM446.3 118.1h.8v.8h-.8zM442.8 115.9h.8v.8h-.8zM442.6 119.5h.8v.8h-.8zM434.0 116.8h.8v.8h-.8zM438.5 114.0h.8v.8h-.8zM437.3 113.3h.8v.8h-.8zM444.4 116.1h.8v.8h-.8zM452.9 115.3h.8v.8h-.8zM446.1 117.0h.8v.8h-.8zM445.7 120.3h.8v.8h-.8zM445.2 116.4h.8v.8h-.8zM444.0 116.0h.8v.8h-.8zM444.2 118.9h.8v.8h-.8zM444.6 116.2h.8v.8h-.8zM444.3 118.2h.8v.8h-.8zM442.3 118.8h.8v.8h-.8zM441.8 118.0h.8v.8h-.8zM453.6 116.7h.8v.8h-.8zM444.1 112.5h.8v.8h-.8zM448.0 116.0h.8v.8h-.8zM448.8 114.1h.8v.8h-.8zM447.0 121.3h.8v.8h-.8zM446.4 115.0h.8v.8h-.8zM438.3 116.0h.8v.8h-.8zM447.6 117.8h.8v.8h-.8zM439.2 113.0h.8v.8h-.8zM439.9 113.0h.8v.8h-.8zM443.2 116.8h.8v.8h-.8zM453.6 116.6h.8v.8h-.8zM451.4 111.1h.8v.8h-.8zM451.8 118.4h.8v.8h-.8zM446.6 118.4h.8v.8h-.8zM447.4 121.7h.8v.8h-.8zM448.3 110.9h.8v.8h-.8zM436.2 120.8h.8v.8h-.8zM444.1 119.9h.8v.8h-.8zM442.9 114.1h.8v.8h-.8zM442.9 116.9h.8v.8h-.8zM445.4 114.2h.8v.8h-.8zM447.0 117.8h.8v.8h-.8zM440.2 112.7h.8v.8h-.8zM435.2 115.1h.8v.8h-.8zM444.6 113.9h.8v.8h-.8zM441.6 115.6h.8v.8h-.8zM444.6 117.7h.8v.8h-.8zM448.4 117.3h.8v.8h-.8zM449.8 113.1h.8v.8h-.8zM447.4 117.1h.8v.8h-.8zM439.6 114.0h.8v.8h-.8zM446.6 116.2h.8v.8h-.8zM438.5 114.4h.8v.8h-.8zM451.7 118.5h.8v.8h-.8zM444.9 120.0h.8v.8h-.8zM440.2 115.5h.8v.8h-.8zM449.0 115.0h.8v.8h-.8zM439.2 117.7h.8v.8h-.8zM452.1 108.5h.8v.8h-.8zM445.2 112.3h.8v.8h-.8zM443.1 111.8h.8v.8h-.8zM456.8 114.0h.8v.8h-.8zM444.7 113.9h.8v.8h-.8zM439.8 114.7h.8v.8h-.8zM445.5 121.2h.8v.8h-.8zM445.9 120.6h.8v.8h-.8zM439.4 116.2h.8v.8h-.8zM442.4 111.4h.8v.8h-.8zM462.2 115.3h.8v.8h-.8zM445.7 113.8h.8v.8h-.8zM441.8 112.9h.8v.8h-.8zM449.4 114.8h.8v.8h-.8zM443.8 116.5h.8v.8h-.8zM438.7 116.7h.8v.8h-.8zM443.7 117.3h.8v.8h-.8zM442.7 116.1h.8v.8h-.8zM447.0 118.9h.8v.8h-.8zM441.2 118.9h.8v.8h-.8zM439.8 115.4h.8v.8h-.8zM445.1 116.4h.8v.8h-.8zM443.6 118.7h.8v.8h-.8zM441.2 120.5h.8v.8h-.8zM435.9 116.2h.8v.8h-.8zM447.1 116.1h.8v.8h-.8zM445.8 118.8h.8v.8h-.8zM440.7 117.7h.8v.8h-.8zM449.5 115.3h.8v.8h-.8zM433.5 112.5h.8v.8h-.8zM440.4 112.9h.8v.8h-.8zM446.5 113.6h.8v.8h-.8zM456.3 117.7h.8v.8h-.8zM438.3 115.2h.8v.8h-.8zM451.7 118.0h.8v.8h-.8zM439.7 119.1h.8v.8h-.8zM442.2 122.6h.8v.8h-.8zM441.9 117.8h.8v.8h-.8zM447.2 114.7h.8v.8h-.8zM443.8 119.4h.8v.8h-.8zM446.9 115.8h.8v.8h-.8zM446.6 121.2h.8v.8h-.8zM448.9 117.4h.8v.8h-.8zM446.1 111.4h.8v.8h-.8zM445.1 114.6h.8v.8h-.8zM448.0 114.2h.8v.8h-.8zM446.6 112.9h.8v.8h-.8zM448.7 113.8h.8v.8h-.8zM444.4 117.7h.8v.8h-.8zM443.0 116.0h.8v.8h-.8zM449.5 121.2h.8v.8h-.8zM435.9 113.3h.8v.8h-.8zM447.7 118.8h.8v.8h-.8zM442.3 116.3h.8v.8h-.8zM443.6 122.7h.8v.8h-.8zM443.6 112.5h.8v.8h-.8zM437.1 112.2h.8v.8h-.8zM450.7 114.8h.8v.8h-.8zM453.7 117.9h.8v.8h-.8zM446.3 117.9h.8v.8h-.8zM448.2 118.7h.8v.8h-.8zM439.9 114.3h.8v.8h-.8zM441.9 116.3h.8v.8h-.8zM443.3 112.3h.8v.8h-.8zM441.2 121.3h.8v.8h-.8zM454.6 113.5h.8v.8h-.8zM446.3 115.9h.8v.8h-.8zM440.5 118.1h.8v.8h-.8zM444.2 120.9h.8v.8h-.8zM446.7 115.1h.8v.8h-.8zM448.5 113.9h.8v.8h-.8zM448.7 118.0h.8v.8h-.8zM436.1 115.4h.8v.8h-.8zM446.0 118.2h.8v.8h-.8zM445.2 116.0h.8v.8h-.8zM442.9 115.1h.8v.8h-.8zM444.5 112.9h.8v.8h-.8zM447.5 115.0h.8v.8h-.8zM447.0 114.5h.8v.8h-.8zM446.4 116.4h.8v.8h-.8zM448.7 117.4h.8v.8h-.8zM448.9 115.5h.8v.8h-.8zM444.2 115.2h.8v.8h-.8zM438.6 115.6h.8v.8h-.8zM449.7 118.3h.8v.8h-.8zM440.5 116.9h.8v.8h-.8zM448.1 112.0h.8v.8h-.8zM446.2 117.0h.8v.8h-.8zM448.1 116.8h.8v.8h-.8zM436.2 110.0h.8v.8h-.8zM453.9 114.8h.8v.8h-.8zM450.5 119.7h.8v.8h-.8zM444.9 112.6h.8v.8h-.8zM451.0 115.9h.8v.8h-.8zM447.0 117.4h.8v.8h-.8zM449.0 119.0h.8v.8h-.8zM437.8 111.8h.8v.8h-.8zM445.2 116.0h.8v.8h-.8zM448.2 115.6h.8v.8h-.8zM443.6 122.0h.8v.8h-.8zM451.0 119.4h.8v.8h-.8zM449.4 113.7h.8v.8h-.8zM444.1 115.8h.8v.8h-.8zM439.3 113.4h.8v.8h-.8zM445.3 112.4h.8v.8h-.8zM447.1 117.4h.8v.8h-.8zM443.4 115.0h.8v.8h-.8zM447.4 117.4h.8v.8h-.8zM446.2 112.4h.8v.8h-.8zM436.8 122.1h.8v.8h-.8zM441.4 114.9h.8v.8h-.8zM435.8 113.6h.8v.8h-.8zM441.0 118.4h.8v.8h-.8zM442.5 114.5h.8v.8h-.8zM440.8 114.7h.8v.8h-.8zM437.0 116.8h.8v.8h-.8zM450.2 116.5h.8v.8h-.8zM442.0 119.7h.8v.8h-.8zM446.8 113.0h.8v.8h-.8zM441.8 114.2h.8v.8h-.8zM444.3 119.6h.8v.8h-.8zM441.2 115.6h.8v.8h-.8zM445.0 112.5h.8v.8h-.8zM442.2 117.8h.8v.8h-.8zM449.9 110.5h.8v.8h-.8zM447.9 115.1h.8v.8h-.8zM450.6 117.8h.8v.8h-.8zM453.8 116.9h.8v.8h-.8zM442.6 113.5h.8v.8h-.8zM437.7 117.6h.8v.8h-.8zM446.9 118.4h.8v.8h-.8zM446.2 111.6h.8v.8h-.8zM442.6 115.3h.8v.8h-.8zM445.3 118.3h.8v.8h-.8zM451.2 116.8h.8v.8h-.8zM434.7 113.0h.8v.8h-.8zM434.4 113.7h.8v.8h-.8zM438.8 116.7h.8v.8h-.8zM443.5 119.3h.8v.8h-.8zM449.6 114.7h.8v.8h-.8zM449.0 116.0h.8v.8h-.8zM446.7 120.0h.8v.8h-.8zM439.1 115.8h.8v.8h-.8zM451.8 113.8h.8v.8h-.8zM445.5 116.4h.8v.8h-.8zM442.5 112.1h.8v.8h-.8zM441.2 113.1h.8v.8h-.8zM449.6 116.7h.8v.8h-.8zM447.8 112.5h.8v.8h-.8zM446.9 116.4h.8v.8h-.8zM449.5 113.9h.8v.8h-.8zM448.3 120.0h.8v.8h-.8z" fill="#000" fill-opacity="0.3"/><path d="M457.4 110.9h.8v.8h-.8zM435.7 108.5h.8v.8h-.8zM451.1 117.6h.8v.8h-.8zM446.5 111.2h.8v.8h-.8zM453.3 122.1h.8v.8h-.8zM443.7 114.5h.8v.8h-.8zM452.8 117.2h.8v.8h-.8zM454.0 113.2h.8v.8h-.8zM446.5 113.5h.8v.8h-.8zM439.8 113.7h.8v.8h-.8zM441.9 117.2h.8v.8h-.8zM441.8 115.3h.8v.8h-.8zM438.0 109.6h.8v.8h-.8zM454.6 110.7h.8v.8h-.8zM457.4 119.1h.8v.8h-.8zM440.9 115.1h.8v.8h-.8zM442.7 112.3h.8v.8h-.8zM453.3 114.4h.8v.8h-.8zM451.1 112.0h.8v.8h-.8zM438.9 120.9h.8v.8h-.8zM441.9 110.2h.8v.8h-.8zM442.7 119.6h.8v.8h-.8zM442.8 111.8h.8v.8h-.8zM448.7 119.3h.8v.8h-.8zM442.5 113.6h.8v.8h-.8zM441.3 126.9h.8v.8h-.8zM442.6 122.7h.8v.8h-.8zM442.9 116.8h.8v.8h-.8zM444.4 113.6h.8v.8h-.8zM441.0 109.0h.8v.8h-.8zM439.3 114.6h.8v.8h-.8zM442.7 112.8h.8v.8h-.8zM438.6 123.2h.8v.8h-.8zM435.8 112.8h.8v.8h-.8zM441.8 109.9h.8v.8h-.8zM436.9 118.8h.8v.8h-.8zM450.9 115.6h.8v.8h-.8zM468.0 118.6h.8v.8h-.8zM453.1 111.4h.8v.8h-.8zM452.0 122.4h.8v.8h-.8zM441.2 123.0h.8v.8h-.8zM438.0 110.0h.8v.8h-.8zM443.7 111.5h.8v.8h-.8zM448.7 110.1h.8v.8h-.8zM444.6 106.4h.8v.8h-.8zM443.8 119.6h.8v.8h-.8zM442.1 116.4h.8v.8h-.8zM452.1 110.2h.8v.8h-.8zM434.6 115.4h.8v.8h-.8zM446.1 113.8h.8v.8h-.8zM436.8 120.3h.8v.8h-.8zM435.4 113.9h.8v.8h-.8zM443.7 118.2h.8v.8h-.8zM440.7 111.4h.8v.8h-.8zM458.9 111.3h.8v.8h-.8zM449.9 114.3h.8v.8h-.8zM440.5 114.8h.8v.8h-.8zM442.1 116.4h.8v.8h-.8zM444.6 110.7h.8v.8h-.8zM441.2 125.3h.8v.8h-.8zM457.7 117.8h.8v.8h-.8zM445.7 113.7h.8v.8h-.8zM454.3 113.0h.8v.8h-.8zM438.0 118.0h.8v.8h-.8zM436.9 111.5h.8v.8h-.8zM454.7 107.9h.8v.8h-.8zM443.5 115.5h.8v.8h-.8zM445.9 108.6h.8v.8h-.8zM442.3 113.5h.8v.8h-.8zM458.3 119.4h.8v.8h-.8zM438.4 118.8h.8v.8h-.8zM448.9 114.5h.8v.8h-.8zM442.2 113.8h.8v.8h-.8zM451.0 121.4h.8v.8h-.8zM457.8 113.4h.8v.8h-.8zM448.6 104.4h.8v.8h-.8zM442.0 109.5h.8v.8h-.8zM450.1 107.7h.8v.8h-.8zM436.3 110.1h.8v.8h-.8zM447.0 118.7h.8v.8h-.8zM437.2 122.9h.8v.8h-.8zM445.2 111.3h.8v.8h-.8zM446.6 114.9h.8v.8h-.8zM450.2 116.5h.8v.8h-.8zM460.2 120.1h.8v.8h-.8zM439.3 118.5h.8v.8h-.8zM449.7 110.6h.8v.8h-.8zM438.5 111.5h.8v.8h-.8zM442.4 120.4h.8v.8h-.8zM439.9 115.3h.8v.8h-.8zM449.4 119.3h.8v.8h-.8zM446.4 110.4h.8v.8h-.8zM460.3 118.8h.8v.8h-.8zM454.1 122.1h.8v.8h-.8zM454.4 116.8h.8v.8h-.8zM447.5 117.8h.8v.8h-.8zM436.8 116.9h.8v.8h-.8zM436.6 118.1h.8v.8h-.8zM440.4 125.9h.8v.8h-.8zM445.5 117.2h.8v.8h-.8zM437.3 113.7h.8v.8h-.8zM443.6 113.7h.8v.8h-.8zM440.8 111.2h.8v.8h-.8zM449.7 113.3h.8v.8h-.8zM438.0 116.6h.8v.8h-.8zM438.0 114.2h.8v.8h-.8zM440.3 110.9h.8v.8h-.8zM442.4 111.4h.8v.8h-.8zM434.8 116.5h.8v.8h-.8zM441.9 108.6h.8v.8h-.8zM441.1 115.8h.8v.8h-.8zM447.2 116.6h.8v.8h-.8zM445.9 117.6h.8v.8h-.8z" fill="#000" fill-opacity="0.22"/></g><rect x="433.1" y="86.8" width="47.89999999999998" height="50.2" fill="none" stroke="#999" stroke-width="0.9"/><line x1="454.6" y1="86.8" x2="454.6" y2="137" stroke="#8a8a8a" stroke-width="0.9"/><line x1="433.1" y1="121.7" x2="481" y2="121.7" stroke="#999" stroke-width="0.9"/><text x="434.00" y="92.70" font-size="5.8" text-anchor="start" font-weight="normal" fill="#3a3a3a" stroke="#3a3a3a" stroke-width="0.14" >97.5</text><text x="480.10" y="92.70" font-size="5.8" text-anchor="end" font-weight="normal" fill="#3a3a3a" stroke="#3a3a3a" stroke-width="0.14" >0.32</text><text x="434.30" y="136.30" font-size="5.8" text-anchor="start" font-weight="normal" fill="#3a3a3a" stroke="#3a3a3a" stroke-width="0.14" >2.14</text><text x="480.10" y="136.30" font-size="5.8" text-anchor="end" font-weight="normal" fill="#3a3a3a" stroke="#3a3a3a" stroke-width="0.14" >0.022</text><text x="431.6" y="91.8" font-size="2.8" text-anchor="end" fill="#999">10</text><text x="431.6" y="104.6" font-size="2.8" text-anchor="end" fill="#999">10</text><text x="431.6" y="117.5" font-size="2.8" text-anchor="end" fill="#999">10</text><text x="431.6" y="130.3" font-size="2.8" text-anchor="end" fill="#999">10</text><text x="441.1" y="140.8" font-size="2.8" text-anchor="middle" fill="#999">10</text><text x="452.2" y="140.8" font-size="2.8" text-anchor="middle" fill="#999">10</text><text x="463.3" y="140.8" font-size="2.8" text-anchor="middle" fill="#999">10</text><text x="474.4" y="140.8" font-size="2.8" text-anchor="middle" fill="#999">10</text></g><text x="222.10" y="49.60" font-size="10" text-anchor="start" font-weight="normal" fill="#111" stroke="#111" stroke-width="0.06" textLength="15.3" lengthAdjust="spacingAndGlyphs" >WT</text><text x="484.90" y="49.30" font-size="10" text-anchor="start" font-weight="normal" fill="#111" stroke="#111" stroke-width="0.06" textLength="14.9" lengthAdjust="spacingAndGlyphs" >WT</text><text x="222.2" y="111.9" font-size="10" fill="#111" stroke="#111" stroke-width="0.12"><tspan textLength="21.6" lengthAdjust="spacingAndGlyphs">Stat6</tspan><tspan font-size="5.5" dy="-3.7" dx="0.6" fill="#666" stroke="none" textLength="9.0" lengthAdjust="spacing">&#8211;/&#8211;</tspan></text><text x="485" y="115.1" font-size="10" fill="#111" stroke="#111" stroke-width="0.12"><tspan textLength="21.9" lengthAdjust="spacingAndGlyphs">Stat6</tspan><tspan font-size="5.5" dy="-3.3" dx="0.6" fill="#666" stroke="none" textLength="8.4" lengthAdjust="spacing">&#8211;/&#8211;</tspan></text><line x1="103" y1="24.1" x2="103" y2="109" stroke="#111" stroke-width="1.3"/><path d="M101.2 25.6 L103 21.1 L104.8 25.6 Z" fill="#111"/><text transform="translate(106.0,121.55) rotate(-90)" font-size="9" text-anchor="middle" fill="#111" stroke="#111" stroke-width="0.08" textLength="20.099999999999994" lengthAdjust="spacingAndGlyphs">F4/80</text><line x1="365.9" y1="25.5" x2="365.9" y2="112.3" stroke="#111" stroke-width="1.3"/><path d="M364.09999999999997 27.0 L365.9 22.5 L367.7 27.0 Z" fill="#111"/><text transform="translate(368.9,125.2) rotate(-90)" font-size="9" text-anchor="middle" fill="#111" stroke="#111" stroke-width="0.08" textLength="19.599999999999994" lengthAdjust="spacingAndGlyphs">F4/80</text><text x="116.90" y="150.30" font-size="8" text-anchor="start" font-weight="normal" fill="#111" stroke="#111" stroke-width="0.14" textLength="25.6" lengthAdjust="spacingAndGlyphs" >Isotype</text><line x1="147" y1="147.8" x2="159.8" y2="147.8" stroke="#111" stroke-width="1.1"/><path d="M158.3 146.10000000000002 L162.8 147.8 L158.3 149.5 Z" fill="#111"/><text x="172.00" y="150.20" font-size="7.6" text-anchor="start" font-weight="normal" fill="#111" stroke="#111" stroke-width="0.14" textLength="21.3" lengthAdjust="spacingAndGlyphs" >PD-L2</text><line x1="197.3" y1="147.8" x2="214.3" y2="147.8" stroke="#111" stroke-width="1.1"/><path d="M212.8 146.10000000000002 L217.3 147.8 L212.8 149.5 Z" fill="#111"/><text x="379.40" y="151.70" font-size="8" text-anchor="start" font-weight="normal" fill="#111" stroke="#111" stroke-width="0.14" textLength="24.5" lengthAdjust="spacingAndGlyphs" >Isotype</text><line x1="409.3" y1="149.2" x2="422.3" y2="149.2" stroke="#111" stroke-width="1.1"/><path d="M420.8 147.5 L425.3 149.2 L420.8 150.89999999999998 Z" fill="#111"/><text x="433.70" y="151.70" font-size="7.6" text-anchor="start" font-weight="normal" fill="#111" stroke="#111" stroke-width="0.14" textLength="21.8" lengthAdjust="spacingAndGlyphs" >PD-L2</text><line x1="459.5" y1="149.2" x2="476.9" y2="149.2" stroke="#111" stroke-width="1.1"/><path d="M475.4 147.5 L479.9 149.2 L475.4 150.89999999999998 Z" fill="#111"/>
<text x="295.20" y="251.40" font-size="6.8" text-anchor="end" font-weight="normal" fill="#111" stroke="#111" stroke-width="0.14" textLength="3.3" lengthAdjust="spacingAndGlyphs" >0</text><text x="295.20" y="238.20" font-size="6.8" text-anchor="end" font-weight="normal" fill="#111" stroke="#111" stroke-width="0.14" textLength="3.3" lengthAdjust="spacingAndGlyphs" >5</text><text x="295.20" y="225.00" font-size="6.8" text-anchor="end" font-weight="normal" fill="#111" stroke="#111" stroke-width="0.14" textLength="6.6" lengthAdjust="spacingAndGlyphs" >10</text><text x="295.20" y="211.80" font-size="6.8" text-anchor="end" font-weight="normal" fill="#111" stroke="#111" stroke-width="0.14" textLength="6.6" lengthAdjust="spacingAndGlyphs" >15</text><text x="295.20" y="198.60" font-size="6.8" text-anchor="end" font-weight="normal" fill="#111" stroke="#111" stroke-width="0.14" textLength="6.6" lengthAdjust="spacingAndGlyphs" >20</text><text x="295.20" y="185.40" font-size="6.8" text-anchor="end" font-weight="normal" fill="#111" stroke="#111" stroke-width="0.14" textLength="6.6" lengthAdjust="spacingAndGlyphs" >25</text><rect x="302.2" y="201.48" width="8.5" height="47.52" fill="#c4c4c4" stroke="#666" stroke-width="0.8"/><rect x="317.9" y="246.36" width="8.5" height="2.64" fill="#c4c4c4" stroke="#666" stroke-width="0.8"/><rect x="333.3" y="241.08" width="8.5" height="7.92" fill="#c4c4c4" stroke="#666" stroke-width="0.8"/><rect x="298.8" y="183" width="46.30000000000001" height="66" fill="none" stroke="#777" stroke-width="0.9"/><circle cx="306.2" cy="189.8" r="2.1" fill="#000"/><circle cx="306.2" cy="214" r="2.1" fill="#000"/><circle cx="321.9" cy="245.7" r="2.1" fill="#000"/><circle cx="337.3" cy="241.6" r="2.1" fill="#000"/><text x="311.60" y="180.20" font-size="11.4" text-anchor="start" font-weight="normal" fill="#111" stroke="#111" stroke-width="0.06" textLength="21.6" lengthAdjust="spacingAndGlyphs" >BAL</text><text x="359.60" y="251.40" font-size="6.8" text-anchor="end" font-weight="normal" fill="#111" stroke="#111" stroke-width="0.14" textLength="3.3" lengthAdjust="spacingAndGlyphs" >0</text><text x="359.60" y="234.90" font-size="6.8" text-anchor="end" font-weight="normal" fill="#111" stroke="#111" stroke-width="0.14" textLength="6.6" lengthAdjust="spacingAndGlyphs" >10</text><text x="359.60" y="218.40" font-size="6.8" text-anchor="end" font-weight="normal" fill="#111" stroke="#111" stroke-width="0.14" textLength="6.6" lengthAdjust="spacingAndGlyphs" >20</text><text x="359.60" y="201.90" font-size="6.8" text-anchor="end" font-weight="normal" fill="#111" stroke="#111" stroke-width="0.14" textLength="6.6" lengthAdjust="spacingAndGlyphs" >30</text><text x="359.60" y="185.40" font-size="6.8" text-anchor="end" font-weight="normal" fill="#111" stroke="#111" stroke-width="0.14" textLength="6.6" lengthAdjust="spacingAndGlyphs" >40</text><rect x="366" y="204.45" width="8.300000000000011" height="44.55" fill="#c4c4c4" stroke="#666" stroke-width="0.8"/><rect x="381.7" y="245.70" width="8.300000000000011" height="3.30" fill="#c4c4c4" stroke="#666" stroke-width="0.8"/><rect x="396.6" y="245.70" width="8.699999999999989" height="3.30" fill="#c4c4c4" stroke="#666" stroke-width="0.8"/><rect x="363" y="183" width="46.19999999999999" height="66" fill="none" stroke="#777" stroke-width="0.9"/><circle cx="369.8" cy="191.6" r="2.1" fill="#000"/><circle cx="369.8" cy="217.8" r="2.1" fill="#000"/><circle cx="385.6" cy="245.6" r="2.1" fill="#000"/><circle cx="400.8" cy="244.5" r="2.1" fill="#000"/><circle cx="400.8" cy="246.8" r="2.1" fill="#000"/><text x="372.60" y="180.20" font-size="11.4" text-anchor="start" font-weight="normal" fill="#111" stroke="#111" stroke-width="0.06" textLength="25.4" lengthAdjust="spacingAndGlyphs" >Lung</text><text transform="translate(282.4,216) rotate(-90)" font-size="9.5" text-anchor="middle" fill="#111" stroke="#111" stroke-width="0.08" textLength="61" lengthAdjust="spacingAndGlyphs">% PD-L2<tspan font-size="5.5" dy="-3">+</tspan><tspan dy="3"> M&#981;</tspan></text><text transform="translate(309.4,258.9) rotate(-58)" font-size="7.8" text-anchor="end" fill="#111" stroke="#111" stroke-width="0.15">IL-4/IL-13<tspan font-size="4.8" dy="-2.8">f/f</tspan></text><text transform="translate(373.09999999999997,258.9) rotate(-58)" font-size="7.8" text-anchor="end" fill="#111" stroke="#111" stroke-width="0.15">IL-4/IL-13<tspan font-size="4.8" dy="-2.8">f/f</tspan></text><text transform="translate(325.09999999999997,258.9) rotate(-58)" font-size="7.8" text-anchor="end" fill="#111" stroke="#111" stroke-width="0.15">CD4Cre/IL-4/IL-13<tspan font-size="4.8" dy="-2.8">f/f</tspan></text><text transform="translate(388.7,258.9) rotate(-58)" font-size="7.8" text-anchor="end" fill="#111" stroke="#111" stroke-width="0.15">CD4Cre/IL-4/IL-13<tspan font-size="4.8" dy="-2.8">f/f</tspan></text><text transform="translate(340.5,258.9) rotate(-58)" font-size="7.8" text-anchor="end" fill="#111" stroke="#111" stroke-width="0.15">IL-4/IL-13<tspan font-size="4.8" dy="-2.8">&#8211;/&#8211;</tspan></text><text transform="translate(403.9,258.9) rotate(-58)" font-size="7.8" text-anchor="end" fill="#111" stroke="#111" stroke-width="0.15">IL-4/IL-13<tspan font-size="4.8" dy="-2.8">&#8211;/&#8211;</tspan></text><text x="67.70" y="176.80" font-size="10.5" text-anchor="start" font-weight="normal" fill="#111" stroke="#111" stroke-width="0.06" textLength="16.1" lengthAdjust="spacingAndGlyphs" >WT</text><text x="148.7" y="176.5" font-size="10" fill="#111" stroke="#111" stroke-width="0.1"><tspan textLength="22.6" lengthAdjust="spacingAndGlyphs">Stat6</tspan><tspan font-size="5.5" dy="-3.6" dx="0.9" fill="#777" stroke="none" textLength="8.6" lengthAdjust="spacing">&#8211;/&#8211;</tspan></text><text x="215.00" y="217.70" font-size="9.8" text-anchor="start" font-weight="normal" fill="#111" stroke="#111" stroke-width="0.06" textLength="26.9" lengthAdjust="spacingAndGlyphs" >PD-L2</text><text x="215.00" y="285.40" font-size="10" text-anchor="start" font-weight="normal" fill="#111" stroke="#111" stroke-width="0.06" textLength="18.5" lengthAdjust="spacingAndGlyphs" >Ym1</text>
</svg></body></html>
